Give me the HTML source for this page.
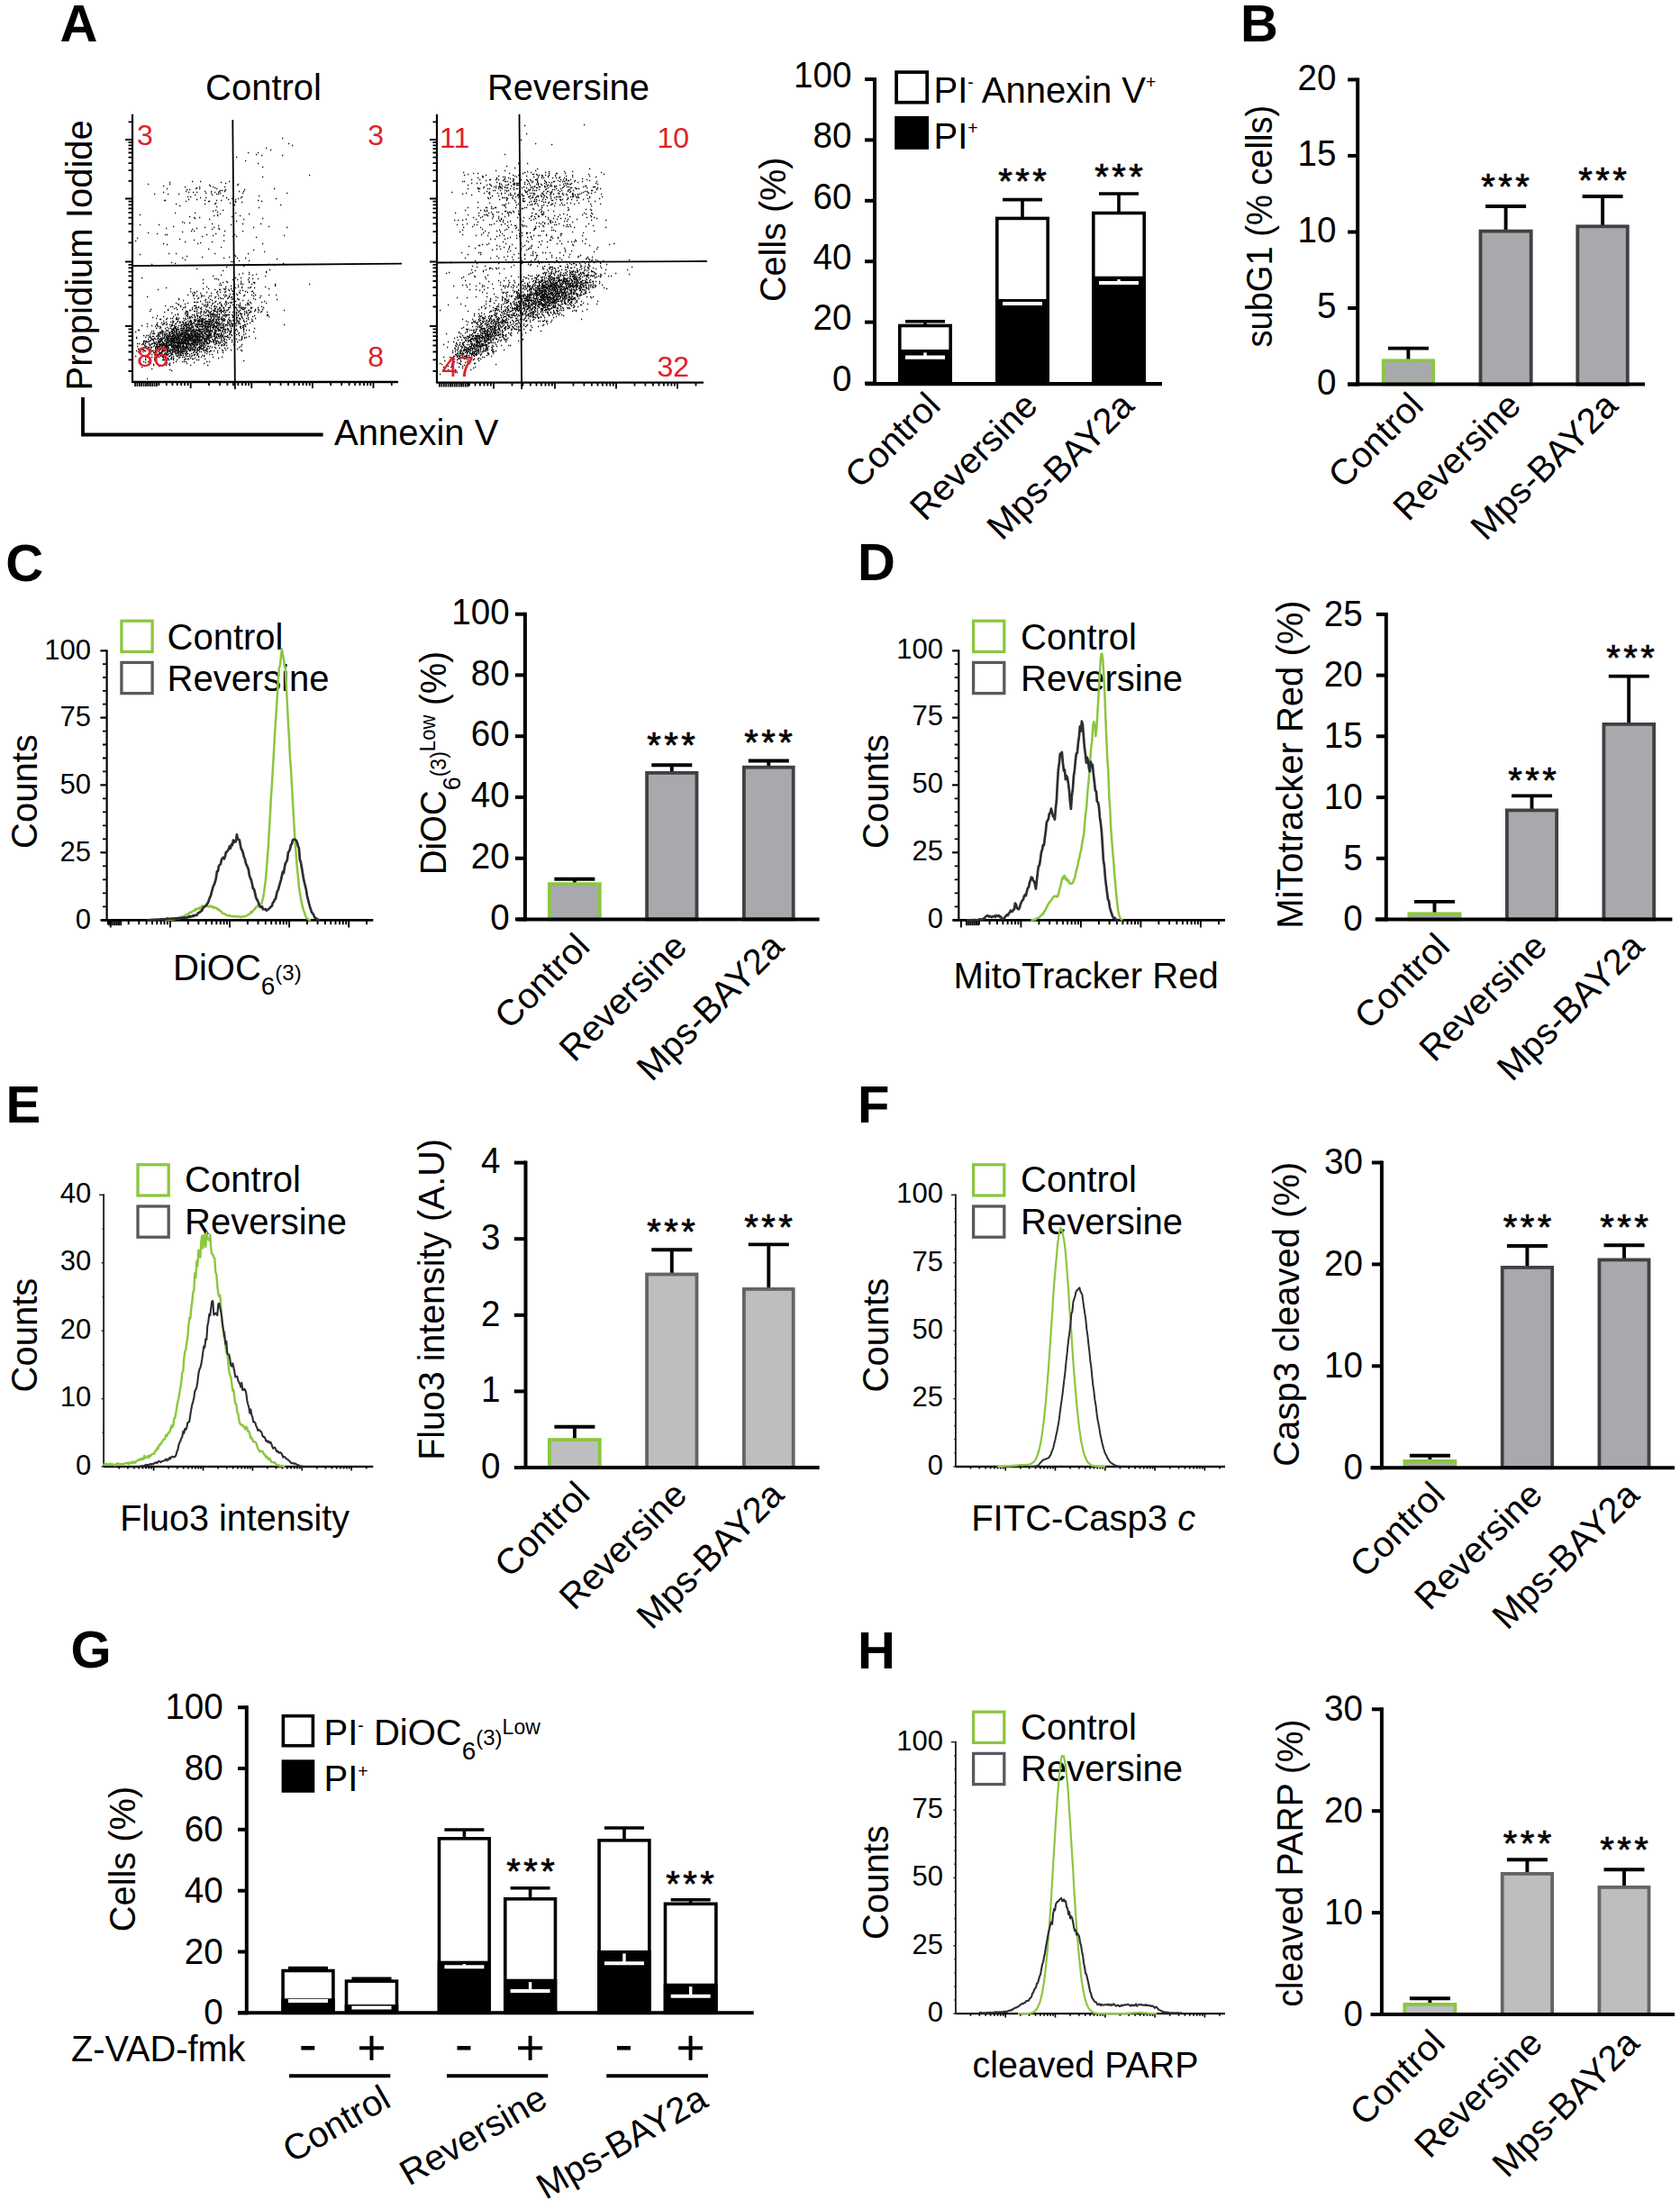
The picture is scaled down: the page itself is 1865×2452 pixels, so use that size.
<!DOCTYPE html>
<html lang="en"><head><meta charset="utf-8"><title>Figure</title>
<style>html,body{margin:0;padding:0;background:#fff}body{width:1865px;height:2452px;overflow:hidden}svg{display:block}text{white-space:pre}</style>
</head><body>
<svg width="1865" height="2452" viewBox="0 0 1865 2452" font-family="'Liberation Sans', Arial, Helvetica, sans-serif" fill="#000">
<rect x="0" y="0" width="1865" height="2452" fill="#fff"/>
<text x="66.5" y="45.6" font-size="58" font-weight="bold">A</text>
<text x="1377" y="45.6" font-size="58" font-weight="bold">B</text>
<text x="6.3" y="644.5" font-size="58" font-weight="bold">C</text>
<text x="952" y="644.2" font-size="58" font-weight="bold">D</text>
<text x="6.6" y="1246.2" font-size="58" font-weight="bold">E</text>
<text x="952" y="1246.2" font-size="58" font-weight="bold">F</text>
<text x="78.6" y="1851.3" font-size="58" font-weight="bold">G</text>
<text x="952" y="1851.5" font-size="58" font-weight="bold">H</text>
<path d="M200,380.5h1.3M210,395.5h1.3M197,389.5h1.3M182,375.5h1.3M190,375.5h1.3M181,381.5h1.3M203,386.5h1.3M223,367.5h1.3M190,376.5h1.3M190,388.5h1.3M211,383.5h1.3M206,375.5h1.3M200,370.5h1.3M180,372.5h1.3M198,374.5h1.3M209,360.5h1.3M177,391.5h1.3M190,377.5h1.3M166,391.5h1.3M180,399.5h1.3M168,396.5h1.3M194,372.5h1.3M178,391.5h1.3M207,386.5h1.3M202,373.5h1.3M195,373.5h1.3M153,390.5h1.3M187,370.5h1.3M202,390.5h1.3M198,361.5h1.3M170,378.5h1.3M191,379.5h1.3M182,382.5h1.3M185,384.5h1.3M220,376.5h1.3M185,381.5h1.3M201,387.5h1.3M212,359.5h1.3M189,382.5h1.3M197,374.5h1.3M202,379.5h1.3M202,380.5h1.3M176,378.5h1.3M200,374.5h1.3M226,379.5h1.3M172,389.5h1.3M215,370.5h1.3M206,393.5h1.3M192,399.5h1.3M234,359.5h1.3M215,378.5h1.3M182,403.5h1.3M203,384.5h1.3M211,378.5h1.3M196,378.5h1.3M212,372.5h1.3M198,378.5h1.3M211,372.5h1.3M228,378.5h1.3M187,379.5h1.3M203,375.5h1.3M189,372.5h1.3M202,378.5h1.3M189,380.5h1.3M198,387.5h1.3M217,378.5h1.3M222,377.5h1.3M176,388.5h1.3M185,383.5h1.3M212,375.5h1.3M163,386.5h1.3M193,387.5h1.3M196,372.5h1.3M226,383.5h1.3M213,376.5h1.3M193,375.5h1.3M192,377.5h1.3M194,375.5h1.3M228,373.5h1.3M191,376.5h1.3M196,389.5h1.3M205,372.5h1.3M194,363.5h1.3M195,375.5h1.3M176,370.5h1.3M200,379.5h1.3M194,389.5h1.3M223,378.5h1.3M210,366.5h1.3M216,389.5h1.3M194,383.5h1.3M219,374.5h1.3M202,387.5h1.3M215,394.5h1.3M179,394.5h1.3M207,378.5h1.3M170,389.5h1.3M164,393.5h1.3M193,376.5h1.3M181,375.5h1.3M203,379.5h1.3M240,362.5h1.3M185,382.5h1.3M189,383.5h1.3M208,395.5h1.3M208,371.5h1.3M197,379.5h1.3M196,379.5h1.3M214,379.5h1.3M211,384.5h1.3M180,380.5h1.3M197,373.5h1.3M198,367.5h1.3M179,377.5h1.3M206,382.5h1.3M184,383.5h1.3M216,367.5h1.3M190,385.5h1.3M197,375.5h1.3M176,371.5h1.3M205,369.5h1.3M164,401.5h1.3M167,385.5h1.3M214,377.5h1.3M184,380.5h1.3M213,370.5h1.3M172,386.5h1.3M223,373.5h1.3M223,359.5h1.3M199,378.5h1.3M193,374.5h1.3M196,376.5h1.3M182,385.5h1.3M221,379.5h1.3M192,388.5h1.3M198,376.5h1.3M187,389.5h1.3M191,390.5h1.3M179,393.5h1.3M217,373.5h1.3M202,385.5h1.3M185,372.5h1.3M194,382.5h1.3M189,378.5h1.3M199,376.5h1.3M190,368.5h1.3M175,385.5h1.3M232,379.5h1.3M187,382.5h1.3M180,382.5h1.3M205,371.5h1.3M227,375.5h1.3M173,384.5h1.3M197,384.5h1.3M192,395.5h1.3M167,387.5h1.3M211,365.5h1.3M198,373.5h1.3M199,368.5h1.3M184,374.5h1.3M211,386.5h1.3M190,383.5h1.3M195,369.5h1.3M181,389.5h1.3M180,394.5h1.3M224,370.5h1.3M189,376.5h1.3M205,375.5h1.3M200,381.5h1.3M193,386.5h1.3M193,390.5h1.3M214,385.5h1.3M200,390.5h1.3M202,384.5h1.3M219,362.5h1.3M208,380.5h1.3M189,379.5h1.3M176,392.5h1.3M217,372.5h1.3M216,368.5h1.3M211,381.5h1.3M215,377.5h1.3M217,382.5h1.3M219,382.5h1.3M192,384.5h1.3M223,354.5h1.3M176,380.5h1.3M215,372.5h1.3M207,370.5h1.3M216,376.5h1.3M237,379.5h1.3M226,369.5h1.3M177,376.5h1.3M173,402.5h1.3M214,372.5h1.3M179,375.5h1.3M216,378.5h1.3M168,381.5h1.3M163,394.5h1.3M204,374.5h1.3M199,372.5h1.3M196,381.5h1.3M183,378.5h1.3M173,388.5h1.3M187,404.5h1.3M212,387.5h1.3M199,379.5h1.3M207,376.5h1.3M183,389.5h1.3M189,389.5h1.3M184,393.5h1.3M184,385.5h1.3M203,374.5h1.3M185,379.5h1.3M207,381.5h1.3M207,382.5h1.3M240,380.5h1.3M175,388.5h1.3M218,383.5h1.3M201,390.5h1.3M171,375.5h1.3M189,373.5h1.3M201,391.5h1.3M200,372.5h1.3M222,378.5h1.3M203,392.5h1.3M161,396.5h1.3M187,381.5h1.3M163,387.5h1.3M191,383.5h1.3M224,369.5h1.3M201,379.5h1.3M181,396.5h1.3M180,371.5h1.3M221,376.5h1.3M201,372.5h1.3M201,380.5h1.3M201,385.5h1.3M201,378.5h1.3M216,381.5h1.3M207,365.5h1.3M206,386.5h1.3M180,379.5h1.3M188,383.5h1.3M215,355.5h1.3M175,379.5h1.3M198,381.5h1.3M203,390.5h1.3M176,387.5h1.3M232,373.5h1.3M224,362.5h1.3M194,392.5h1.3M218,389.5h1.3M207,377.5h1.3M151,389.5h1.3M202,366.5h1.3M200,386.5h1.3M206,398.5h1.3M198,384.5h1.3M220,366.5h1.3M209,387.5h1.3M198,370.5h1.3M228,370.5h1.3M190,384.5h1.3M194,387.5h1.3M167,390.5h1.3M230,375.5h1.3M216,369.5h1.3M215,365.5h1.3M212,376.5h1.3M201,373.5h1.3M202,368.5h1.3M193,371.5h1.3M195,376.5h1.3M198,365.5h1.3M225,362.5h1.3M199,381.5h1.3M192,397.5h1.3M227,361.5h1.3M208,372.5h1.3M203,385.5h1.3M193,379.5h1.3M179,382.5h1.3M202,392.5h1.3M215,373.5h1.3M191,372.5h1.3M193,370.5h1.3M197,382.5h1.3M203,381.5h1.3M168,376.5h1.3M194,373.5h1.3M185,387.5h1.3M217,379.5h1.3M185,378.5h1.3M212,381.5h1.3M229,376.5h1.3M191,367.5h1.3M188,379.5h1.3M204,381.5h1.3M199,375.5h1.3M178,368.5h1.3M208,375.5h1.3M239,375.5h1.3M198,392.5h1.3M192,364.5h1.3M185,403.5h1.3M204,369.5h1.3M179,392.5h1.3M182,393.5h1.3M225,380.5h1.3M184,384.5h1.3M218,366.5h1.3M229,377.5h1.3M203,373.5h1.3M206,358.5h1.3M241,391.5h1.3M198,385.5h1.3M173,379.5h1.3M203,389.5h1.3M230,384.5h1.3M221,386.5h1.3M183,383.5h1.3M182,374.5h1.3M190,380.5h1.3M201,362.5h1.3M193,368.5h1.3M204,379.5h1.3M204,370.5h1.3M194,379.5h1.3M207,392.5h1.3M201,389.5h1.3M209,376.5h1.3M209,371.5h1.3M200,376.5h1.3M171,393.5h1.3M205,368.5h1.3M164,386.5h1.3M172,376.5h1.3M216,388.5h1.3M196,374.5h1.3M169,389.5h1.3M192,374.5h1.3M185,374.5h1.3M209,367.5h1.3M244,379.5h1.3M187,386.5h1.3M177,379.5h1.3M200,384.5h1.3M196,377.5h1.3M180,390.5h1.3M179,386.5h1.3M219,370.5h1.3M219,371.5h1.3M188,369.5h1.3M209,373.5h1.3M193,380.5h1.3M176,386.5h1.3M174,389.5h1.3M212,365.5h1.3M195,374.5h1.3M202,371.5h1.3M220,380.5h1.3M171,399.5h1.3M203,376.5h1.3M210,388.5h1.3M190,370.5h1.3M222,385.5h1.3M173,364.5h1.3M188,403.5h1.3M218,387.5h1.3M207,369.5h1.3M165,389.5h1.3M224,371.5h1.3M211,377.5h1.3M222,362.5h1.3M192,376.5h1.3M195,384.5h1.3M180,386.5h1.3M249,376.5h1.3M197,380.5h1.3M234,389.5h1.3M187,377.5h1.3M203,380.5h1.3M166,373.5h1.3M221,384.5h1.3M175,378.5h1.3M221,378.5h1.3M206,377.5h1.3M179,376.5h1.3M190,379.5h1.3M191,377.5h1.3M191,387.5h1.3M186,388.5h1.3M177,387.5h1.3M218,382.5h1.3M177,405.5h1.3M188,382.5h1.3M214,369.5h1.3M189,375.5h1.3M226,365.5h1.3M185,380.5h1.3M206,374.5h1.3M197,385.5h1.3M210,375.5h1.3M195,371.5h1.3M214,388.5h1.3M200,383.5h1.3M183,397.5h1.3M200,385.5h1.3M204,390.5h1.3M185,388.5h1.3M204,399.5h1.3M166,378.5h1.3M183,396.5h1.3M223,383.5h1.3M171,381.5h1.3M181,387.5h1.3M185,376.5h1.3M178,379.5h1.3M206,373.5h1.3M187,383.5h1.3M212,380.5h1.3M183,372.5h1.3M212,392.5h1.3M184,392.5h1.3M179,390.5h1.3M165,385.5h1.3M234,370.5h1.3M195,385.5h1.3M205,381.5h1.3M196,367.5h1.3M204,384.5h1.3M206,401.5h1.3M232,356.5h1.3M183,391.5h1.3M181,383.5h1.3M178,395.5h1.3M212,367.5h1.3M215,376.5h1.3M185,394.5h1.3M174,384.5h1.3M193,378.5h1.3M226,373.5h1.3M213,388.5h1.3M178,377.5h1.3M221,381.5h1.3M178,375.5h1.3M196,385.5h1.3M172,385.5h1.3M177,364.5h1.3M213,367.5h1.3M192,378.5h1.3M187,395.5h1.3M163,379.5h1.3M191,373.5h1.3M199,380.5h1.3M180,387.5h1.3M226,382.5h1.3M236,377.5h1.3M186,383.5h1.3M188,377.5h1.3M190,397.5h1.3M210,373.5h1.3M199,385.5h1.3M206,383.5h1.3M185,377.5h1.3M183,384.5h1.3M187,372.5h1.3M206,384.5h1.3M204,388.5h1.3M176,390.5h1.3M199,396.5h1.3M201,376.5h1.3M198,383.5h1.3M191,375.5h1.3M193,381.5h1.3M191,366.5h1.3M177,381.5h1.3M201,366.5h1.3M202,376.5h1.3M192,382.5h1.3M208,368.5h1.3M170,391.5h1.3M206,368.5h1.3M204,376.5h1.3M208,387.5h1.3M206,372.5h1.3M187,378.5h1.3M197,388.5h1.3M211,373.5h1.3M207,375.5h1.3M204,380.5h1.3M174,394.5h1.3M206,360.5h1.3M220,367.5h1.3M217,367.5h1.3M202,370.5h1.3M170,380.5h1.3M198,382.5h1.3M152,384.5h1.3M173,389.5h1.3M175,380.5h1.3M227,385.5h1.3M204,373.5h1.3M232,370.5h1.3M228,365.5h1.3M197,387.5h1.3M210,385.5h1.3M184,376.5h1.3M198,375.5h1.3M217,391.5h1.3M208,382.5h1.3M174,402.5h1.3M206,380.5h1.3M191,370.5h1.3M189,381.5h1.3M184,382.5h1.3M158,388.5h1.3M190,365.5h1.3M218,381.5h1.3M199,377.5h1.3M214,374.5h1.3M150,395.5h1.3M195,370.5h1.3M208,370.5h1.3M213,378.5h1.3M232,372.5h1.3M220,371.5h1.3M205,373.5h1.3M204,372.5h1.3M214,375.5h1.3M192,390.5h1.3M197,371.5h1.3M219,386.5h1.3M238,376.5h1.3M201,367.5h1.3M222,360.5h1.3M197,370.5h1.3M182,381.5h1.3M197,381.5h1.3M211,360.5h1.3M220,378.5h1.3M170,376.5h1.3M182,378.5h1.3M205,374.5h1.3M186,374.5h1.3M169,376.5h1.3M209,377.5h1.3M210,381.5h1.3M192,385.5h1.3M194,374.5h1.3M219,367.5h1.3M184,386.5h1.3M181,368.5h1.3M206,387.5h1.3M186,379.5h1.3M211,370.5h1.3M205,380.5h1.3M185,391.5h1.3M202,381.5h1.3M195,388.5h1.3M217,376.5h1.3M191,391.5h1.3M194,390.5h1.3M222,373.5h1.3M237,371.5h1.3M180,374.5h1.3M203,383.5h1.3M209,379.5h1.3M185,385.5h1.3M166,371.5h1.3M173,385.5h1.3M213,381.5h1.3M198,380.5h1.3M200,361.5h1.3M180,370.5h1.3M195,386.5h1.3M181,382.5h1.3M222,380.5h1.3M198,372.5h1.3M198,397.5h1.3M212,371.5h1.3M170,384.5h1.3M195,389.5h1.3M250,380.5h1.3M195,367.5h1.3M215,384.5h1.3M240,378.5h1.3M197,386.5h1.3M221,367.5h1.3M188,371.5h1.3M237,377.5h1.3M230,366.5h1.3M215,393.5h1.3M161,384.5h1.3M213,382.5h1.3M200,393.5h1.3M209,381.5h1.3M210,367.5h1.3M171,397.5h1.3M196,388.5h1.3M192,373.5h1.3M157,387.5h1.3M221,368.5h1.3M221,375.5h1.3M239,378.5h1.3M164,376.5h1.3M179,391.5h1.3M162,384.5h1.3M174,393.5h1.3M194,364.5h1.3M186,372.5h1.3M167,377.5h1.3M233,368.5h1.3M237,373.5h1.3M220,356.5h1.3M214,381.5h1.3M225,365.5h1.3M192,369.5h1.3M205,392.5h1.3M180,385.5h1.3M196,391.5h1.3M241,365.5h1.3M212,385.5h1.3M212,370.5h1.3M179,381.5h1.3M200,394.5h1.3M218,377.5h1.3M205,379.5h1.3M206,395.5h1.3M229,374.5h1.3M186,376.5h1.3M188,373.5h1.3M230,380.5h1.3M166,397.5h1.3M189,377.5h1.3M213,377.5h1.3M211,376.5h1.3M224,365.5h1.3M172,390.5h1.3M210,361.5h1.3M194,377.5h1.3M209,375.5h1.3M159,380.5h1.3M194,385.5h1.3M204,367.5h1.3M230,374.5h1.3M172,387.5h1.3M188,390.5h1.3M180,396.5h1.3M165,396.5h1.3M200,388.5h1.3M204,387.5h1.3M224,377.5h1.3M209,380.5h1.3M208,379.5h1.3M175,393.5h1.3M198,393.5h1.3M204,377.5h1.3M177,392.5h1.3M230,371.5h1.3M201,377.5h1.3M181,399.5h1.3M168,385.5h1.3M192,371.5h1.3M186,380.5h1.3M206,394.5h1.3M212,383.5h1.3M185,375.5h1.3M200,382.5h1.3M219,379.5h1.3M251,380.5h1.3M213,368.5h1.3M179,384.5h1.3M195,362.5h1.3M183,388.5h1.3M183,387.5h1.3M190,378.5h1.3M159,379.5h1.3M176,396.5h1.3M193,383.5h1.3M205,386.5h1.3M199,390.5h1.3M166,383.5h1.3M210,376.5h1.3M198,379.5h1.3M214,384.5h1.3M178,383.5h1.3M220,370.5h1.3M191,381.5h1.3M216,371.5h1.3M196,375.5h1.3M249,382.5h1.3M217,385.5h1.3M210,393.5h1.3M223,376.5h1.3M168,389.5h1.3M195,383.5h1.3M228,388.5h1.3M204,371.5h1.3M216,380.5h1.3M219,388.5h1.3M238,367.5h1.3M206,385.5h1.3M205,387.5h1.3M231,363.5h1.3M209,378.5h1.3M191,378.5h1.3M199,383.5h1.3M182,395.5h1.3M196,365.5h1.3M216,374.5h1.3M181,380.5h1.3M196,384.5h1.3M211,369.5h1.3M180,383.5h1.3M201,371.5h1.3M182,389.5h1.3M242,367.5h1.3M238,372.5h1.3M211,364.5h1.3M228,371.5h1.3M222,383.5h1.3M225,367.5h1.3M206,389.5h1.3M190,392.5h1.3M211,367.5h1.3M208,373.5h1.3M188,370.5h1.3M161,389.5h1.3M214,366.5h1.3M204,385.5h1.3M188,388.5h1.3M222,374.5h1.3M225,386.5h1.3M189,387.5h1.3M178,376.5h1.3M177,388.5h1.3M197,394.5h1.3M220,385.5h1.3M221,370.5h1.3M192,380.5h1.3M214,378.5h1.3M211,397.5h1.3M186,366.5h1.3M188,375.5h1.3M215,368.5h1.3M224,379.5h1.3M210,372.5h1.3M182,373.5h1.3M231,359.5h1.3M231,371.5h1.3M165,393.5h1.3M216,385.5h1.3M209,363.5h1.3M197,372.5h1.3M161,402.5h1.3M212,378.5h1.3M183,393.5h1.3M217,370.5h1.3M195,379.5h1.3M185,390.5h1.3M174,396.5h1.3M207,367.5h1.3M219,377.5h1.3M215,357.5h1.3M223,390.5h1.3M200,371.5h1.3M220,377.5h1.3M208,374.5h1.3M188,395.5h1.3M208,384.5h1.3M209,383.5h1.3M193,385.5h1.3M238,373.5h1.3M209,388.5h1.3M233,371.5h1.3M221,388.5h1.3M186,375.5h1.3M192,379.5h1.3M206,367.5h1.3M202,383.5h1.3M197,391.5h1.3M165,382.5h1.3M196,380.5h1.3M158,387.5h1.3M193,367.5h1.3M174,386.5h1.3M167,382.5h1.3M160,378.5h1.3M186,397.5h1.3M227,362.5h1.3M183,395.5h1.3M213,380.5h1.3M174,383.5h1.3M203,369.5h1.3M209,370.5h1.3M232,369.5h1.3M186,398.5h1.3M213,366.5h1.3M203,394.5h1.3M231,366.5h1.3M159,372.5h1.3M197,395.5h1.3M195,380.5h1.3M255,361.5h1.3M213,375.5h1.3M246,383.5h1.3M235,393.5h1.3M204,365.5h1.3M247,368.5h1.3M178,382.5h1.3M249,379.5h1.3M241,371.5h1.3M198,390.5h1.3M227,388.5h1.3M241,370.5h1.3M218,362.5h1.3M172,380.5h1.3M231,356.5h1.3M218,372.5h1.3M204,378.5h1.3M238,343.5h1.3M232,367.5h1.3M216,373.5h1.3M173,373.5h1.3M245,377.5h1.3M277,346.5h1.3M197,363.5h1.3M213,361.5h1.3M207,374.5h1.3M234,379.5h1.3M248,365.5h1.3M185,367.5h1.3M253,354.5h1.3M239,345.5h1.3M192,386.5h1.3M210,363.5h1.3M240,349.5h1.3M229,380.5h1.3M233,378.5h1.3M227,363.5h1.3M230,381.5h1.3M252,357.5h1.3M231,384.5h1.3M238,371.5h1.3M263,367.5h1.3M162,378.5h1.3M245,353.5h1.3M203,359.5h1.3M203,371.5h1.3M200,392.5h1.3M226,364.5h1.3M174,376.5h1.3M255,374.5h1.3M225,384.5h1.3M191,360.5h1.3M192,372.5h1.3M186,387.5h1.3M205,360.5h1.3M179,389.5h1.3M195,392.5h1.3M218,370.5h1.3M265,369.5h1.3M228,361.5h1.3M202,360.5h1.3M169,373.5h1.3M176,376.5h1.3M167,374.5h1.3M236,379.5h1.3M198,391.5h1.3M195,366.5h1.3M216,370.5h1.3M248,355.5h1.3M206,378.5h1.3M236,361.5h1.3M182,359.5h1.3M175,371.5h1.3M227,369.5h1.3M278,345.5h1.3M187,375.5h1.3M243,381.5h1.3M218,360.5h1.3M183,371.5h1.3M266,363.5h1.3M170,404.5h1.3M219,351.5h1.3M223,369.5h1.3M236,364.5h1.3M228,379.5h1.3M231,362.5h1.3M161,386.5h1.3M252,361.5h1.3M273,356.5h1.3M239,363.5h1.3M243,375.5h1.3M177,382.5h1.3M211,375.5h1.3M196,366.5h1.3M237,356.5h1.3M190,367.5h1.3M162,379.5h1.3M207,362.5h1.3M217,374.5h1.3M197,383.5h1.3M190,360.5h1.3M268,375.5h1.3M183,381.5h1.3M245,364.5h1.3M267,350.5h1.3M229,392.5h1.3M192,366.5h1.3M244,373.5h1.3M187,368.5h1.3M251,360.5h1.3M252,365.5h1.3M223,396.5h1.3M228,358.5h1.3M233,366.5h1.3M256,367.5h1.3M241,351.5h1.3M218,376.5h1.3M174,388.5h1.3M190,382.5h1.3M249,350.5h1.3M265,356.5h1.3M244,359.5h1.3M210,364.5h1.3M226,385.5h1.3M192,402.5h1.3M218,375.5h1.3M190,393.5h1.3M225,374.5h1.3M214,373.5h1.3M203,364.5h1.3M219,378.5h1.3M207,366.5h1.3M231,367.5h1.3M250,373.5h1.3M167,375.5h1.3M206,381.5h1.3M219,373.5h1.3M228,346.5h1.3M220,374.5h1.3M179,366.5h1.3M252,374.5h1.3M234,345.5h1.3M231,349.5h1.3M239,351.5h1.3M199,357.5h1.3M221,377.5h1.3M218,369.5h1.3M215,367.5h1.3M166,390.5h1.3M226,389.5h1.3M244,367.5h1.3M222,372.5h1.3M202,369.5h1.3M215,388.5h1.3M197,365.5h1.3M219,392.5h1.3M232,341.5h1.3M218,379.5h1.3M206,362.5h1.3M237,370.5h1.3M225,387.5h1.3M194,368.5h1.3M189,362.5h1.3M260,369.5h1.3M211,389.5h1.3M246,339.5h1.3M246,379.5h1.3M227,366.5h1.3M275,354.5h1.3M223,365.5h1.3M181,397.5h1.3M173,360.5h1.3M229,387.5h1.3M180,367.5h1.3M177,383.5h1.3M176,382.5h1.3M236,360.5h1.3M243,360.5h1.3M286,346.5h1.3M238,369.5h1.3M196,368.5h1.3M210,377.5h1.3M239,364.5h1.3M231,373.5h1.3M230,372.5h1.3M223,381.5h1.3M233,372.5h1.3M257,379.5h1.3M202,375.5h1.3M177,378.5h1.3M259,369.5h1.3M249,368.5h1.3M233,365.5h1.3M213,352.5h1.3M211,382.5h1.3M224,355.5h1.3M207,385.5h1.3M235,360.5h1.3M221,374.5h1.3M208,378.5h1.3M209,365.5h1.3M201,369.5h1.3M229,345.5h1.3M216,352.5h1.3M176,384.5h1.3M240,374.5h1.3M230,361.5h1.3M226,372.5h1.3M191,385.5h1.3M233,367.5h1.3M207,371.5h1.3M227,378.5h1.3M208,392.5h1.3M221,366.5h1.3M207,350.5h1.3M229,366.5h1.3M214,367.5h1.3M196,354.5h1.3M221,362.5h1.3M206,370.5h1.3M191,368.5h1.3M230,376.5h1.3M274,338.5h1.3M228,389.5h1.3M192,365.5h1.3M250,361.5h1.3M203,387.5h1.3M208,356.5h1.3M176,372.5h1.3M203,357.5h1.3M267,364.5h1.3M234,374.5h1.3M219,361.5h1.3M257,361.5h1.3M240,355.5h1.3M211,374.5h1.3M223,377.5h1.3M219,359.5h1.3M213,349.5h1.3M160,389.5h1.3M160,383.5h1.3M214,365.5h1.3M216,379.5h1.3M232,368.5h1.3M234,356.5h1.3M258,361.5h1.3M260,348.5h1.3M179,368.5h1.3M240,361.5h1.3M229,381.5h1.3M225,371.5h1.3M242,380.5h1.3M189,364.5h1.3M193,372.5h1.3M216,387.5h1.3M177,386.5h1.3M231,375.5h1.3M165,387.5h1.3M201,381.5h1.3M216,377.5h1.3M236,357.5h1.3M212,362.5h1.3M226,346.5h1.3M250,388.5h1.3M215,359.5h1.3M231,381.5h1.3M240,363.5h1.3M240,371.5h1.3M236,362.5h1.3M226,403.5h1.3M247,363.5h1.3M159,382.5h1.3M250,366.5h1.3M186,389.5h1.3M187,364.5h1.3M270,362.5h1.3M172,381.5h1.3M224,353.5h1.3M262,350.5h1.3M151,374.5h1.3M216,372.5h1.3M205,376.5h1.3M200,364.5h1.3M157,382.5h1.3M223,360.5h1.3M157,361.5h1.3M194,359.5h1.3M274,350.5h1.3M228,377.5h1.3M243,365.5h1.3M225,360.5h1.3M204,396.5h1.3M235,376.5h1.3M164,372.5h1.3M264,346.5h1.3M208,385.5h1.3M222,367.5h1.3M174,387.5h1.3M175,369.5h1.3M241,357.5h1.3M225,361.5h1.3M232,377.5h1.3M189,391.5h1.3M223,380.5h1.3M191,384.5h1.3M243,370.5h1.3M218,341.5h1.3M217,380.5h1.3M228,353.5h1.3M242,379.5h1.3M231,360.5h1.3M248,378.5h1.3M212,395.5h1.3M205,385.5h1.3M215,390.5h1.3M250,346.5h1.3M257,377.5h1.3M206,371.5h1.3M260,375.5h1.3M212,368.5h1.3M219,353.5h1.3M238,370.5h1.3M283,375.5h1.3M225,388.5h1.3M247,360.5h1.3M239,362.5h1.3M228,340.5h1.3M235,368.5h1.3M265,385.5h1.3M215,380.5h1.3M237,360.5h1.3M196,383.5h1.3M240,358.5h1.3M219,350.5h1.3M184,396.5h1.3M225,375.5h1.3M206,361.5h1.3M193,377.5h1.3M258,352.5h1.3M175,384.5h1.3M227,359.5h1.3M227,356.5h1.3M186,393.5h1.3M203,365.5h1.3M221,382.5h1.3M189,398.5h1.3M242,371.5h1.3M245,372.5h1.3M221,360.5h1.3M196,370.5h1.3M226,375.5h1.3M221,387.5h1.3M188,405.5h1.3M218,374.5h1.3M215,371.5h1.3M227,379.5h1.3M174,372.5h1.3M221,354.5h1.3M225,381.5h1.3M239,354.5h1.3M185,389.5h1.3M170,367.5h1.3M219,366.5h1.3M267,348.5h1.3M230,368.5h1.3M190,374.5h1.3M228,343.5h1.3M279,341.5h1.3M224,375.5h1.3M230,359.5h1.3M226,358.5h1.3M261,359.5h1.3M219,363.5h1.3M252,386.5h1.3M183,364.5h1.3M254,371.5h1.3M247,341.5h1.3M222,351.5h1.3M217,366.5h1.3M257,372.5h1.3M230,363.5h1.3M224,357.5h1.3M216,342.5h1.3M242,366.5h1.3M224,359.5h1.3M276,373.5h1.3M234,353.5h1.3M238,361.5h1.3M229,362.5h1.3M171,380.5h1.3M229,372.5h1.3M239,379.5h1.3M296,350.5h1.3M226,339.5h1.3M200,387.5h1.3M186,377.5h1.3M199,373.5h1.3M184,373.5h1.3M199,384.5h1.3M186,373.5h1.3M175,375.5h1.3M180,388.5h1.3M224,363.5h1.3M211,355.5h1.3M239,357.5h1.3M232,371.5h1.3M180,395.5h1.3M276,366.5h1.3M243,357.5h1.3M180,368.5h1.3M229,386.5h1.3M233,363.5h1.3M210,351.5h1.3M206,391.5h1.3M239,366.5h1.3M222,370.5h1.3M203,382.5h1.3M194,384.5h1.3M221,352.5h1.3M262,353.5h1.3M271,375.5h1.3M188,389.5h1.3M229,364.5h1.3M177,362.5h1.3M180,384.5h1.3M177,369.5h1.3M242,355.5h1.3M218,373.5h1.3M226,377.5h1.3M232,378.5h1.3M165,378.5h1.3M257,362.5h1.3M230,373.5h1.3M201,370.5h1.3M176,406.5h1.3M231,377.5h1.3M195,359.5h1.3M255,360.5h1.3M209,386.5h1.3M205,398.5h1.3M253,374.5h1.3M228,375.5h1.3M173,382.5h1.3M220,359.5h1.3M223,350.5h1.3M217,360.5h1.3M215,354.5h1.3M184,366.5h1.3M161,399.5h1.3M190,381.5h1.3M200,389.5h1.3M211,387.5h1.3M180,376.5h1.3M189,394.5h1.3M217,371.5h1.3M206,366.5h1.3M262,354.5h1.3M247,373.5h1.3M254,376.5h1.3M255,369.5h1.3M265,353.5h1.3M208,377.5h1.3M228,362.5h1.3M220,388.5h1.3M192,398.5h1.3M235,367.5h1.3M241,359.5h1.3M240,357.5h1.3M226,367.5h1.3M265,377.5h1.3M178,370.5h1.3M224,387.5h1.3M204,364.5h1.3M198,386.5h1.3M245,370.5h1.3M203,378.5h1.3M190,361.5h1.3M237,354.5h1.3M247,391.5h1.3M213,374.5h1.3M237,353.5h1.3M191,365.5h1.3M254,358.5h1.3M186,386.5h1.3M191,393.5h1.3M208,363.5h1.3M225,349.5h1.3M193,366.5h1.3M282,345.5h1.3M240,381.5h1.3M196,392.5h1.3M198,389.5h1.3M233,351.5h1.3M177,373.5h1.3M178,363.5h1.3M218,394.5h1.3M209,374.5h1.3M244,366.5h1.3M245,375.5h1.3M215,349.5h1.3M168,409.5h1.3M179,378.5h1.3M252,368.5h1.3M217,362.5h1.3M234,367.5h1.3M205,377.5h1.3M224,373.5h1.3M210,389.5h1.3M185,353.5h1.3M261,366.5h1.3M212,363.5h1.3M214,382.5h1.3M225,357.5h1.3M159,401.5h1.3M246,363.5h1.3M164,385.5h1.3M209,372.5h1.3M217,356.5h1.3M228,359.5h1.3M262,365.5h1.3M239,374.5h1.3M233,370.5h1.3M209,364.5h1.3M226,394.5h1.3M221,357.5h1.3M199,371.5h1.3M198,388.5h1.3M256,366.5h1.3M200,391.5h1.3M174,395.5h1.3M278,342.5h1.3M249,354.5h1.3M255,362.5h1.3M240,373.5h1.3M194,391.5h1.3M234,361.5h1.3M182,370.5h1.3M236,350.5h1.3M205,378.5h1.3M223,370.5h1.3M170,369.5h1.3M213,373.5h1.3M191,369.5h1.3M234,348.5h1.3M191,361.5h1.3M237,369.5h1.3M205,389.5h1.3M229,367.5h1.3M235,355.5h1.3M266,347.5h1.3M246,358.5h1.3M221,373.5h1.3M213,371.5h1.3M254,367.5h1.3M239,367.5h1.3M248,356.5h1.3M246,367.5h1.3M209,398.5h1.3M161,379.5h1.3M236,363.5h1.3M238,385.5h1.3M215,382.5h1.3M212,374.5h1.3M178,393.5h1.3M222,368.5h1.3M222,365.5h1.3M270,366.5h1.3M229,371.5h1.3M231,374.5h1.3M212,351.5h1.3M246,388.5h1.3M246,377.5h1.3M239,356.5h1.3M236,355.5h1.3M228,376.5h1.3M186,390.5h1.3M265,372.5h1.3M215,350.5h1.3M178,386.5h1.3M201,360.5h1.3M164,379.5h1.3M154,387.5h1.3M175,394.5h1.3M217,355.5h1.3M216,383.5h1.3M213,394.5h1.3M159,388.5h1.3M203,362.5h1.3M183,385.5h1.3M218,399.5h1.3M262,343.5h1.3M183,368.5h1.3M169,381.5h1.3M190,398.5h1.3M244,380.5h1.3M196,386.5h1.3M183,377.5h1.3M229,356.5h1.3M215,379.5h1.3M241,378.5h1.3M175,374.5h1.3M174,385.5h1.3M232,358.5h1.3M250,360.5h1.3M242,383.5h1.3M273,353.5h1.3M235,373.5h1.3M267,377.5h1.3M205,358.5h1.3M217,368.5h1.3M216,375.5h1.3M201,394.5h1.3M191,358.5h1.3M208,366.5h1.3M187,392.5h1.3M254,356.5h1.3M245,371.5h1.3M216,356.5h1.3M270,368.5h1.3M150,368.5h1.3M210,353.5h1.3M221,355.5h1.3M270,355.5h1.3M270,364.5h1.3M223,356.5h1.3M237,389.5h1.3M238,339.5h1.3M222,386.5h1.3M247,354.5h1.3M235,366.5h1.3M220,360.5h1.3M211,388.5h1.3M273,374.5h1.3M298,351.5h1.3M247,389.5h1.3M224,358.5h1.3M210,374.5h1.3M219,372.5h1.3M268,373.5h1.3M175,373.5h1.3M262,352.5h1.3M203,358.5h1.3M234,372.5h1.3M219,375.5h1.3M202,364.5h1.3M184,379.5h1.3M228,364.5h1.3M236,349.5h1.3M245,374.5h1.3M182,392.5h1.3M172,362.5h1.3M244,345.5h1.3M226,345.5h1.3M214,362.5h1.3M206,376.5h1.3M269,353.5h1.3M174,360.5h1.3M237,380.5h1.3M233,362.5h1.3M189,392.5h1.3M221,359.5h1.3M269,322.5h1.3M205,353.5h1.3M232,347.5h1.3M210,382.5h1.3M180,389.5h1.3M184,360.5h1.3M219,380.5h1.3M224,374.5h1.3M242,372.5h1.3M235,348.5h1.3M219,357.5h1.3M211,357.5h1.3M204,363.5h1.3M234,352.5h1.3M212,360.5h1.3M176,379.5h1.3M191,388.5h1.3M232,359.5h1.3M222,356.5h1.3M254,355.5h1.3M249,365.5h1.3M245,383.5h1.3M221,385.5h1.3M187,373.5h1.3M224,360.5h1.3M267,362.5h1.3M257,360.5h1.3M232,375.5h1.3M206,354.5h1.3M237,359.5h1.3M254,349.5h1.3M232,362.5h1.3M233,356.5h1.3M217,359.5h1.3M230,362.5h1.3M239,369.5h1.3M277,335.5h1.3M177,384.5h1.3M244,361.5h1.3M246,354.5h1.3M233,346.5h1.3M249,367.5h1.3M220,399.5h1.3M243,386.5h1.3M252,344.5h1.3M246,351.5h1.3M216,386.5h1.3M217,365.5h1.3M250,339.5h1.3M205,340.5h1.3M240,346.5h1.3M195,336.5h1.3M229,401.5h1.3M281,368.5h1.3M273,366.5h1.3M241,361.5h1.3M199,394.5h1.3M243,373.5h1.3M222,346.5h1.3M217,354.5h1.3M208,346.5h1.3M223,341.5h1.3M266,354.5h1.3M238,375.5h1.3M163,359.5h1.3M202,401.5h1.3M195,365.5h1.3M235,349.5h1.3M232,357.5h1.3M226,354.5h1.3M191,353.5h1.3M166,345.5h1.3M262,361.5h1.3M263,356.5h1.3M219,376.5h1.3M220,365.5h1.3M197,356.5h1.3M218,359.5h1.3M240,354.5h1.3M228,383.5h1.3M260,378.5h1.3M259,356.5h1.3M226,347.5h1.3M239,381.5h1.3M222,348.5h1.3M287,344.5h1.3M239,386.5h1.3M161,381.5h1.3M182,399.5h1.3M229,357.5h1.3M249,337.5h1.3M243,349.5h1.3M251,335.5h1.3M241,364.5h1.3M257,359.5h1.3M184,319.5h1.3M268,351.5h1.3M234,325.5h1.3M228,363.5h1.3M238,340.5h1.3M247,355.5h1.3M187,399.5h1.3M208,336.5h1.3M189,340.5h1.3M265,358.5h1.3M193,363.5h1.3M216,351.5h1.3M219,356.5h1.3M226,328.5h1.3M223,345.5h1.3M208,360.5h1.3M235,356.5h1.3M223,343.5h1.3M258,359.5h1.3M179,369.5h1.3M228,335.5h1.3M196,357.5h1.3M224,354.5h1.3M237,372.5h1.3M244,363.5h1.3M201,364.5h1.3M226,361.5h1.3M190,411.5h1.3M233,347.5h1.3M221,371.5h1.3M189,357.5h1.3M268,348.5h1.3M249,344.5h1.3M248,363.5h1.3M173,399.5h1.3M224,382.5h1.3M233,354.5h1.3M233,361.5h1.3M246,396.5h1.3M207,348.5h1.3M274,347.5h1.3M270,361.5h1.3M283,343.5h1.3M208,381.5h1.3M264,370.5h1.3M276,338.5h1.3M229,359.5h1.3M207,360.5h1.3M283,353.5h1.3M248,383.5h1.3M230,390.5h1.3M262,371.5h1.3M206,350.5h1.3M218,391.5h1.3M283,327.5h1.3M216,397.5h1.3M215,345.5h1.3M193,388.5h1.3M158,390.5h1.3M251,349.5h1.3M192,357.5h1.3M206,359.5h1.3M197,390.5h1.3M195,394.5h1.3M217,339.5h1.3M289,328.5h1.3M241,349.5h1.3M236,336.5h1.3M168,361.5h1.3M220,364.5h1.3M234,328.5h1.3M210,357.5h1.3M211,344.5h1.3M197,354.5h1.3M184,405.5h1.3M169,352.5h1.3M177,354.5h1.3M213,372.5h1.3M192,351.5h1.3M248,344.5h1.3M231,369.5h1.3M211,320.5h1.3M208,327.5h1.3M239,334.5h1.3M230,356.5h1.3M182,346.5h1.3M186,384.5h1.3M207,363.5h1.3M236,351.5h1.3M256,358.5h1.3M157,407.5h1.3M282,350.5h1.3M246,352.5h1.3M262,341.5h1.3M218,347.5h1.3M185,370.5h1.3M240,351.5h1.3M219,335.5h1.3M171,391.5h1.3M206,357.5h1.3M264,332.5h1.3M281,325.5h1.3M224,383.5h1.3M280,356.5h1.3M200,357.5h1.3M189,353.5h1.3M153,387.5h1.3M246,345.5h1.3M219,393.5h1.3M282,314.5h1.3M220,330.5h1.3M224,356.5h1.3M266,348.5h1.3M227,398.5h1.3M152,381.5h1.3M245,344.5h1.3M240,324.5h1.3M231,354.5h1.3M256,371.5h1.3M196,352.5h1.3M186,344.5h1.3M252,356.5h1.3M233,374.5h1.3M207,403.5h1.3M231,358.5h1.3M158,381.5h1.3M205,348.5h1.3M242,373.5h1.3M194,362.5h1.3M252,364.5h1.3M280,351.5h1.3M197,337.5h1.3M247,366.5h1.3M174,382.5h1.3M159,378.5h1.3M232,390.5h1.3M235,385.5h1.3M213,398.5h1.3M205,347.5h1.3M241,343.5h1.3M277,358.5h1.3M207,346.5h1.3M167,369.5h1.3M248,320.5h1.3M249,386.5h1.3M247,372.5h1.3M229,368.5h1.3M292,341.5h1.3M220,355.5h1.3M234,351.5h1.3M168,393.5h1.3M199,358.5h1.3M207,390.5h1.3M272,341.5h1.3M192,383.5h1.3M204,361.5h1.3M215,324.5h1.3M186,385.5h1.3M230,335.5h1.3M246,373.5h1.3M203,341.5h1.3M267,312.5h1.3M192,375.5h1.3M163,362.5h1.3M207,384.5h1.3M202,343.5h1.3M204,360.5h1.3M239,342.5h1.3M191,389.5h1.3M162,372.5h1.3M264,357.5h1.3M207,380.5h1.3M195,341.5h1.3M181,356.5h1.3M245,347.5h1.3M229,365.5h1.3M260,361.5h1.3M236,354.5h1.3M250,327.5h1.3M212,356.5h1.3M233,357.5h1.3M217,377.5h1.3M219,355.5h1.3M214,391.5h1.3M229,318.5h1.3M243,336.5h1.3M268,318.5h1.3M206,346.5h1.3M273,345.5h1.3M203,353.5h1.3M170,373.5h1.3M264,350.5h1.3M256,388.5h1.3M175,362.5h1.3M220,395.5h1.3M185,359.5h1.3M229,379.5h1.3M226,381.5h1.3M243,354.5h1.3M163,329.5h1.3M177,368.5h1.3M224,394.5h1.3M256,317.5h1.3M243,345.5h1.3M195,401.5h1.3M241,323.5h1.3M232,335.5h1.3M241,389.5h1.3M196,395.5h1.3M221,372.5h1.3M238,309.5h1.3M343,315.5h1.3M190,373.5h1.3M270,400.5h1.3M169,377.5h1.3M191,356.5h1.3M182,371.5h1.3M265,341.5h1.3M253,349.5h1.3M174,358.5h1.3M237,365.5h1.3M237,348.5h1.3M238,377.5h1.3M198,353.5h1.3M233,364.5h1.3M188,410.5h1.3M230,387.5h1.3M265,345.5h1.3M266,362.5h1.3M276,347.5h1.3M178,387.5h1.3M208,367.5h1.3M230,365.5h1.3M254,341.5h1.3M245,369.5h1.3M297,349.5h1.3M223,329.5h1.3M219,389.5h1.3M263,379.5h1.3M243,359.5h1.3M220,340.5h1.3M182,383.5h1.3M173,353.5h1.3M194,380.5h1.3M230,339.5h1.3M248,362.5h1.3M205,341.5h1.3M196,399.5h1.3M246,356.5h1.3M153,366.5h1.3M170,405.5h1.3M249,373.5h1.3M237,345.5h1.3M263,387.5h1.3M208,349.5h1.3M184,381.5h1.3M225,320.5h1.3M199,369.5h1.3M178,378.5h1.3M179,358.5h1.3M248,359.5h1.3M180,360.5h1.3M197,349.5h1.3M246,382.5h1.3M178,354.5h1.3M211,352.5h1.3M154,381.5h1.3M183,376.5h1.3M253,366.5h1.3M184,370.5h1.3M245,354.5h1.3M214,380.5h1.3M233,349.5h1.3M215,327.5h1.3M267,384.5h1.3M250,369.5h1.3M219,369.5h1.3M216,355.5h1.3M174,361.5h1.3M189,368.5h1.3M249,348.5h1.3M169,370.5h1.3M242,328.5h1.3M227,354.5h1.3M220,373.5h1.3M234,349.5h1.3M235,358.5h1.3M245,316.5h1.3M207,364.5h1.3M213,363.5h1.3M267,314.5h1.3M252,359.5h1.3M188,360.5h1.3M225,372.5h1.3M225,355.5h1.3M281,313.5h1.3M165,381.5h1.3M238,368.5h1.3M214,358.5h1.3M256,364.5h1.3M263,355.5h1.3M271,360.5h1.3M258,350.5h1.3M239,358.5h1.3M268,389.5h1.3M223,362.5h1.3M239,349.5h1.3M242,354.5h1.3M286,343.5h1.3M154,366.5h1.3M203,333.5h1.3M255,355.5h1.3M174,350.5h1.3M286,341.5h1.3M270,365.5h1.3M266,353.5h1.3M253,341.5h1.3M238,335.5h1.3M228,360.5h1.3M183,339.5h1.3M206,369.5h1.3M275,337.5h1.3M208,359.5h1.3M219,331.5h1.3M233,360.5h1.3M232,386.5h1.3M268,352.5h1.3M195,354.5h1.3M251,377.5h1.3M208,353.5h1.3M264,349.5h1.3M202,388.5h1.3M234,358.5h1.3M212,369.5h1.3M246,361.5h1.3M218,363.5h1.3M205,361.5h1.3M289,346.5h1.3M212,358.5h1.3M185,363.5h1.3M190,347.5h1.3M237,344.5h1.3M207,389.5h1.3M232,328.5h1.3M171,383.5h1.3M198,331.5h1.3M208,348.5h1.3M213,325.5h1.3M191,340.5h1.3M276,344.5h1.3M243,352.5h1.3M253,336.5h1.3M236,396.5h1.3M250,349.5h1.3M240,340.5h1.3M268,376.5h1.3M296,346.5h1.3M213,359.5h1.3M236,378.5h1.3M221,365.5h1.3M216,345.5h1.3M246,371.5h1.3M250,334.5h1.3M256,336.5h1.3M275,344.5h1.3M240,367.5h1.3M257,322.5h1.3M256,356.5h1.3M268,374.5h1.3M238,351.5h1.3M208,398.5h1.3M227,391.5h1.3M253,365.5h1.3M220,396.5h1.3M315,344.5h1.3M258,355.5h1.3M223,386.5h1.3M238,366.5h1.3M243,342.5h1.3M248,361.5h1.3M231,346.5h1.3M245,346.5h1.3M243,348.5h1.3M197,377.5h1.3M226,395.5h1.3M256,368.5h1.3M247,374.5h1.3M221,356.5h1.3M279,354.5h1.3M230,357.5h1.3M266,338.5h1.3M229,350.5h1.3M226,338.5h1.3M254,352.5h1.3M238,362.5h1.3M245,343.5h1.3M216,335.5h1.3M218,323.5h1.3M218,328.5h1.3M221,390.5h1.3M198,338.5h1.3M202,396.5h1.3M271,374.5h1.3M227,377.5h1.3M232,401.5h1.3M218,350.5h1.3M227,370.5h1.3M195,364.5h1.3M242,331.5h1.3M194,349.5h1.3M267,388.5h1.3M161,374.5h1.3M248,341.5h1.3M200,366.5h1.3M231,351.5h1.3M184,354.5h1.3M216,339.5h1.3M151,375.5h1.3M215,402.5h1.3M259,382.5h1.3M270,343.5h1.3M197,348.5h1.3M160,385.5h1.3M267,341.5h1.3M229,389.5h1.3M255,326.5h1.3M274,336.5h1.3M223,384.5h1.3M163,420.5h1.3M243,341.5h1.3M209,361.5h1.3M214,363.5h1.3M267,340.5h1.3M207,345.5h1.3M258,351.5h1.3M224,368.5h1.3M202,377.5h1.3M230,338.5h1.3M203,367.5h1.3M249,321.5h1.3M218,345.5h1.3M237,349.5h1.3M210,356.5h1.3M205,337.5h1.3M251,383.5h1.3M195,377.5h1.3M198,369.5h1.3M251,373.5h1.3M237,363.5h1.3M267,342.5h1.3M235,363.5h1.3M214,328.5h1.3M211,359.5h1.3M254,346.5h1.3M229,324.5h1.3M239,370.5h1.3M210,352.5h1.3M206,364.5h1.3M212,357.5h1.3M215,335.5h1.3M224,328.5h1.3M208,351.5h1.3M223,357.5h1.3M174,381.5h1.3M211,405.5h1.3M193,361.5h1.3M242,352.5h1.3M227,350.5h1.3M168,367.5h1.3M233,389.5h1.3M272,338.5h1.3M233,384.5h1.3M227,381.5h1.3M251,296.5h1.3M231,365.5h1.3M254,370.5h1.3M268,382.5h1.3M264,316.5h1.3M247,364.5h1.3M248,342.5h1.3M186,343.5h1.3M244,344.5h1.3M241,375.5h1.3M214,387.5h1.3M296,349.5h1.3M234,339.5h1.3M230,405.5h1.3M222,342.5h1.3M250,351.5h1.3M248,327.5h1.3M248,377.5h1.3M262,356.5h1.3M272,360.5h1.3M215,331.5h1.3M272,362.5h1.3M248,370.5h1.3M216,393.5h1.3M232,360.5h1.3M165,374.5h1.3M238,330.5h1.3M230,349.5h1.3M231,372.5h1.3M278,346.5h1.3M262,348.5h1.3M193,342.5h1.3M282,364.5h1.3M206,345.5h1.3M269,361.5h1.3M271,345.5h1.3M213,386.5h1.3M215,366.5h1.3M220,347.5h1.3M249,355.5h1.3M215,383.5h1.3M210,371.5h1.3M265,340.5h1.3M214,398.5h1.3M242,363.5h1.3M248,375.5h1.3M260,347.5h1.3M181,351.5h1.3M244,372.5h1.3M228,368.5h1.3M228,356.5h1.3M257,329.5h1.3M272,370.5h1.3M238,345.5h1.3M181,359.5h1.3M228,332.5h1.3M167,343.5h1.3M260,341.5h1.3M221,351.5h1.3M232,354.5h1.3M193,364.5h1.3M227,367.5h1.3M223,355.5h1.3M163,396.5h1.3M269,363.5h1.3M161,398.5h1.3M175,321.5h1.3M192,356.5h1.3M237,352.5h1.3M197,376.5h1.3M222,334.5h1.3M291,343.5h1.3M236,347.5h1.3M283,344.5h1.3M238,349.5h1.3M235,333.5h1.3M171,370.5h1.3M182,358.5h1.3M185,399.5h1.3M195,353.5h1.3M204,401.5h1.3M185,393.5h1.3M240,359.5h1.3M190,396.5h1.3M205,366.5h1.3M253,330.5h1.3M305,315.5h1.3M210,344.5h1.3M269,333.5h1.3M263,352.5h1.3M253,343.5h1.3M225,310.5h1.3M251,350.5h1.3M279,323.5h1.3M260,315.5h1.3M276,289.5h1.3M238,382.5h1.3M264,318.5h1.3M271,357.5h1.3M282,319.5h1.3M251,312.5h1.3M280,323.5h1.3M255,341.5h1.3M281,331.5h1.3M271,347.5h1.3M298,293.5h1.3M241,353.5h1.3M288,330.5h1.3M262,326.5h1.3M250,320.5h1.3M231,330.5h1.3M270,341.5h1.3M213,343.5h1.3M259,307.5h1.3M226,376.5h1.3M275,293.5h1.3M253,321.5h1.3M240,309.5h1.3M265,332.5h1.3M245,337.5h1.3M270,371.5h1.3M277,319.5h1.3M290,335.5h1.3M293,334.5h1.3M258,323.5h1.3M241,326.5h1.3M266,322.5h1.3M274,324.5h1.3M241,337.5h1.3M272,323.5h1.3M280,309.5h1.3M262,346.5h1.3M290,340.5h1.3M258,326.5h1.3M200,340.5h1.3M242,343.5h1.3M231,320.5h1.3M261,319.5h1.3M243,366.5h1.3M262,376.5h1.3M233,355.5h1.3M243,321.5h1.3M262,347.5h1.3M258,290.5h1.3M267,315.5h1.3M270,356.5h1.3M266,344.5h1.3M244,314.5h1.3M242,310.5h1.3M298,327.5h1.3M244,330.5h1.3M264,338.5h1.3M276,312.5h1.3M211,323.5h1.3M269,343.5h1.3M269,315.5h1.3M196,343.5h1.3M247,345.5h1.3M217,341.5h1.3M230,344.5h1.3M306,327.5h1.3M254,328.5h1.3M228,338.5h1.3M225,314.5h1.3M218,335.5h1.3M269,341.5h1.3M315,360.5h1.3M238,321.5h1.3M267,308.5h1.3M265,339.5h1.3M304,294.5h1.3M220,357.5h1.3M270,295.5h1.3M279,315.5h1.3M232,380.5h1.3M228,347.5h1.3M275,319.5h1.3M247,349.5h1.3M259,355.5h1.3M275,333.5h1.3M250,323.5h1.3M262,338.5h1.3M275,310.5h1.3M223,327.5h1.3M298,320.5h1.3M248,346.5h1.3M242,361.5h1.3M270,328.5h1.3M259,320.5h1.3M202,357.5h1.3M250,318.5h1.3M213,341.5h1.3M229,340.5h1.3M242,365.5h1.3M252,313.5h1.3M244,341.5h1.3M295,301.5h1.3M264,359.5h1.3M227,357.5h1.3M223,346.5h1.3M257,335.5h1.3M249,329.5h1.3M290,345.5h1.3M263,344.5h1.3M271,349.5h1.3M257,349.5h1.3M261,334.5h1.3M263,310.5h1.3M278,336.5h1.3M241,345.5h1.3M254,322.5h1.3M184,357.5h1.3M248,353.5h1.3M275,349.5h1.3M237,340.5h1.3M307,332.5h1.3M280,305.5h1.3M244,335.5h1.3M276,302.5h1.3M295,336.5h1.3M314,292.5h1.3M216,325.5h1.3M245,338.5h1.3M252,331.5h1.3M218,349.5h1.3M258,346.5h1.3M269,303.5h1.3M259,334.5h1.3M252,349.5h1.3M284,304.5h1.3M224,337.5h1.3M279,327.5h1.3M245,339.5h1.3M256,330.5h1.3M255,339.5h1.3M258,338.5h1.3M244,324.5h1.3M243,351.5h1.3M273,347.5h1.3M262,358.5h1.3M245,363.5h1.3M242,358.5h1.3M251,337.5h1.3M261,341.5h1.3M252,372.5h1.3M244,321.5h1.3M250,335.5h1.3M237,362.5h1.3M215,339.5h1.3M265,324.5h1.3M247,313.5h1.3M222,353.5h1.3M216,361.5h1.3M266,336.5h1.3M271,327.5h1.3M294,306.5h1.3M274,359.5h1.3M245,331.5h1.3M243,316.5h1.3M253,358.5h1.3M305,316.5h1.3M257,332.5h1.3M256,320.5h1.3M249,324.5h1.3M255,368.5h1.3M220,341.5h1.3M247,331.5h1.3M250,365.5h1.3M258,310.5h1.3M275,352.5h1.3M236,344.5h1.3M268,342.5h1.3M236,306.5h1.3M254,329.5h1.3M214,327.5h1.3M231,350.5h1.3M278,341.5h1.3M281,328.5h1.3M235,337.5h1.3M200,339.5h1.3M248,381.5h1.3M230,337.5h1.3M204,355.5h1.3M271,342.5h1.3M209,358.5h1.3M293,279.5h1.3M251,328.5h1.3M254,360.5h1.3M266,325.5h1.3M238,358.5h1.3M286,309.5h1.3M198,332.5h1.3M251,344.5h1.3M282,313.5h1.3M260,340.5h1.3M263,327.5h1.3M256,290.5h1.3M258,331.5h1.3M299,299.5h1.3M233,332.5h1.3M259,341.5h1.3M268,319.5h1.3M248,350.5h1.3M241,347.5h1.3M222,325.5h1.3M218,343.5h1.3M245,359.5h1.3M211,356.5h1.3M305,317.5h1.3M294,318.5h1.3M283,332.5h1.3M239,329.5h1.3M234,342.5h1.3M278,318.5h1.3M255,335.5h1.3M247,300.5h1.3M231,345.5h1.3M265,304.5h1.3M266,359.5h1.3M223,387.5h1.3M242,359.5h1.3M259,324.5h1.3M238,342.5h1.3M275,336.5h1.3M276,313.5h1.3M279,356.5h1.3M263,331.5h1.3M232,393.5h1.3M242,397.5h1.3M261,308.5h1.3M225,353.5h1.3M227,333.5h1.3M232,243.5h1.3M208,218.5h1.3M237,252.5h1.3M295,302.5h1.3M281,252.5h1.3M240,209.5h1.3M236,234.5h1.3M254,285.5h1.3M233,206.5h1.3M261,236.5h1.3M237,239.5h1.3M276,304.5h1.3M184,253.5h1.3M281,277.5h1.3M304,209.5h1.3M240,222.5h1.3M190,291.5h1.3M298,251.5h1.3M213,201.5h1.3M235,268.5h1.3M259,223.5h1.3M256,249.5h1.3M291,242.5h1.3M260,227.5h1.3M240,229.5h1.3M155,249.5h1.3M192,251.5h1.3M236,207.5h1.3M266,239.5h1.3M186,215.5h1.3M215,256.5h1.3M257,240.5h1.3M155,238.5h1.3M168,293.5h1.3M245,305.5h1.3M260,283.5h1.3M209,213.5h1.3M157,308.5h1.3M242,253.5h1.3M185,260.5h1.3M261,223.5h1.3M235,248.5h1.3M261,284.5h1.3M269,256.5h1.3M215,241.5h1.3M267,219.5h1.3M286,222.5h1.3M260,260.5h1.3M307,287.5h1.3M206,223.5h1.3M276,237.5h1.3M247,233.5h1.3M194,236.5h1.3M239,259.5h1.3M222,269.5h1.3M206,212.5h1.3M235,216.5h1.3M291,270.5h1.3M229,260.5h1.3M248,261.5h1.3M176,249.5h1.3M241,235.5h1.3M289,248.5h1.3M268,224.5h1.3M250,210.5h1.3M218,253.5h1.3M207,284.5h1.3M228,219.5h1.3M194,292.5h1.3M195,281.5h1.3M270,212.5h1.3M202,257.5h1.3M311,227.5h1.3M187,281.5h1.3M262,262.5h1.3M182,222.5h1.3M205,288.5h1.3M242,250.5h1.3M236,261.5h1.3M224,262.5h1.3M272,286.5h1.3M291,196.5h1.3M224,285.5h1.3M269,214.5h1.3M248,267.5h1.3M248,286.5h1.3M155,282.5h1.3M210,247.5h1.3M164,258.5h1.3M227,252.5h1.3M222,219.5h1.3M258,262.5h1.3M318,252.5h1.3M287,217.5h1.3M210,210.5h1.3M276,308.5h1.3M315,261.5h1.3M249,256.5h1.3M240,215.5h1.3M255,225.5h1.3M181,270.5h1.3M199,228.5h1.3M265,289.5h1.3M262,245.5h1.3M205,268.5h1.3M218,221.5h1.3M227,222.5h1.3M227,226.5h1.3M269,248.5h1.3M241,238.5h1.3M244,237.5h1.3M185,271.5h1.3M199,265.5h1.3M263,286.5h1.3M174,259.5h1.3M242,215.5h1.3M213,254.5h1.3M218,298.5h1.3M261,224.5h1.3M212,256.5h1.3M202,246.5h1.3M215,266.5h1.3M243,254.5h1.3M343,194.5h1.3M152,264.5h1.3M245,274.5h1.3M238,281.5h1.3M284,263.5h1.3M231,276.5h1.3M290,223.5h1.3M202,286.5h1.3M228,214.5h1.3M183,260.5h1.3M181,206.5h1.3M216,242.5h1.3M268,218.5h1.3M264,204.5h1.3M219,270.5h1.3M253,221.5h1.3M221,241.5h1.3M241,239.5h1.3M239,225.5h1.3M275,281.5h1.3M210,240.5h1.3M235,254.5h1.3M238,208.5h1.3M239,233.5h1.3M204,247.5h1.3M306,220.5h1.3M216,236.5h1.3M270,243.5h1.3M259,290.5h1.3M287,230.5h1.3M150,267.5h1.3M318,214.5h1.3M207,210.5h1.3M218,213.5h1.3M249,212.5h1.3M211,218.5h1.3M265,212.5h1.3M264,220.5h1.3M254,201.5h1.3M261,221.5h1.3M234,212.5h1.3M209,221.5h1.3M242,213.5h1.3M251,219.5h1.3M231,223.5h1.3M217,209.5h1.3M181,213.5h1.3M243,212.5h1.3M234,214.5h1.3M188,202.5h1.3M227,212.5h1.3M244,211.5h1.3M221,207.5h1.3M246,211.5h1.3M245,202.5h1.3M183,222.5h1.3M216,216.5h1.3M238,226.5h1.3M249,207.5h1.3M263,205.5h1.3M171,215.5h1.3M222,201.5h1.3M244,214.5h1.3M258,208.5h1.3M271,210.5h1.3M198,215.5h1.3M214,213.5h1.3M195,226.5h1.3M247,217.5h1.3M188,204.5h1.3M257,220.5h1.3M250,203.5h1.3M238,213.5h1.3M164,204.5h1.3M205,207.5h1.3M245,222.5h1.3M185,209.5h1.3M218,208.5h1.3M221,209.5h1.3M249,211.5h1.3M232,223.5h1.3M232,205.5h1.3M272,178.5h1.3M313,172.5h1.3M262,174.5h1.3M290,172.5h1.3M320,159.5h1.3M295,164.5h1.3M286,169.5h1.3M286,181.5h1.3M275,169.5h1.3M284,171.5h1.3M300,166.5h1.3M324,161.5h1.3M313,153.5h1.3M291,185.5h1.3" stroke="#111" stroke-width="1.3" fill="none"/>
<line x1="147" y1="126.8" x2="147" y2="425" stroke="#000" stroke-width="2.2"/>
<line x1="147" y1="424" x2="442" y2="424" stroke="#000" stroke-width="2.4"/>
<path d="M142.5,412h4.5M142.5,399.4h4.5M142.5,390.5h4.5M142.5,383.5h4.5M142.5,377.9h4.5M142.5,373.1h4.5M142.5,368.9h4.5M142.5,365.3h4.5M139,362h8M142.5,340.5h4.5M142.5,327.9h4.5M142.5,319h4.5M142.5,312h4.5M142.5,306.4h4.5M142.5,301.6h4.5M142.5,297.4h4.5M142.5,293.8h4.5M139,290.5h8M142.5,269.4h4.5M142.5,257.1h4.5M142.5,248.4h4.5M142.5,241.6h4.5M142.5,236h4.5M142.5,231.3h4.5M142.5,227.3h4.5M142.5,223.7h4.5M139,220.5h8M142.5,200.8h4.5M142.5,189.2h4.5M142.5,181.1h4.5M142.5,174.7h4.5M142.5,169.5h4.5M142.5,165.1h4.5M142.5,161.3h4.5M142.5,158h4.5M139,155h8M142.5,135.3h4.5M164.4,424v4M176.4,424v4M184.8,424v4M191.4,424v4M196.7,424v4M201.2,424v4M205.1,424v4M208.6,424v4M211.7,424v7M232,424v4M244,424v4M252.4,424v4M259,424v4M264.3,424v4M268.8,424v4M272.7,424v4M276.2,424v4M279.3,424v7M299.6,424v4M311.6,424v4M320,424v4M326.6,424v4M331.9,424v4M336.4,424v4M340.3,424v4M343.8,424v4M346.9,424v7M367.2,424v4M379.2,424v4M387.6,424v4M394.2,424v4M399.5,424v4M404,424v4M407.9,424v4M411.4,424v4M414.5,424v7M434.8,424v4" stroke="#000" stroke-width="1.8" fill="none"/>
<path d="M150,424v5M152.4,424v5M154.8,424v5M157.2,424v5M159.6,424v5M162,424v5M164.4,424v5M166.8,424v5M169.2,424v5M171.6,424v5M174,424v5" stroke="#000" stroke-width="1.7" fill="none"/>
<line x1="258.3" y1="133" x2="260.9" y2="432" stroke="#000" stroke-width="1.8"/>
<line x1="147" y1="295.2" x2="446" y2="292.6" stroke="#000" stroke-width="1.8"/>
<path d="M531,387.5h1.3M520,374.5h1.3M531,389.5h1.3M530,398.5h1.3M514,389.5h1.3M553,369.5h1.3M537,379.5h1.3M533,384.5h1.3M539,358.5h1.3M524,392.5h1.3M541,371.5h1.3M535,383.5h1.3M518,391.5h1.3M548,375.5h1.3M511,400.5h1.3M544,374.5h1.3M525,399.5h1.3M538,375.5h1.3M557,367.5h1.3M541,373.5h1.3M525,390.5h1.3M528,376.5h1.3M530,389.5h1.3M520,402.5h1.3M514,393.5h1.3M536,383.5h1.3M541,375.5h1.3M499,396.5h1.3M532,382.5h1.3M545,380.5h1.3M530,375.5h1.3M507,382.5h1.3M547,367.5h1.3M510,392.5h1.3M550,382.5h1.3M554,358.5h1.3M501,406.5h1.3M531,372.5h1.3M537,377.5h1.3M531,373.5h1.3M515,384.5h1.3M526,383.5h1.3M506,393.5h1.3M540,385.5h1.3M533,365.5h1.3M521,388.5h1.3M514,388.5h1.3M517,378.5h1.3M539,389.5h1.3M521,366.5h1.3M537,389.5h1.3M524,370.5h1.3M512,397.5h1.3M529,359.5h1.3M544,353.5h1.3M517,406.5h1.3M522,389.5h1.3M532,372.5h1.3M545,367.5h1.3M535,365.5h1.3M550,363.5h1.3M538,389.5h1.3M535,372.5h1.3M537,375.5h1.3M531,392.5h1.3M559,375.5h1.3M537,368.5h1.3M547,368.5h1.3M522,381.5h1.3M542,362.5h1.3M513,391.5h1.3M533,371.5h1.3M506,381.5h1.3M538,366.5h1.3M525,386.5h1.3M540,384.5h1.3M504,398.5h1.3M552,358.5h1.3M543,376.5h1.3M534,384.5h1.3M536,373.5h1.3M535,375.5h1.3M561,372.5h1.3M532,375.5h1.3M507,396.5h1.3M518,373.5h1.3M552,365.5h1.3M538,371.5h1.3M535,396.5h1.3M538,370.5h1.3M537,383.5h1.3M544,377.5h1.3M516,410.5h1.3M511,384.5h1.3M549,380.5h1.3M528,383.5h1.3M535,374.5h1.3M558,352.5h1.3M524,381.5h1.3M532,374.5h1.3M510,373.5h1.3M524,391.5h1.3M530,381.5h1.3M505,393.5h1.3M500,407.5h1.3M563,375.5h1.3M531,383.5h1.3M545,363.5h1.3M541,388.5h1.3M529,373.5h1.3M540,370.5h1.3M538,367.5h1.3M512,394.5h1.3M552,368.5h1.3M520,396.5h1.3M530,373.5h1.3M567,345.5h1.3M532,379.5h1.3M553,355.5h1.3M525,384.5h1.3M536,367.5h1.3M528,375.5h1.3M537,374.5h1.3M513,385.5h1.3M520,394.5h1.3M503,395.5h1.3M515,387.5h1.3M538,368.5h1.3M521,387.5h1.3M518,392.5h1.3M528,373.5h1.3M533,393.5h1.3M538,383.5h1.3M529,383.5h1.3M563,361.5h1.3M526,387.5h1.3M501,404.5h1.3M533,378.5h1.3M545,395.5h1.3M513,406.5h1.3M545,362.5h1.3M533,383.5h1.3M542,393.5h1.3M510,403.5h1.3M543,380.5h1.3M536,388.5h1.3M554,366.5h1.3M533,394.5h1.3M514,397.5h1.3M535,381.5h1.3M550,389.5h1.3M517,395.5h1.3M529,382.5h1.3M535,390.5h1.3M528,377.5h1.3M523,386.5h1.3M515,386.5h1.3M530,380.5h1.3M520,385.5h1.3M536,381.5h1.3M526,382.5h1.3M495,405.5h1.3M528,379.5h1.3M550,361.5h1.3M532,373.5h1.3M541,377.5h1.3M505,390.5h1.3M545,372.5h1.3M540,373.5h1.3M526,375.5h1.3M541,391.5h1.3M534,374.5h1.3M516,391.5h1.3M527,393.5h1.3M531,390.5h1.3M490,404.5h1.3M527,372.5h1.3M558,355.5h1.3M540,368.5h1.3M541,372.5h1.3M526,394.5h1.3M508,387.5h1.3M529,384.5h1.3M531,379.5h1.3M523,393.5h1.3M534,378.5h1.3M535,367.5h1.3M503,379.5h1.3M505,413.5h1.3M523,371.5h1.3M519,386.5h1.3M546,383.5h1.3M552,356.5h1.3M557,362.5h1.3M550,369.5h1.3M529,376.5h1.3M542,384.5h1.3M542,367.5h1.3M523,372.5h1.3M522,384.5h1.3M523,392.5h1.3M525,373.5h1.3M526,392.5h1.3M546,373.5h1.3M537,396.5h1.3M548,357.5h1.3M505,386.5h1.3M544,363.5h1.3M526,385.5h1.3M553,364.5h1.3M538,372.5h1.3M530,379.5h1.3M537,367.5h1.3M521,384.5h1.3M539,377.5h1.3M532,385.5h1.3M542,380.5h1.3M523,399.5h1.3M530,362.5h1.3M511,392.5h1.3M539,370.5h1.3M534,369.5h1.3M546,376.5h1.3M527,390.5h1.3M574,340.5h1.3M519,387.5h1.3M550,359.5h1.3M529,390.5h1.3M548,369.5h1.3M530,388.5h1.3M542,364.5h1.3M522,377.5h1.3M519,390.5h1.3M524,358.5h1.3M517,396.5h1.3M523,397.5h1.3M543,370.5h1.3M504,401.5h1.3M523,396.5h1.3M546,388.5h1.3M544,375.5h1.3M528,392.5h1.3M531,384.5h1.3M544,370.5h1.3M543,371.5h1.3M531,380.5h1.3M526,395.5h1.3M510,382.5h1.3M522,385.5h1.3M530,385.5h1.3M531,388.5h1.3M534,392.5h1.3M561,357.5h1.3M499,401.5h1.3M537,376.5h1.3M541,376.5h1.3M540,386.5h1.3M553,337.5h1.3M550,366.5h1.3M533,358.5h1.3M523,394.5h1.3M529,386.5h1.3M537,378.5h1.3M542,373.5h1.3M561,365.5h1.3M546,365.5h1.3M535,376.5h1.3M553,371.5h1.3M544,362.5h1.3M525,377.5h1.3M523,382.5h1.3M537,365.5h1.3M550,376.5h1.3M521,396.5h1.3M526,398.5h1.3M540,387.5h1.3M507,392.5h1.3M534,381.5h1.3M547,380.5h1.3M525,408.5h1.3M538,359.5h1.3M517,377.5h1.3M542,374.5h1.3M533,374.5h1.3M521,378.5h1.3M527,387.5h1.3M504,395.5h1.3M511,374.5h1.3M556,358.5h1.3M549,369.5h1.3M518,401.5h1.3M544,369.5h1.3M523,379.5h1.3M530,363.5h1.3M541,366.5h1.3M529,391.5h1.3M545,388.5h1.3M518,390.5h1.3M525,366.5h1.3M535,384.5h1.3M528,393.5h1.3M514,382.5h1.3M528,365.5h1.3M545,368.5h1.3M540,378.5h1.3M514,383.5h1.3M541,367.5h1.3M530,372.5h1.3M534,364.5h1.3M542,356.5h1.3M520,390.5h1.3M528,378.5h1.3M520,382.5h1.3M507,374.5h1.3M569,363.5h1.3M540,361.5h1.3M507,399.5h1.3M532,366.5h1.3M540,355.5h1.3M529,379.5h1.3M539,382.5h1.3M532,367.5h1.3M529,374.5h1.3M528,380.5h1.3M541,392.5h1.3M532,363.5h1.3M518,394.5h1.3M532,381.5h1.3M529,388.5h1.3M515,396.5h1.3M528,384.5h1.3M517,385.5h1.3M517,375.5h1.3M531,375.5h1.3M533,369.5h1.3M509,397.5h1.3M542,377.5h1.3M524,390.5h1.3M536,386.5h1.3M531,354.5h1.3M544,371.5h1.3M556,356.5h1.3M534,375.5h1.3M519,377.5h1.3M528,387.5h1.3M547,376.5h1.3M560,364.5h1.3M527,389.5h1.3M541,380.5h1.3M545,385.5h1.3M539,385.5h1.3M522,388.5h1.3M497,410.5h1.3M548,366.5h1.3M505,410.5h1.3M502,397.5h1.3M561,355.5h1.3M514,392.5h1.3M532,356.5h1.3M525,392.5h1.3M540,371.5h1.3M532,377.5h1.3M518,395.5h1.3M542,371.5h1.3M510,391.5h1.3M561,373.5h1.3M516,411.5h1.3M551,354.5h1.3M553,360.5h1.3M510,389.5h1.3M560,363.5h1.3M523,375.5h1.3M538,387.5h1.3M533,387.5h1.3M547,355.5h1.3M540,383.5h1.3M507,402.5h1.3M575,367.5h1.3M553,377.5h1.3M526,381.5h1.3M538,373.5h1.3M539,379.5h1.3M524,386.5h1.3M513,380.5h1.3M540,363.5h1.3M569,356.5h1.3M520,387.5h1.3M532,376.5h1.3M542,351.5h1.3M538,382.5h1.3M516,385.5h1.3M533,351.5h1.3M516,395.5h1.3M558,368.5h1.3M530,357.5h1.3M536,390.5h1.3M553,352.5h1.3M532,362.5h1.3M540,382.5h1.3M559,356.5h1.3M556,363.5h1.3M518,388.5h1.3M525,376.5h1.3M533,386.5h1.3M516,402.5h1.3M536,357.5h1.3M528,372.5h1.3M526,369.5h1.3M515,375.5h1.3M525,372.5h1.3M539,378.5h1.3M527,385.5h1.3M542,392.5h1.3M552,379.5h1.3M535,382.5h1.3M554,365.5h1.3M512,377.5h1.3M530,370.5h1.3M510,394.5h1.3M529,378.5h1.3M515,379.5h1.3M546,356.5h1.3M538,364.5h1.3M545,378.5h1.3M560,357.5h1.3M550,358.5h1.3M524,388.5h1.3M508,392.5h1.3M530,377.5h1.3M526,390.5h1.3M511,401.5h1.3M555,362.5h1.3M533,398.5h1.3M502,391.5h1.3M540,360.5h1.3M549,370.5h1.3M533,388.5h1.3M544,352.5h1.3M517,387.5h1.3M533,363.5h1.3M554,360.5h1.3M513,393.5h1.3M514,374.5h1.3M511,404.5h1.3M545,374.5h1.3M527,368.5h1.3M564,350.5h1.3M524,382.5h1.3M515,405.5h1.3M556,352.5h1.3M522,379.5h1.3M537,369.5h1.3M554,353.5h1.3M524,387.5h1.3M532,380.5h1.3M528,394.5h1.3M507,395.5h1.3M515,397.5h1.3M516,388.5h1.3M540,369.5h1.3M523,383.5h1.3M534,362.5h1.3M527,357.5h1.3M529,393.5h1.3M537,364.5h1.3M540,376.5h1.3M518,386.5h1.3M527,374.5h1.3M546,362.5h1.3M519,388.5h1.3M532,353.5h1.3M539,374.5h1.3M517,390.5h1.3M534,350.5h1.3M548,370.5h1.3M513,395.5h1.3M561,354.5h1.3M522,376.5h1.3M541,365.5h1.3M561,371.5h1.3M535,370.5h1.3M574,344.5h1.3M538,379.5h1.3M492,407.5h1.3M520,378.5h1.3M527,403.5h1.3M539,383.5h1.3M525,368.5h1.3M505,383.5h1.3M511,388.5h1.3M532,384.5h1.3M493,409.5h1.3M537,356.5h1.3M533,379.5h1.3M536,374.5h1.3M515,388.5h1.3M534,382.5h1.3M546,364.5h1.3M541,357.5h1.3M539,372.5h1.3M521,374.5h1.3M525,394.5h1.3M553,363.5h1.3M534,365.5h1.3M507,413.5h1.3M508,377.5h1.3M503,402.5h1.3M558,371.5h1.3M526,366.5h1.3M520,373.5h1.3M569,344.5h1.3M537,348.5h1.3M504,386.5h1.3M527,376.5h1.3M515,395.5h1.3M509,403.5h1.3M573,353.5h1.3M558,361.5h1.3M536,382.5h1.3M521,377.5h1.3M564,383.5h1.3M522,410.5h1.3M509,407.5h1.3M563,357.5h1.3M553,354.5h1.3M546,386.5h1.3M551,356.5h1.3M551,384.5h1.3M544,345.5h1.3M549,366.5h1.3M516,374.5h1.3M522,386.5h1.3M509,395.5h1.3M540,372.5h1.3M548,355.5h1.3M544,366.5h1.3M507,388.5h1.3M543,364.5h1.3M535,361.5h1.3M488,403.5h1.3M550,368.5h1.3M538,369.5h1.3M513,408.5h1.3M510,398.5h1.3M537,353.5h1.3M546,370.5h1.3M524,354.5h1.3M530,383.5h1.3M536,370.5h1.3M516,377.5h1.3M528,382.5h1.3M517,388.5h1.3M523,381.5h1.3M556,377.5h1.3M555,349.5h1.3M522,401.5h1.3M549,364.5h1.3M549,359.5h1.3M493,400.5h1.3M545,356.5h1.3M545,350.5h1.3M497,406.5h1.3M531,397.5h1.3M525,383.5h1.3M552,361.5h1.3M557,369.5h1.3M542,372.5h1.3M508,394.5h1.3M515,389.5h1.3M531,391.5h1.3M547,392.5h1.3M543,361.5h1.3M518,368.5h1.3M550,370.5h1.3M508,398.5h1.3M533,390.5h1.3M519,375.5h1.3M506,380.5h1.3M554,345.5h1.3M514,380.5h1.3M553,343.5h1.3M539,367.5h1.3M553,365.5h1.3M555,371.5h1.3M517,389.5h1.3M541,360.5h1.3M555,378.5h1.3M539,387.5h1.3M547,372.5h1.3M526,391.5h1.3M533,367.5h1.3M512,389.5h1.3M527,383.5h1.3M535,378.5h1.3M529,380.5h1.3M526,378.5h1.3M492,396.5h1.3M553,368.5h1.3M524,376.5h1.3M522,392.5h1.3M549,367.5h1.3M530,360.5h1.3M543,355.5h1.3M558,372.5h1.3M536,364.5h1.3M512,392.5h1.3M545,354.5h1.3M547,359.5h1.3M546,369.5h1.3M533,355.5h1.3M518,360.5h1.3M528,389.5h1.3M548,364.5h1.3M522,397.5h1.3M551,371.5h1.3M524,362.5h1.3M544,365.5h1.3M542,381.5h1.3M545,359.5h1.3M550,372.5h1.3M510,395.5h1.3M538,360.5h1.3M508,385.5h1.3M562,347.5h1.3M508,390.5h1.3M569,335.5h1.3M495,370.5h1.3M549,356.5h1.3M535,356.5h1.3M572,338.5h1.3M583,346.5h1.3M574,327.5h1.3M549,362.5h1.3M543,346.5h1.3M557,357.5h1.3M568,352.5h1.3M559,388.5h1.3M581,345.5h1.3M560,356.5h1.3M586,349.5h1.3M553,340.5h1.3M573,355.5h1.3M528,367.5h1.3M555,374.5h1.3M557,329.5h1.3M620,291.5h1.3M544,358.5h1.3M564,317.5h1.3M580,347.5h1.3M536,354.5h1.3M573,318.5h1.3M578,356.5h1.3M527,375.5h1.3M558,358.5h1.3M506,394.5h1.3M555,357.5h1.3M572,353.5h1.3M621,280.5h1.3M559,345.5h1.3M549,360.5h1.3M550,348.5h1.3M582,326.5h1.3M561,363.5h1.3M566,336.5h1.3M535,352.5h1.3M612,315.5h1.3M519,399.5h1.3M561,345.5h1.3M563,349.5h1.3M549,346.5h1.3M522,378.5h1.3M553,358.5h1.3M519,379.5h1.3M512,364.5h1.3M564,351.5h1.3M576,343.5h1.3M544,379.5h1.3M548,390.5h1.3M613,319.5h1.3M552,339.5h1.3M557,371.5h1.3M579,347.5h1.3M612,327.5h1.3M581,342.5h1.3M558,374.5h1.3M546,371.5h1.3M529,392.5h1.3M534,359.5h1.3M516,369.5h1.3M551,359.5h1.3M521,392.5h1.3M515,398.5h1.3M532,361.5h1.3M567,349.5h1.3M569,359.5h1.3M545,357.5h1.3M529,358.5h1.3M538,380.5h1.3M556,383.5h1.3M511,370.5h1.3M608,301.5h1.3M563,342.5h1.3M542,353.5h1.3M548,363.5h1.3M541,368.5h1.3M555,367.5h1.3M574,341.5h1.3M560,332.5h1.3M567,366.5h1.3M589,344.5h1.3M549,348.5h1.3M540,394.5h1.3M562,377.5h1.3M540,329.5h1.3M562,324.5h1.3M529,372.5h1.3M560,336.5h1.3M588,350.5h1.3M547,341.5h1.3M576,326.5h1.3M563,360.5h1.3M561,376.5h1.3M582,336.5h1.3M561,343.5h1.3M539,341.5h1.3M509,369.5h1.3M543,356.5h1.3M559,376.5h1.3M578,342.5h1.3M587,337.5h1.3M553,362.5h1.3M584,345.5h1.3M518,367.5h1.3M584,343.5h1.3M546,350.5h1.3M512,384.5h1.3M551,376.5h1.3M573,362.5h1.3M513,381.5h1.3M510,380.5h1.3M559,360.5h1.3M560,340.5h1.3M606,357.5h1.3M540,388.5h1.3M563,364.5h1.3M550,404.5h1.3M583,348.5h1.3M548,349.5h1.3M562,353.5h1.3M505,388.5h1.3M488,415.5h1.3M547,365.5h1.3M562,341.5h1.3M590,338.5h1.3M532,350.5h1.3M549,372.5h1.3M560,351.5h1.3M587,332.5h1.3M513,354.5h1.3M577,362.5h1.3M531,348.5h1.3M535,358.5h1.3M573,349.5h1.3M527,369.5h1.3M548,326.5h1.3M545,366.5h1.3M559,347.5h1.3M543,368.5h1.3M570,348.5h1.3M578,324.5h1.3M593,352.5h1.3M563,335.5h1.3M554,374.5h1.3M553,357.5h1.3M547,384.5h1.3M610,298.5h1.3M548,368.5h1.3M565,351.5h1.3M579,331.5h1.3M540,366.5h1.3M524,375.5h1.3M569,322.5h1.3M550,357.5h1.3M543,350.5h1.3M521,403.5h1.3M569,349.5h1.3M566,358.5h1.3M519,373.5h1.3M551,351.5h1.3M553,372.5h1.3M527,356.5h1.3M535,373.5h1.3M524,373.5h1.3M561,351.5h1.3M550,342.5h1.3M559,355.5h1.3M536,352.5h1.3M531,355.5h1.3M607,332.5h1.3M502,389.5h1.3M561,317.5h1.3M565,361.5h1.3M545,351.5h1.3M511,337.5h1.3M520,389.5h1.3M560,377.5h1.3M511,390.5h1.3M573,348.5h1.3M568,328.5h1.3M526,403.5h1.3M560,358.5h1.3M537,339.5h1.3M557,347.5h1.3M557,333.5h1.3M575,349.5h1.3M585,318.5h1.3M562,333.5h1.3M527,407.5h1.3M538,351.5h1.3M523,384.5h1.3M602,356.5h1.3M605,316.5h1.3M556,341.5h1.3M555,370.5h1.3M557,366.5h1.3M539,337.5h1.3M576,340.5h1.3M556,321.5h1.3M582,333.5h1.3M535,364.5h1.3M542,376.5h1.3M586,336.5h1.3M535,353.5h1.3M531,400.5h1.3M518,382.5h1.3M538,342.5h1.3M581,354.5h1.3M596,344.5h1.3M543,373.5h1.3M580,320.5h1.3M598,348.5h1.3M561,362.5h1.3M567,369.5h1.3M539,356.5h1.3M564,362.5h1.3M523,358.5h1.3M534,347.5h1.3M529,365.5h1.3M557,354.5h1.3M555,361.5h1.3M591,326.5h1.3M554,364.5h1.3M540,375.5h1.3M542,359.5h1.3M552,369.5h1.3M540,359.5h1.3M566,371.5h1.3M559,351.5h1.3M506,384.5h1.3M523,376.5h1.3M491,411.5h1.3M568,344.5h1.3M571,332.5h1.3M571,323.5h1.3M577,338.5h1.3M557,373.5h1.3M512,386.5h1.3M517,356.5h1.3M535,369.5h1.3M557,324.5h1.3M578,315.5h1.3M547,377.5h1.3M551,348.5h1.3M519,357.5h1.3M521,391.5h1.3M540,362.5h1.3M561,379.5h1.3M538,353.5h1.3M554,371.5h1.3M556,343.5h1.3M563,333.5h1.3M517,398.5h1.3M548,354.5h1.3M552,344.5h1.3M517,394.5h1.3M568,350.5h1.3M574,351.5h1.3M547,320.5h1.3M534,341.5h1.3M570,337.5h1.3M563,358.5h1.3M518,365.5h1.3M545,345.5h1.3M552,353.5h1.3M566,370.5h1.3M549,365.5h1.3M551,366.5h1.3M513,382.5h1.3M576,337.5h1.3M528,362.5h1.3M564,369.5h1.3M612,296.5h1.3M521,372.5h1.3M517,365.5h1.3M572,342.5h1.3M586,350.5h1.3M539,334.5h1.3M581,355.5h1.3M509,368.5h1.3M568,349.5h1.3M528,358.5h1.3M533,385.5h1.3M548,373.5h1.3M541,370.5h1.3M524,393.5h1.3M601,317.5h1.3M544,373.5h1.3M547,390.5h1.3M578,353.5h1.3M543,354.5h1.3M574,326.5h1.3M556,350.5h1.3M549,350.5h1.3M548,362.5h1.3M591,330.5h1.3M534,372.5h1.3M542,375.5h1.3M575,363.5h1.3M562,355.5h1.3M575,345.5h1.3M564,364.5h1.3M552,354.5h1.3M492,382.5h1.3M558,356.5h1.3M566,383.5h1.3M571,313.5h1.3M573,359.5h1.3M552,372.5h1.3M541,386.5h1.3M519,365.5h1.3M584,340.5h1.3M566,341.5h1.3M547,388.5h1.3M574,342.5h1.3M538,377.5h1.3M558,349.5h1.3M530,378.5h1.3M509,383.5h1.3M579,334.5h1.3M504,375.5h1.3M581,339.5h1.3M623,318.5h1.3M616,316.5h1.3M587,321.5h1.3M602,311.5h1.3M594,341.5h1.3M651,286.5h1.3M586,353.5h1.3M655,316.5h1.3M595,329.5h1.3M618,309.5h1.3M608,327.5h1.3M606,328.5h1.3M639,326.5h1.3M629,309.5h1.3M606,323.5h1.3M594,333.5h1.3M658,301.5h1.3M642,304.5h1.3M610,306.5h1.3M600,311.5h1.3M617,315.5h1.3M615,321.5h1.3M644,322.5h1.3M603,356.5h1.3M622,340.5h1.3M598,336.5h1.3M651,329.5h1.3M653,305.5h1.3M610,320.5h1.3M636,341.5h1.3M640,300.5h1.3M592,331.5h1.3M643,328.5h1.3M623,314.5h1.3M613,334.5h1.3M644,306.5h1.3M614,310.5h1.3M576,344.5h1.3M622,322.5h1.3M608,314.5h1.3M652,297.5h1.3M610,317.5h1.3M614,335.5h1.3M626,324.5h1.3M620,324.5h1.3M585,343.5h1.3M615,318.5h1.3M609,332.5h1.3M642,305.5h1.3M661,288.5h1.3M587,328.5h1.3M594,336.5h1.3M596,333.5h1.3M604,341.5h1.3M592,315.5h1.3M614,322.5h1.3M640,317.5h1.3M581,328.5h1.3M633,303.5h1.3M648,322.5h1.3M583,350.5h1.3M615,319.5h1.3M634,304.5h1.3M633,306.5h1.3M615,315.5h1.3M625,309.5h1.3M622,324.5h1.3M594,312.5h1.3M661,317.5h1.3M618,332.5h1.3M596,348.5h1.3M600,319.5h1.3M570,317.5h1.3M612,318.5h1.3M637,312.5h1.3M588,339.5h1.3M637,308.5h1.3M660,303.5h1.3M623,322.5h1.3M582,321.5h1.3M603,350.5h1.3M602,317.5h1.3M587,339.5h1.3M591,347.5h1.3M605,319.5h1.3M610,326.5h1.3M634,334.5h1.3M587,333.5h1.3M660,316.5h1.3M639,317.5h1.3M635,318.5h1.3M603,337.5h1.3M651,305.5h1.3M606,326.5h1.3M658,316.5h1.3M639,316.5h1.3M597,338.5h1.3M599,317.5h1.3M655,306.5h1.3M641,326.5h1.3M615,334.5h1.3M620,326.5h1.3M616,317.5h1.3M595,326.5h1.3M612,330.5h1.3M606,344.5h1.3M605,329.5h1.3M630,332.5h1.3M635,329.5h1.3M612,314.5h1.3M632,319.5h1.3M629,305.5h1.3M644,318.5h1.3M630,324.5h1.3M626,308.5h1.3M607,319.5h1.3M625,314.5h1.3M588,319.5h1.3M605,318.5h1.3M627,309.5h1.3M616,332.5h1.3M630,333.5h1.3M589,330.5h1.3M643,308.5h1.3M602,332.5h1.3M621,315.5h1.3M612,322.5h1.3M638,323.5h1.3M607,330.5h1.3M592,333.5h1.3M614,341.5h1.3M585,330.5h1.3M626,320.5h1.3M641,300.5h1.3M563,340.5h1.3M586,338.5h1.3M619,317.5h1.3M644,317.5h1.3M621,322.5h1.3M615,308.5h1.3M615,297.5h1.3M631,328.5h1.3M648,303.5h1.3M634,332.5h1.3M600,322.5h1.3M621,328.5h1.3M595,330.5h1.3M599,320.5h1.3M601,337.5h1.3M634,328.5h1.3M603,323.5h1.3M598,352.5h1.3M596,326.5h1.3M616,326.5h1.3M654,288.5h1.3M612,303.5h1.3M656,330.5h1.3M631,333.5h1.3M572,356.5h1.3M615,304.5h1.3M596,335.5h1.3M586,342.5h1.3M591,336.5h1.3M655,310.5h1.3M575,331.5h1.3M600,329.5h1.3M635,302.5h1.3M627,314.5h1.3M578,345.5h1.3M608,318.5h1.3M602,327.5h1.3M608,322.5h1.3M631,317.5h1.3M605,339.5h1.3M608,330.5h1.3M648,314.5h1.3M567,329.5h1.3M604,324.5h1.3M628,327.5h1.3M583,328.5h1.3M598,326.5h1.3M623,335.5h1.3M628,309.5h1.3M639,320.5h1.3M620,334.5h1.3M608,333.5h1.3M624,331.5h1.3M587,335.5h1.3M636,309.5h1.3M617,317.5h1.3M629,311.5h1.3M586,341.5h1.3M633,314.5h1.3M661,304.5h1.3M582,338.5h1.3M609,311.5h1.3M609,317.5h1.3M614,311.5h1.3M601,308.5h1.3M625,320.5h1.3M594,321.5h1.3M620,332.5h1.3M635,311.5h1.3M607,339.5h1.3M628,317.5h1.3M592,329.5h1.3M611,332.5h1.3M642,313.5h1.3M593,322.5h1.3M639,308.5h1.3M576,327.5h1.3M609,323.5h1.3M635,316.5h1.3M636,332.5h1.3M590,343.5h1.3M637,325.5h1.3M639,345.5h1.3M609,344.5h1.3M625,350.5h1.3M667,305.5h1.3M650,313.5h1.3M637,326.5h1.3M611,314.5h1.3M616,334.5h1.3M644,312.5h1.3M579,349.5h1.3M620,319.5h1.3M609,306.5h1.3M599,336.5h1.3M657,318.5h1.3M580,324.5h1.3M610,315.5h1.3M614,321.5h1.3M564,343.5h1.3M575,322.5h1.3M600,351.5h1.3M636,326.5h1.3M632,309.5h1.3M619,301.5h1.3M621,325.5h1.3M573,365.5h1.3M622,330.5h1.3M607,340.5h1.3M636,304.5h1.3M645,313.5h1.3M657,288.5h1.3M638,336.5h1.3M634,322.5h1.3M582,314.5h1.3M608,306.5h1.3M588,341.5h1.3M634,317.5h1.3M586,333.5h1.3M612,332.5h1.3M604,352.5h1.3M605,332.5h1.3M616,302.5h1.3M601,328.5h1.3M613,309.5h1.3M588,326.5h1.3M646,314.5h1.3M599,329.5h1.3M632,304.5h1.3M661,303.5h1.3M556,340.5h1.3M594,339.5h1.3M608,324.5h1.3M641,316.5h1.3M602,326.5h1.3M625,328.5h1.3M597,330.5h1.3M626,319.5h1.3M584,331.5h1.3M633,317.5h1.3M583,369.5h1.3M651,300.5h1.3M618,323.5h1.3M661,298.5h1.3M639,318.5h1.3M602,324.5h1.3M622,305.5h1.3M621,310.5h1.3M572,329.5h1.3M634,336.5h1.3M604,313.5h1.3M638,301.5h1.3M644,313.5h1.3M605,344.5h1.3M593,314.5h1.3M611,307.5h1.3M629,319.5h1.3M606,331.5h1.3M605,312.5h1.3M619,311.5h1.3M643,320.5h1.3M619,321.5h1.3M597,340.5h1.3M631,316.5h1.3M609,333.5h1.3M605,326.5h1.3M608,329.5h1.3M574,331.5h1.3M602,322.5h1.3M557,355.5h1.3M603,326.5h1.3M590,326.5h1.3M657,312.5h1.3M626,325.5h1.3M609,326.5h1.3M614,315.5h1.3M634,325.5h1.3M607,356.5h1.3M599,313.5h1.3M666,292.5h1.3M564,332.5h1.3M626,305.5h1.3M675,306.5h1.3M596,342.5h1.3M698,304.5h1.3M615,332.5h1.3M634,310.5h1.3M605,340.5h1.3M605,321.5h1.3M584,333.5h1.3M585,323.5h1.3M570,357.5h1.3M643,322.5h1.3M585,331.5h1.3M620,317.5h1.3M621,321.5h1.3M600,333.5h1.3M611,326.5h1.3M604,333.5h1.3M608,309.5h1.3M613,321.5h1.3M583,317.5h1.3M592,354.5h1.3M600,346.5h1.3M619,330.5h1.3M649,321.5h1.3M655,329.5h1.3M624,330.5h1.3M628,299.5h1.3M628,290.5h1.3M613,315.5h1.3M617,308.5h1.3M607,327.5h1.3M615,328.5h1.3M652,296.5h1.3M585,333.5h1.3M614,327.5h1.3M634,313.5h1.3M644,283.5h1.3M604,323.5h1.3M628,320.5h1.3M621,304.5h1.3M574,338.5h1.3M609,329.5h1.3M607,315.5h1.3M564,354.5h1.3M625,310.5h1.3M622,316.5h1.3M618,321.5h1.3M599,356.5h1.3M596,328.5h1.3M596,325.5h1.3M627,326.5h1.3M647,311.5h1.3M612,299.5h1.3M565,349.5h1.3M651,307.5h1.3M611,310.5h1.3M606,343.5h1.3M571,341.5h1.3M612,310.5h1.3M550,333.5h1.3M587,329.5h1.3M637,296.5h1.3M644,316.5h1.3M609,336.5h1.3M588,328.5h1.3M627,299.5h1.3M610,321.5h1.3M613,312.5h1.3M628,319.5h1.3M589,337.5h1.3M629,312.5h1.3M565,346.5h1.3M651,319.5h1.3M584,356.5h1.3M601,338.5h1.3M628,314.5h1.3M625,306.5h1.3M626,333.5h1.3M627,322.5h1.3M624,321.5h1.3M613,328.5h1.3M568,342.5h1.3M556,338.5h1.3M568,365.5h1.3M615,333.5h1.3M623,334.5h1.3M606,325.5h1.3M592,340.5h1.3M577,336.5h1.3M572,350.5h1.3M639,309.5h1.3M644,338.5h1.3M580,335.5h1.3M625,324.5h1.3M648,305.5h1.3M603,339.5h1.3M616,322.5h1.3M637,309.5h1.3M573,342.5h1.3M593,325.5h1.3M617,336.5h1.3M599,338.5h1.3M665,312.5h1.3M627,302.5h1.3M618,325.5h1.3M587,327.5h1.3M633,316.5h1.3M632,330.5h1.3M584,350.5h1.3M615,335.5h1.3M640,333.5h1.3M627,296.5h1.3M630,312.5h1.3M595,322.5h1.3M602,330.5h1.3M635,301.5h1.3M613,298.5h1.3M590,324.5h1.3M623,317.5h1.3M639,334.5h1.3M626,310.5h1.3M610,312.5h1.3M592,311.5h1.3M650,305.5h1.3M616,324.5h1.3M591,317.5h1.3M617,314.5h1.3M575,315.5h1.3M618,324.5h1.3M599,312.5h1.3M623,288.5h1.3M639,319.5h1.3M666,304.5h1.3M609,330.5h1.3M589,323.5h1.3M627,330.5h1.3M606,315.5h1.3M624,341.5h1.3M617,301.5h1.3M571,365.5h1.3M606,324.5h1.3M625,331.5h1.3M638,310.5h1.3M596,324.5h1.3M583,308.5h1.3M644,325.5h1.3M597,326.5h1.3M616,327.5h1.3M625,308.5h1.3M617,335.5h1.3M585,332.5h1.3M597,317.5h1.3M601,332.5h1.3M661,312.5h1.3M630,311.5h1.3M596,318.5h1.3M613,340.5h1.3M593,326.5h1.3M638,332.5h1.3M629,314.5h1.3M616,319.5h1.3M634,335.5h1.3M590,337.5h1.3M604,326.5h1.3M603,338.5h1.3M634,330.5h1.3M589,351.5h1.3M602,339.5h1.3M654,311.5h1.3M580,312.5h1.3M617,325.5h1.3M604,344.5h1.3M621,347.5h1.3M603,330.5h1.3M581,327.5h1.3M631,326.5h1.3M581,336.5h1.3M653,321.5h1.3M604,322.5h1.3M610,311.5h1.3M595,323.5h1.3M600,332.5h1.3M595,325.5h1.3M608,321.5h1.3M600,328.5h1.3M627,327.5h1.3M604,337.5h1.3M625,321.5h1.3M624,313.5h1.3M609,307.5h1.3M640,308.5h1.3M601,320.5h1.3M582,317.5h1.3M627,337.5h1.3M543,334.5h1.3M619,328.5h1.3M652,337.5h1.3M628,318.5h1.3M611,316.5h1.3M611,346.5h1.3M591,318.5h1.3M598,319.5h1.3M626,311.5h1.3M660,307.5h1.3M601,312.5h1.3M571,347.5h1.3M637,340.5h1.3M637,305.5h1.3M608,325.5h1.3M650,316.5h1.3M658,318.5h1.3M594,325.5h1.3M597,320.5h1.3M579,328.5h1.3M629,330.5h1.3M632,326.5h1.3M616,298.5h1.3M575,316.5h1.3M589,320.5h1.3M573,325.5h1.3M577,345.5h1.3M583,340.5h1.3M585,360.5h1.3M611,334.5h1.3M631,330.5h1.3M608,316.5h1.3M612,325.5h1.3M629,328.5h1.3M598,312.5h1.3M617,333.5h1.3M598,325.5h1.3M613,326.5h1.3M636,315.5h1.3M580,348.5h1.3M619,312.5h1.3M650,318.5h1.3M636,325.5h1.3M585,314.5h1.3M594,311.5h1.3M589,343.5h1.3M608,320.5h1.3M618,314.5h1.3M575,325.5h1.3M639,310.5h1.3M615,316.5h1.3M634,321.5h1.3M619,308.5h1.3M626,331.5h1.3M598,305.5h1.3M623,349.5h1.3M609,310.5h1.3M641,318.5h1.3M601,330.5h1.3M587,345.5h1.3M590,333.5h1.3M586,316.5h1.3M638,317.5h1.3M665,314.5h1.3M640,306.5h1.3M578,320.5h1.3M611,318.5h1.3M623,323.5h1.3M645,323.5h1.3M628,324.5h1.3M600,307.5h1.3M577,366.5h1.3M623,316.5h1.3M640,311.5h1.3M604,329.5h1.3M620,339.5h1.3M624,337.5h1.3M619,345.5h1.3M586,332.5h1.3M619,316.5h1.3M626,334.5h1.3M583,338.5h1.3M581,359.5h1.3M558,325.5h1.3M616,348.5h1.3M604,332.5h1.3M636,292.5h1.3M610,322.5h1.3M642,284.5h1.3M599,332.5h1.3M628,316.5h1.3M591,355.5h1.3M613,320.5h1.3M609,339.5h1.3M612,338.5h1.3M634,339.5h1.3M568,341.5h1.3M618,331.5h1.3M587,318.5h1.3M610,313.5h1.3M620,318.5h1.3M603,328.5h1.3M598,317.5h1.3M584,332.5h1.3M595,327.5h1.3M621,319.5h1.3M576,330.5h1.3M649,325.5h1.3M597,353.5h1.3M639,315.5h1.3M632,336.5h1.3M611,331.5h1.3M624,312.5h1.3M606,312.5h1.3M638,306.5h1.3M625,312.5h1.3M662,337.5h1.3M596,332.5h1.3M640,310.5h1.3M619,337.5h1.3M578,337.5h1.3M624,324.5h1.3M603,317.5h1.3M644,296.5h1.3M598,323.5h1.3M614,316.5h1.3M561,325.5h1.3M625,325.5h1.3M589,333.5h1.3M642,308.5h1.3M647,302.5h1.3M602,303.5h1.3M583,356.5h1.3M614,318.5h1.3M618,328.5h1.3M634,331.5h1.3M610,339.5h1.3M586,339.5h1.3M593,337.5h1.3M656,316.5h1.3M613,330.5h1.3M605,336.5h1.3M610,328.5h1.3M607,343.5h1.3M607,329.5h1.3M644,321.5h1.3M622,321.5h1.3M579,333.5h1.3M598,320.5h1.3M600,337.5h1.3M611,324.5h1.3M622,315.5h1.3M606,322.5h1.3M614,339.5h1.3M593,335.5h1.3M618,316.5h1.3M594,342.5h1.3M645,295.5h1.3M612,326.5h1.3M629,316.5h1.3M605,314.5h1.3M618,334.5h1.3M618,342.5h1.3M590,319.5h1.3M592,335.5h1.3M647,336.5h1.3M596,327.5h1.3M602,329.5h1.3M636,338.5h1.3M657,306.5h1.3M592,337.5h1.3M632,337.5h1.3M605,303.5h1.3M596,307.5h1.3M627,329.5h1.3M625,303.5h1.3M590,335.5h1.3M649,311.5h1.3M599,328.5h1.3M633,335.5h1.3M645,318.5h1.3M562,329.5h1.3M614,329.5h1.3M615,340.5h1.3M636,318.5h1.3M616,336.5h1.3M583,337.5h1.3M585,326.5h1.3M598,341.5h1.3M607,311.5h1.3M612,307.5h1.3M569,319.5h1.3M666,307.5h1.3M585,342.5h1.3M563,346.5h1.3M589,325.5h1.3M664,306.5h1.3M643,317.5h1.3M609,350.5h1.3M636,306.5h1.3M640,313.5h1.3M615,330.5h1.3M590,347.5h1.3M637,321.5h1.3M578,331.5h1.3M621,313.5h1.3M547,344.5h1.3M653,308.5h1.3M635,332.5h1.3M647,290.5h1.3M582,344.5h1.3M596,351.5h1.3M668,316.5h1.3M606,320.5h1.3M637,317.5h1.3M643,314.5h1.3M607,334.5h1.3M636,300.5h1.3M652,306.5h1.3M594,337.5h1.3M635,345.5h1.3M654,313.5h1.3M641,312.5h1.3M626,336.5h1.3M589,327.5h1.3M598,335.5h1.3M613,336.5h1.3M608,331.5h1.3M578,336.5h1.3M590,320.5h1.3M628,311.5h1.3M584,346.5h1.3M603,327.5h1.3M577,347.5h1.3M696,299.5h1.3M610,316.5h1.3M597,313.5h1.3M593,317.5h1.3M582,331.5h1.3M575,355.5h1.3M614,332.5h1.3M601,316.5h1.3M646,311.5h1.3M575,340.5h1.3M615,305.5h1.3M638,302.5h1.3M559,324.5h1.3M623,310.5h1.3M564,315.5h1.3M620,312.5h1.3M641,301.5h1.3M608,317.5h1.3M615,314.5h1.3M602,343.5h1.3M617,319.5h1.3M638,316.5h1.3M613,335.5h1.3M624,328.5h1.3M571,331.5h1.3M623,320.5h1.3M635,314.5h1.3M624,333.5h1.3M641,311.5h1.3M588,330.5h1.3M602,296.5h1.3M614,340.5h1.3M587,341.5h1.3M595,313.5h1.3M637,344.5h1.3M605,325.5h1.3M622,334.5h1.3M570,342.5h1.3M604,318.5h1.3M647,318.5h1.3M627,332.5h1.3M574,328.5h1.3M567,360.5h1.3M601,333.5h1.3M615,347.5h1.3M575,334.5h1.3M622,342.5h1.3M622,329.5h1.3M630,326.5h1.3M644,302.5h1.3M633,322.5h1.3M607,335.5h1.3M620,308.5h1.3M585,328.5h1.3M648,326.5h1.3M633,318.5h1.3M611,336.5h1.3M599,334.5h1.3M698,288.5h1.3M631,312.5h1.3M658,319.5h1.3M635,317.5h1.3M622,304.5h1.3M625,311.5h1.3M575,335.5h1.3M620,309.5h1.3M576,339.5h1.3M658,312.5h1.3M591,348.5h1.3M633,309.5h1.3M602,333.5h1.3M620,325.5h1.3M592,320.5h1.3M659,279.5h1.3M655,313.5h1.3M630,318.5h1.3M613,317.5h1.3M605,323.5h1.3M624,315.5h1.3M616,323.5h1.3M619,348.5h1.3M606,329.5h1.3M623,311.5h1.3M599,323.5h1.3M616,313.5h1.3M587,330.5h1.3M597,334.5h1.3M602,319.5h1.3M615,346.5h1.3M633,302.5h1.3M590,339.5h1.3M576,366.5h1.3M608,342.5h1.3M616,340.5h1.3M671,303.5h1.3M637,292.5h1.3M632,333.5h1.3M634,316.5h1.3M613,318.5h1.3M640,328.5h1.3M601,342.5h1.3M600,324.5h1.3M650,314.5h1.3M643,299.5h1.3M597,327.5h1.3M635,304.5h1.3M606,319.5h1.3M616,338.5h1.3M604,307.5h1.3M615,320.5h1.3M600,331.5h1.3M586,348.5h1.3M655,318.5h1.3M608,338.5h1.3M543,339.5h1.3M605,343.5h1.3M645,315.5h1.3M578,346.5h1.3M572,344.5h1.3M635,307.5h1.3M623,327.5h1.3M614,308.5h1.3M647,321.5h1.3M652,313.5h1.3M645,334.5h1.3M600,330.5h1.3M574,343.5h1.3M604,316.5h1.3M611,312.5h1.3M615,317.5h1.3M657,301.5h1.3M595,319.5h1.3M634,301.5h1.3M618,319.5h1.3M613,333.5h1.3M569,342.5h1.3M637,322.5h1.3M600,342.5h1.3M606,337.5h1.3M616,318.5h1.3M630,295.5h1.3M619,338.5h1.3M576,329.5h1.3M614,347.5h1.3M618,326.5h1.3M610,329.5h1.3M623,328.5h1.3M575,344.5h1.3M646,307.5h1.3M586,317.5h1.3M650,325.5h1.3M639,294.5h1.3M643,292.5h1.3M623,344.5h1.3M636,331.5h1.3M612,342.5h1.3M593,340.5h1.3M566,337.5h1.3M626,318.5h1.3M607,328.5h1.3M601,339.5h1.3M591,333.5h1.3M604,309.5h1.3M640,321.5h1.3M604,339.5h1.3M589,334.5h1.3M628,303.5h1.3M616,328.5h1.3M652,285.5h1.3M588,342.5h1.3M610,305.5h1.3M573,343.5h1.3M614,345.5h1.3M627,320.5h1.3M640,318.5h1.3M583,334.5h1.3M632,316.5h1.3M641,340.5h1.3M616,339.5h1.3M667,297.5h1.3M611,321.5h1.3M593,334.5h1.3M632,342.5h1.3M572,345.5h1.3M653,320.5h1.3M634,311.5h1.3M598,316.5h1.3M633,331.5h1.3M625,318.5h1.3M653,297.5h1.3M581,331.5h1.3M564,339.5h1.3M600,313.5h1.3M583,352.5h1.3M611,330.5h1.3M626,330.5h1.3M601,326.5h1.3M641,314.5h1.3M614,338.5h1.3M636,319.5h1.3M587,322.5h1.3M607,320.5h1.3M602,315.5h1.3M607,347.5h1.3M586,340.5h1.3M595,309.5h1.3M607,312.5h1.3M626,322.5h1.3M578,352.5h1.3M575,330.5h1.3M633,323.5h1.3M645,324.5h1.3M626,335.5h1.3M582,342.5h1.3M628,326.5h1.3M617,318.5h1.3M636,301.5h1.3M662,307.5h1.3M611,325.5h1.3M630,315.5h1.3M551,340.5h1.3M602,323.5h1.3M622,318.5h1.3M602,346.5h1.3M627,305.5h1.3M632,300.5h1.3M615,325.5h1.3M619,329.5h1.3M651,320.5h1.3M602,328.5h1.3M588,317.5h1.3M635,315.5h1.3M619,325.5h1.3M618,307.5h1.3M618,313.5h1.3M606,316.5h1.3M593,344.5h1.3M588,306.5h1.3M611,313.5h1.3M631,341.5h1.3M643,310.5h1.3M620,328.5h1.3M582,348.5h1.3M634,320.5h1.3M610,343.5h1.3M625,313.5h1.3M621,314.5h1.3M631,314.5h1.3M575,339.5h1.3M601,322.5h1.3M592,336.5h1.3M649,324.5h1.3M618,344.5h1.3M630,334.5h1.3M650,306.5h1.3M611,342.5h1.3M630,338.5h1.3M601,315.5h1.3M647,326.5h1.3M640,326.5h1.3M612,320.5h1.3M609,337.5h1.3M604,325.5h1.3M597,310.5h1.3M572,332.5h1.3M603,303.5h1.3M597,318.5h1.3M611,317.5h1.3M617,320.5h1.3M621,323.5h1.3M649,299.5h1.3M627,315.5h1.3M605,322.5h1.3M593,341.5h1.3M596,322.5h1.3M630,320.5h1.3M600,335.5h1.3M624,318.5h1.3M632,306.5h1.3M625,326.5h1.3M646,345.5h1.3M587,336.5h1.3M617,331.5h1.3M574,355.5h1.3M597,337.5h1.3M626,323.5h1.3M645,338.5h1.3M612,341.5h1.3M602,310.5h1.3M606,302.5h1.3M617,313.5h1.3M601,325.5h1.3M592,325.5h1.3M602,331.5h1.3M623,299.5h1.3M607,336.5h1.3M648,318.5h1.3M628,331.5h1.3M618,345.5h1.3M656,301.5h1.3M621,338.5h1.3M617,316.5h1.3M645,298.5h1.3M622,320.5h1.3M627,336.5h1.3M623,325.5h1.3M637,324.5h1.3M609,335.5h1.3M593,343.5h1.3M640,327.5h1.3M588,340.5h1.3M610,319.5h1.3M585,339.5h1.3M548,374.5h1.3M640,315.5h1.3M582,343.5h1.3M598,334.5h1.3M622,333.5h1.3M598,315.5h1.3M601,329.5h1.3M605,341.5h1.3M609,303.5h1.3M604,319.5h1.3M590,318.5h1.3M610,318.5h1.3M580,349.5h1.3M647,316.5h1.3M578,351.5h1.3M613,331.5h1.3M611,302.5h1.3M623,324.5h1.3M611,304.5h1.3M638,308.5h1.3M609,320.5h1.3M598,322.5h1.3M643,318.5h1.3M605,337.5h1.3M610,336.5h1.3M608,326.5h1.3M625,342.5h1.3M604,317.5h1.3M623,326.5h1.3M644,315.5h1.3M653,317.5h1.3M602,318.5h1.3M562,327.5h1.3M645,304.5h1.3M606,356.5h1.3M635,312.5h1.3M619,334.5h1.3M658,314.5h1.3M658,329.5h1.3M621,329.5h1.3M580,329.5h1.3M612,316.5h1.3M608,343.5h1.3M580,338.5h1.3M638,307.5h1.3M584,337.5h1.3M649,316.5h1.3M583,319.5h1.3M637,330.5h1.3M648,297.5h1.3M588,333.5h1.3M614,326.5h1.3M600,343.5h1.3M618,320.5h1.3M614,330.5h1.3M602,342.5h1.3M660,308.5h1.3M617,344.5h1.3M610,331.5h1.3M632,314.5h1.3M630,321.5h1.3M642,331.5h1.3M615,341.5h1.3M609,318.5h1.3M573,337.5h1.3M619,323.5h1.3M634,323.5h1.3M617,326.5h1.3M601,323.5h1.3M602,349.5h1.3M609,309.5h1.3M636,307.5h1.3M613,325.5h1.3M610,325.5h1.3M596,317.5h1.3M611,335.5h1.3M564,344.5h1.3M614,334.5h1.3M619,332.5h1.3M594,345.5h1.3M615,309.5h1.3M595,328.5h1.3M643,307.5h1.3M591,342.5h1.3M603,316.5h1.3M562,336.5h1.3M663,289.5h1.3M645,319.5h1.3M586,329.5h1.3M624,332.5h1.3M591,346.5h1.3M629,341.5h1.3M604,328.5h1.3M595,305.5h1.3M643,304.5h1.3M627,324.5h1.3M601,344.5h1.3M623,337.5h1.3M633,338.5h1.3M618,289.5h1.3M647,317.5h1.3M575,307.5h1.3M653,299.5h1.3M637,313.5h1.3M637,331.5h1.3M638,304.5h1.3M581,341.5h1.3M603,334.5h1.3M637,310.5h1.3M591,345.5h1.3M610,338.5h1.3M640,298.5h1.3M652,304.5h1.3M589,349.5h1.3M610,333.5h1.3M627,328.5h1.3M609,334.5h1.3M592,328.5h1.3M613,314.5h1.3M587,344.5h1.3M632,315.5h1.3M606,338.5h1.3M598,332.5h1.3M640,316.5h1.3M570,350.5h1.3M622,311.5h1.3M579,332.5h1.3M595,337.5h1.3M603,341.5h1.3M651,313.5h1.3M600,352.5h1.3M570,364.5h1.3M593,346.5h1.3M597,362.5h1.3M650,309.5h1.3M638,313.5h1.3M591,350.5h1.3M653,302.5h1.3M610,330.5h1.3M632,321.5h1.3M597,335.5h1.3M573,340.5h1.3M613,327.5h1.3M604,327.5h1.3M601,343.5h1.3M636,321.5h1.3M632,318.5h1.3M594,349.5h1.3M583,362.5h1.3M619,342.5h1.3M634,326.5h1.3M585,322.5h1.3M602,338.5h1.3M633,297.5h1.3M650,323.5h1.3M596,339.5h1.3M627,290.5h1.3M621,331.5h1.3M604,330.5h1.3M608,346.5h1.3M559,317.5h1.3M622,339.5h1.3M605,334.5h1.3M648,306.5h1.3M592,321.5h1.3M589,361.5h1.3M641,329.5h1.3M621,311.5h1.3M601,327.5h1.3M587,326.5h1.3M653,293.5h1.3M621,344.5h1.3M645,312.5h1.3M594,323.5h1.3M619,318.5h1.3M605,346.5h1.3M650,319.5h1.3M564,334.5h1.3M603,319.5h1.3M583,330.5h1.3M594,319.5h1.3M598,340.5h1.3M571,342.5h1.3M609,349.5h1.3M628,310.5h1.3M620,307.5h1.3M626,329.5h1.3M611,347.5h1.3M646,321.5h1.3M635,306.5h1.3M560,334.5h1.3M590,327.5h1.3M589,332.5h1.3M652,314.5h1.3M579,371.5h1.3M614,331.5h1.3M550,344.5h1.3M632,322.5h1.3M622,295.5h1.3M595,335.5h1.3M620,310.5h1.3M603,332.5h1.3M602,344.5h1.3M678,306.5h1.3M615,311.5h1.3M586,309.5h1.3M605,305.5h1.3M603,321.5h1.3M576,334.5h1.3M604,311.5h1.3M548,336.5h1.3M558,330.5h1.3M608,335.5h1.3M602,307.5h1.3M581,329.5h1.3M627,325.5h1.3M607,331.5h1.3M604,338.5h1.3M630,308.5h1.3M620,311.5h1.3M605,333.5h1.3M600,325.5h1.3M632,329.5h1.3M614,303.5h1.3M617,329.5h1.3M632,307.5h1.3M612,317.5h1.3M622,317.5h1.3M620,300.5h1.3M605,313.5h1.3M589,347.5h1.3M577,331.5h1.3M660,318.5h1.3M673,293.5h1.3M584,329.5h1.3M584,338.5h1.3M599,337.5h1.3M595,308.5h1.3M594,313.5h1.3M626,309.5h1.3M585,334.5h1.3M640,335.5h1.3M590,342.5h1.3M628,312.5h1.3M626,328.5h1.3M602,337.5h1.3M643,319.5h1.3M617,330.5h1.3M596,350.5h1.3M616,314.5h1.3M593,308.5h1.3M639,321.5h1.3M616,321.5h1.3M577,335.5h1.3M639,344.5h1.3M589,321.5h1.3M601,324.5h1.3M615,329.5h1.3M604,321.5h1.3M627,321.5h1.3M599,326.5h1.3M658,306.5h1.3M596,331.5h1.3M596,320.5h1.3M659,291.5h1.3M629,296.5h1.3M614,319.5h1.3M588,321.5h1.3M627,335.5h1.3M641,310.5h1.3M629,323.5h1.3M653,287.5h1.3M632,302.5h1.3M631,318.5h1.3M636,317.5h1.3M632,325.5h1.3M651,310.5h1.3M617,323.5h1.3M573,339.5h1.3M601,311.5h1.3M581,340.5h1.3M637,314.5h1.3M616,341.5h1.3M615,310.5h1.3M601,318.5h1.3M606,335.5h1.3M577,329.5h1.3M591,312.5h1.3M609,342.5h1.3M611,309.5h1.3M642,320.5h1.3M648,300.5h1.3M587,317.5h1.3M606,327.5h1.3M606,318.5h1.3M656,300.5h1.3M613,308.5h1.3M621,317.5h1.3M658,297.5h1.3M643,327.5h1.3M619,297.5h1.3M628,337.5h1.3M602,361.5h1.3M597,352.5h1.3M581,361.5h1.3M653,294.5h1.3M578,319.5h1.3M570,311.5h1.3M608,290.5h1.3M681,270.5h1.3M567,352.5h1.3M594,327.5h1.3M592,327.5h1.3M602,314.5h1.3M614,336.5h1.3M634,324.5h1.3M564,349.5h1.3M559,372.5h1.3M637,318.5h1.3M631,329.5h1.3M569,347.5h1.3M588,324.5h1.3M588,294.5h1.3M617,332.5h1.3M594,331.5h1.3M611,357.5h1.3M617,289.5h1.3M576,328.5h1.3M577,328.5h1.3M592,334.5h1.3M591,349.5h1.3M644,309.5h1.3M641,317.5h1.3M581,338.5h1.3M607,346.5h1.3M595,331.5h1.3M597,321.5h1.3M535,316.5h1.3M592,346.5h1.3M612,335.5h1.3M620,349.5h1.3M662,276.5h1.3M594,332.5h1.3M598,338.5h1.3M591,316.5h1.3M612,324.5h1.3M591,337.5h1.3M654,324.5h1.3M580,376.5h1.3M579,377.5h1.3M580,342.5h1.3M672,299.5h1.3M585,329.5h1.3M589,366.5h1.3M618,347.5h1.3M604,335.5h1.3M558,357.5h1.3M566,345.5h1.3M584,355.5h1.3M583,331.5h1.3M589,338.5h1.3M576,336.5h1.3M614,313.5h1.3M603,318.5h1.3M559,364.5h1.3M603,360.5h1.3M600,345.5h1.3M634,297.5h1.3M562,349.5h1.3M595,324.5h1.3M563,344.5h1.3M590,309.5h1.3M613,324.5h1.3M599,321.5h1.3M567,372.5h1.3M620,306.5h1.3M622,302.5h1.3M657,285.5h1.3M603,298.5h1.3M562,335.5h1.3M594,316.5h1.3M636,324.5h1.3M630,342.5h1.3M577,354.5h1.3M618,322.5h1.3M588,366.5h1.3M608,348.5h1.3M585,327.5h1.3M560,344.5h1.3M605,304.5h1.3M546,390.5h1.3M597,356.5h1.3M573,324.5h1.3M650,312.5h1.3M604,302.5h1.3M591,352.5h1.3M598,327.5h1.3M588,357.5h1.3M666,295.5h1.3M513,372.5h1.3M607,341.5h1.3M523,366.5h1.3M653,316.5h1.3M587,348.5h1.3M521,401.5h1.3M573,335.5h1.3M550,352.5h1.3M626,312.5h1.3M594,308.5h1.3M578,334.5h1.3M659,302.5h1.3M580,310.5h1.3M574,329.5h1.3M612,355.5h1.3M600,367.5h1.3M602,340.5h1.3M568,355.5h1.3M576,350.5h1.3M563,318.5h1.3M606,308.5h1.3M546,315.5h1.3M628,328.5h1.3M639,314.5h1.3M557,359.5h1.3M583,333.5h1.3M603,331.5h1.3M618,341.5h1.3M644,303.5h1.3M566,352.5h1.3M651,343.5h1.3M637,339.5h1.3M581,307.5h1.3M653,319.5h1.3M582,353.5h1.3M551,342.5h1.3M571,350.5h1.3M634,293.5h1.3M630,297.5h1.3M625,344.5h1.3M550,375.5h1.3M574,324.5h1.3M584,320.5h1.3M614,352.5h1.3M581,319.5h1.3M597,306.5h1.3M521,371.5h1.3M701,296.5h1.3M613,296.5h1.3M570,324.5h1.3M666,306.5h1.3M656,305.5h1.3M560,348.5h1.3M605,330.5h1.3M586,327.5h1.3M619,305.5h1.3M594,334.5h1.3M602,316.5h1.3M617,286.5h1.3M566,357.5h1.3M580,316.5h1.3M575,328.5h1.3M632,332.5h1.3M581,334.5h1.3M571,336.5h1.3M592,351.5h1.3M610,323.5h1.3M607,318.5h1.3M584,361.5h1.3M593,331.5h1.3M601,310.5h1.3M632,311.5h1.3M670,319.5h1.3M597,324.5h1.3M587,331.5h1.3M577,361.5h1.3M603,313.5h1.3M550,297.5h1.3M596,346.5h1.3M614,323.5h1.3M627,312.5h1.3M497,379.5h1.3M629,293.5h1.3M587,313.5h1.3M557,332.5h1.3M578,348.5h1.3M614,344.5h1.3M565,363.5h1.3M599,325.5h1.3M551,347.5h1.3M602,320.5h1.3M567,339.5h1.3M567,306.5h1.3M525,356.5h1.3M582,327.5h1.3M599,322.5h1.3M644,327.5h1.3M575,321.5h1.3M585,316.5h1.3M646,316.5h1.3M646,290.5h1.3M583,336.5h1.3M576,358.5h1.3M581,365.5h1.3M610,308.5h1.3M669,289.5h1.3M646,302.5h1.3M650,287.5h1.3M558,345.5h1.3M587,351.5h1.3M639,293.5h1.3M619,326.5h1.3M585,349.5h1.3M683,303.5h1.3M571,361.5h1.3M534,340.5h1.3M647,314.5h1.3M591,351.5h1.3M574,359.5h1.3M600,336.5h1.3M561,332.5h1.3M578,363.5h1.3M549,344.5h1.3M659,305.5h1.3M594,324.5h1.3M608,332.5h1.3M666,291.5h1.3M575,357.5h1.3M615,322.5h1.3M568,362.5h1.3M615,336.5h1.3M629,301.5h1.3M572,359.5h1.3M588,347.5h1.3M652,305.5h1.3M575,362.5h1.3M590,363.5h1.3M612,336.5h1.3M580,317.5h1.3M647,303.5h1.3M580,336.5h1.3M604,355.5h1.3M592,348.5h1.3M644,320.5h1.3M572,365.5h1.3M565,313.5h1.3M567,365.5h1.3M617,351.5h1.3M632,292.5h1.3M629,320.5h1.3M645,354.5h1.3M617,328.5h1.3M586,334.5h1.3M496,385.5h1.3M633,325.5h1.3M608,313.5h1.3M624,326.5h1.3M526,357.5h1.3M547,361.5h1.3M573,330.5h1.3M567,318.5h1.3M649,313.5h1.3M577,360.5h1.3M573,323.5h1.3M562,358.5h1.3M638,322.5h1.3M656,289.5h1.3M621,286.5h1.3M601,336.5h1.3M649,292.5h1.3M609,297.5h1.3M654,295.5h1.3M577,303.5h1.3M533,360.5h1.3M574,369.5h1.3M586,291.5h1.3M620,327.5h1.3M558,337.5h1.3M630,314.5h1.3M640,302.5h1.3M641,327.5h1.3M567,328.5h1.3M550,362.5h1.3M586,305.5h1.3M547,358.5h1.3M663,334.5h1.3M673,320.5h1.3M627,313.5h1.3M585,315.5h1.3M550,350.5h1.3M571,343.5h1.3M639,325.5h1.3M603,329.5h1.3M575,378.5h1.3M649,270.5h1.3M676,271.5h1.3M645,327.5h1.3M575,365.5h1.3M607,359.5h1.3M551,343.5h1.3M595,349.5h1.3M560,366.5h1.3M570,334.5h1.3M639,312.5h1.3M637,306.5h1.3M571,338.5h1.3M594,352.5h1.3M594,338.5h1.3M631,332.5h1.3M531,351.5h1.3M609,293.5h1.3M617,311.5h1.3M608,339.5h1.3M601,348.5h1.3M630,335.5h1.3M613,349.5h1.3M579,354.5h1.3M624,305.5h1.3M616,333.5h1.3M589,346.5h1.3M638,330.5h1.3M591,341.5h1.3M622,306.5h1.3M598,314.5h1.3M595,310.5h1.3M612,301.5h1.3M573,341.5h1.3M649,295.5h1.3M576,342.5h1.3M629,245.5h1.3M615,249.5h1.3M595,283.5h1.3M535,240.5h1.3M520,273.5h1.3M551,262.5h1.3M528,261.5h1.3M636,215.5h1.3M525,192.5h1.3M618,192.5h1.3M627,203.5h1.3M603,256.5h1.3M630,230.5h1.3M533,233.5h1.3M542,258.5h1.3M585,263.5h1.3M595,285.5h1.3M586,218.5h1.3M612,255.5h1.3M563,264.5h1.3M501,213.5h1.3M608,241.5h1.3M579,208.5h1.3M624,227.5h1.3M612,206.5h1.3M552,214.5h1.3M629,238.5h1.3M603,212.5h1.3M602,250.5h1.3M626,206.5h1.3M543,225.5h1.3M616,256.5h1.3M611,247.5h1.3M657,237.5h1.3M517,243.5h1.3M590,272.5h1.3M573,227.5h1.3M571,215.5h1.3M661,196.5h1.3M593,207.5h1.3M558,196.5h1.3M567,249.5h1.3M578,275.5h1.3M553,199.5h1.3M557,237.5h1.3M594,189.5h1.3M590,214.5h1.3M615,291.5h1.3M592,243.5h1.3M540,233.5h1.3M621,238.5h1.3M602,246.5h1.3M567,236.5h1.3M576,199.5h1.3M601,197.5h1.3M583,213.5h1.3M626,275.5h1.3M632,210.5h1.3M582,283.5h1.3M592,261.5h1.3M545,235.5h1.3M590,306.5h1.3M608,205.5h1.3M626,227.5h1.3M595,208.5h1.3M585,212.5h1.3M560,228.5h1.3M597,205.5h1.3M545,231.5h1.3M601,291.5h1.3M550,199.5h1.3M601,205.5h1.3M581,223.5h1.3M618,270.5h1.3M573,264.5h1.3M612,252.5h1.3M655,239.5h1.3M620,197.5h1.3M561,201.5h1.3M576,238.5h1.3M514,252.5h1.3M584,230.5h1.3M542,214.5h1.3M592,193.5h1.3M505,236.5h1.3M553,217.5h1.3M593,221.5h1.3M604,200.5h1.3M527,289.5h1.3M575,255.5h1.3M622,218.5h1.3M597,239.5h1.3M553,242.5h1.3M611,227.5h1.3M600,232.5h1.3M629,225.5h1.3M597,261.5h1.3M516,233.5h1.3M582,282.5h1.3M564,237.5h1.3M653,248.5h1.3M621,295.5h1.3M634,278.5h1.3M564,225.5h1.3M600,217.5h1.3M623,270.5h1.3M545,249.5h1.3M580,220.5h1.3M580,231.5h1.3M580,250.5h1.3M561,234.5h1.3M538,234.5h1.3M607,228.5h1.3M596,187.5h1.3M591,279.5h1.3M567,291.5h1.3M531,239.5h1.3M594,242.5h1.3M579,258.5h1.3M656,244.5h1.3M550,208.5h1.3M533,241.5h1.3M579,216.5h1.3M559,298.5h1.3M650,251.5h1.3M595,237.5h1.3M578,286.5h1.3M590,236.5h1.3M640,209.5h1.3M551,235.5h1.3M609,224.5h1.3M536,244.5h1.3M584,267.5h1.3M563,236.5h1.3M603,235.5h1.3M600,271.5h1.3M640,243.5h1.3M621,267.5h1.3M566,245.5h1.3M532,199.5h1.3M554,203.5h1.3M584,277.5h1.3M560,255.5h1.3M633,218.5h1.3M626,201.5h1.3M580,251.5h1.3M570,235.5h1.3M582,250.5h1.3M586,210.5h1.3M586,201.5h1.3M529,296.5h1.3M570,208.5h1.3M513,244.5h1.3M596,283.5h1.3M549,265.5h1.3M597,240.5h1.3M565,235.5h1.3M563,250.5h1.3M667,191.5h1.3M616,300.5h1.3M572,230.5h1.3M610,266.5h1.3M586,276.5h1.3M610,246.5h1.3M555,257.5h1.3M589,262.5h1.3M579,292.5h1.3M534,260.5h1.3M663,274.5h1.3M623,225.5h1.3M557,227.5h1.3M530,246.5h1.3M562,254.5h1.3M557,259.5h1.3M531,272.5h1.3M556,243.5h1.3M608,248.5h1.3M510,257.5h1.3M592,255.5h1.3M549,230.5h1.3M544,205.5h1.3M577,244.5h1.3M561,230.5h1.3M616,207.5h1.3M619,240.5h1.3M577,232.5h1.3M562,221.5h1.3M666,226.5h1.3M611,296.5h1.3M586,268.5h1.3M635,271.5h1.3M650,232.5h1.3M572,275.5h1.3M662,209.5h1.3M582,223.5h1.3M637,252.5h1.3M565,192.5h1.3M593,240.5h1.3M572,250.5h1.3M596,295.5h1.3M630,211.5h1.3M554,255.5h1.3M576,217.5h1.3M611,218.5h1.3M533,282.5h1.3M563,246.5h1.3M658,250.5h1.3M608,195.5h1.3M531,236.5h1.3M576,237.5h1.3M598,292.5h1.3M611,206.5h1.3M632,249.5h1.3M639,267.5h1.3M649,206.5h1.3M551,245.5h1.3M518,248.5h1.3M545,229.5h1.3M629,249.5h1.3M589,240.5h1.3M632,240.5h1.3M541,261.5h1.3M589,273.5h1.3M561,226.5h1.3M592,223.5h1.3M561,205.5h1.3M575,234.5h1.3M541,219.5h1.3M646,267.5h1.3M579,261.5h1.3M541,239.5h1.3M617,218.5h1.3M597,218.5h1.3M600,248.5h1.3M576,262.5h1.3M526,249.5h1.3M536,208.5h1.3M601,230.5h1.3M639,218.5h1.3M585,258.5h1.3M635,215.5h1.3M578,271.5h1.3M618,243.5h1.3M606,209.5h1.3M536,258.5h1.3M604,247.5h1.3M596,208.5h1.3M544,265.5h1.3M537,238.5h1.3M650,265.5h1.3M622,261.5h1.3M655,226.5h1.3M531,212.5h1.3M647,213.5h1.3M656,214.5h1.3M550,230.5h1.3M633,212.5h1.3M583,212.5h1.3M638,266.5h1.3M568,257.5h1.3M612,262.5h1.3M585,227.5h1.3M635,218.5h1.3M621,196.5h1.3M612,285.5h1.3M588,227.5h1.3M575,215.5h1.3M588,217.5h1.3M622,242.5h1.3M594,219.5h1.3M602,238.5h1.3M589,244.5h1.3M591,283.5h1.3M559,199.5h1.3M513,255.5h1.3M612,213.5h1.3M612,222.5h1.3M672,252.5h1.3M540,230.5h1.3M633,251.5h1.3M601,237.5h1.3M607,274.5h1.3M636,218.5h1.3M630,251.5h1.3M591,231.5h1.3M546,242.5h1.3M539,238.5h1.3M596,217.5h1.3M656,236.5h1.3M630,268.5h1.3M587,218.5h1.3M603,224.5h1.3M620,248.5h1.3M660,207.5h1.3M561,270.5h1.3M622,259.5h1.3M557,219.5h1.3M545,206.5h1.3M646,261.5h1.3M607,268.5h1.3M578,199.5h1.3M592,215.5h1.3M631,232.5h1.3M593,226.5h1.3M659,256.5h1.3M582,272.5h1.3M559,261.5h1.3M589,275.5h1.3M554,273.5h1.3M575,237.5h1.3M640,219.5h1.3M659,207.5h1.3M619,263.5h1.3M601,267.5h1.3M555,276.5h1.3M547,231.5h1.3M605,224.5h1.3M598,247.5h1.3M570,282.5h1.3M573,252.5h1.3M656,240.5h1.3M629,207.5h1.3M594,253.5h1.3M601,256.5h1.3M641,202.5h1.3M610,296.5h1.3M598,207.5h1.3M527,275.5h1.3M519,238.5h1.3M588,220.5h1.3M606,261.5h1.3M553,235.5h1.3M608,225.5h1.3M611,266.5h1.3M589,263.5h1.3M529,249.5h1.3M651,241.5h1.3M653,291.5h1.3M566,235.5h1.3M672,244.5h1.3M593,253.5h1.3M553,195.5h1.3M513,249.5h1.3M578,269.5h1.3M524,251.5h1.3M636,217.5h1.3M602,215.5h1.3M535,271.5h1.3M613,226.5h1.3M514,191.5h1.3M599,261.5h1.3M611,245.5h1.3M594,251.5h1.3M546,277.5h1.3M589,283.5h1.3M584,258.5h1.3M592,232.5h1.3M662,242.5h1.3M656,228.5h1.3M568,285.5h1.3M563,284.5h1.3M593,254.5h1.3M612,283.5h1.3M504,244.5h1.3M564,239.5h1.3M663,204.5h1.3M537,233.5h1.3M560,248.5h1.3M564,276.5h1.3M608,212.5h1.3M590,265.5h1.3M523,199.5h1.3M615,228.5h1.3M590,239.5h1.3M565,274.5h1.3M597,305.5h1.3M627,277.5h1.3M528,243.5h1.3M523,216.5h1.3M547,240.5h1.3M553,240.5h1.3M562,211.5h1.3M641,285.5h1.3M574,216.5h1.3M635,257.5h1.3M582,202.5h1.3M648,236.5h1.3M656,233.5h1.3M569,234.5h1.3M558,268.5h1.3M605,221.5h1.3M578,277.5h1.3M517,214.5h1.3M594,280.5h1.3M659,241.5h1.3M605,240.5h1.3M560,208.5h1.3M582,191.5h1.3M586,293.5h1.3M606,218.5h1.3M606,260.5h1.3M623,259.5h1.3M537,214.5h1.3M557,206.5h1.3M627,279.5h1.3M634,268.5h1.3M603,251.5h1.3M636,272.5h1.3M508,244.5h1.3M609,192.5h1.3M559,228.5h1.3M620,214.5h1.3M615,239.5h1.3M535,254.5h1.3M605,280.5h1.3M604,295.5h1.3M606,202.5h1.3M593,288.5h1.3M637,268.5h1.3M553,297.5h1.3M536,196.5h1.3M560,265.5h1.3M630,200.5h1.3M563,279.5h1.3M573,261.5h1.3M601,238.5h1.3M646,238.5h1.3M584,259.5h1.3M623,211.5h1.3M653,214.5h1.3M614,234.5h1.3M602,237.5h1.3M551,198.5h1.3M571,250.5h1.3M598,194.5h1.3M590,227.5h1.3M579,231.5h1.3M540,234.5h1.3M606,287.5h1.3M567,296.5h1.3M597,274.5h1.3M570,294.5h1.3M597,228.5h1.3M625,283.5h1.3M600,235.5h1.3M533,252.5h1.3M605,191.5h1.3M600,216.5h1.3M563,235.5h1.3M584,251.5h1.3M591,209.5h1.3M569,200.5h1.3M608,196.5h1.3M560,201.5h1.3M601,234.5h1.3M580,245.5h1.3M608,208.5h1.3M579,249.5h1.3M613,264.5h1.3M624,221.5h1.3M568,271.5h1.3M540,205.5h1.3M647,258.5h1.3M628,215.5h1.3M546,237.5h1.3M542,236.5h1.3M571,186.5h1.3M507,249.5h1.3M582,211.5h1.3M637,226.5h1.3M575,286.5h1.3M628,251.5h1.3M650,237.5h1.3M617,249.5h1.3M638,208.5h1.3M551,197.5h1.3M519,230.5h1.3M598,240.5h1.3M589,293.5h1.3M558,244.5h1.3M548,248.5h1.3M588,258.5h1.3M589,200.5h1.3M530,230.5h1.3M602,195.5h1.3M587,242.5h1.3M616,246.5h1.3M555,245.5h1.3M603,237.5h1.3M625,216.5h1.3M582,204.5h1.3M553,292.5h1.3M614,255.5h1.3M571,214.5h1.3M547,211.5h1.3M621,227.5h1.3M619,200.5h1.3M630,243.5h1.3M572,218.5h1.3M597,289.5h1.3M613,246.5h1.3M591,281.5h1.3M558,246.5h1.3M598,251.5h1.3M595,247.5h1.3M633,199.5h1.3M601,223.5h1.3M572,253.5h1.3M595,221.5h1.3M560,240.5h1.3M576,213.5h1.3M559,274.5h1.3M603,219.5h1.3M538,256.5h1.3M608,233.5h1.3M619,211.5h1.3M561,288.5h1.3M554,244.5h1.3M531,280.5h1.3M590,226.5h1.3M539,194.5h1.3M560,198.5h1.3M571,222.5h1.3M560,234.5h1.3M625,237.5h1.3M556,249.5h1.3M597,196.5h1.3M544,219.5h1.3M602,280.5h1.3M647,221.5h1.3M644,294.5h1.3M582,287.5h1.3M598,268.5h1.3M579,289.5h1.3M582,230.5h1.3M540,238.5h1.3M513,215.5h1.3M576,259.5h1.3M627,192.5h1.3M620,218.5h1.3M513,260.5h1.3M580,222.5h1.3M564,252.5h1.3M607,299.5h1.3M541,209.5h1.3M632,282.5h1.3M611,204.5h1.3M627,242.5h1.3M512,280.5h1.3M579,215.5h1.3M651,208.5h1.3M589,223.5h1.3M631,210.5h1.3M608,243.5h1.3M567,216.5h1.3M601,228.5h1.3M635,246.5h1.3M642,219.5h1.3M654,272.5h1.3M622,209.5h1.3M589,289.5h1.3M581,241.5h1.3M619,264.5h1.3M604,248.5h1.3M641,216.5h1.3M566,263.5h1.3M626,245.5h1.3M610,280.5h1.3M542,270.5h1.3M614,242.5h1.3M601,214.5h1.3M622,221.5h1.3M587,224.5h1.3M575,194.5h1.3M604,217.5h1.3M611,263.5h1.3M668,218.5h1.3M630,233.5h1.3M556,242.5h1.3M670,193.5h1.3M554,261.5h1.3M632,204.5h1.3M551,272.5h1.3M543,249.5h1.3M622,222.5h1.3M631,285.5h1.3M559,227.5h1.3M577,243.5h1.3M655,232.5h1.3M551,276.5h1.3M551,256.5h1.3M594,237.5h1.3M547,238.5h1.3M610,244.5h1.3M596,226.5h1.3M563,205.5h1.3M598,233.5h1.3M575,281.5h1.3M625,250.5h1.3M560,207.5h1.3M634,203.5h1.3M621,221.5h1.3M553,209.5h1.3M560,189.5h1.3M584,199.5h1.3M610,213.5h1.3M652,213.5h1.3M595,211.5h1.3M631,200.5h1.3M563,208.5h1.3M564,197.5h1.3M596,200.5h1.3M628,205.5h1.3M604,206.5h1.3M637,201.5h1.3M562,219.5h1.3M554,204.5h1.3M530,224.5h1.3M573,196.5h1.3M584,195.5h1.3M593,223.5h1.3M544,199.5h1.3M571,204.5h1.3M654,219.5h1.3M592,196.5h1.3M650,206.5h1.3M543,213.5h1.3M554,206.5h1.3M593,215.5h1.3M588,199.5h1.3M619,214.5h1.3M535,196.5h1.3M615,210.5h1.3M626,197.5h1.3M567,206.5h1.3M563,220.5h1.3M576,190.5h1.3M628,200.5h1.3M566,198.5h1.3M542,220.5h1.3M622,199.5h1.3M611,215.5h1.3M596,194.5h1.3M642,209.5h1.3M617,197.5h1.3M603,216.5h1.3M629,221.5h1.3M596,198.5h1.3M660,223.5h1.3M574,217.5h1.3M626,190.5h1.3M539,230.5h1.3M594,225.5h1.3M569,198.5h1.3M549,211.5h1.3M535,195.5h1.3M604,207.5h1.3M613,210.5h1.3M566,214.5h1.3M539,200.5h1.3M555,208.5h1.3M628,199.5h1.3M540,212.5h1.3M645,214.5h1.3M519,209.5h1.3M607,219.5h1.3M624,215.5h1.3M649,212.5h1.3M575,219.5h1.3M560,196.5h1.3M530,208.5h1.3M635,190.5h1.3M589,208.5h1.3M574,203.5h1.3M575,216.5h1.3M606,204.5h1.3M596,202.5h1.3M647,207.5h1.3M632,213.5h1.3M570,199.5h1.3M591,193.5h1.3M580,192.5h1.3M591,219.5h1.3M628,195.5h1.3M604,203.5h1.3M530,197.5h1.3M591,217.5h1.3M590,202.5h1.3M611,220.5h1.3M596,201.5h1.3M591,211.5h1.3M641,215.5h1.3M546,217.5h1.3M569,204.5h1.3M548,207.5h1.3M643,215.5h1.3M651,212.5h1.3M660,213.5h1.3M616,194.5h1.3M598,210.5h1.3M612,212.5h1.3M595,218.5h1.3M570,203.5h1.3M667,215.5h1.3M595,204.5h1.3M585,204.5h1.3M573,205.5h1.3M519,193.5h1.3M564,204.5h1.3M572,224.5h1.3M594,199.5h1.3M550,206.5h1.3M624,214.5h1.3M589,207.5h1.3M634,208.5h1.3M543,215.5h1.3M530,209.5h1.3M597,217.5h1.3M585,190.5h1.3M566,216.5h1.3M663,208.5h1.3M625,204.5h1.3M592,214.5h1.3M581,207.5h1.3M635,214.5h1.3M585,200.5h1.3M662,210.5h1.3M652,220.5h1.3M568,219.5h1.3M630,204.5h1.3M666,209.5h1.3M553,207.5h1.3M584,208.5h1.3M581,220.5h1.3M602,214.5h1.3M598,222.5h1.3M580,223.5h1.3M635,196.5h1.3M657,211.5h1.3M530,192.5h1.3M613,197.5h1.3M597,203.5h1.3M616,225.5h1.3M566,209.5h1.3M610,206.5h1.3M556,208.5h1.3M646,201.5h1.3M555,207.5h1.3M575,203.5h1.3M574,241.5h1.3M606,214.5h1.3M599,207.5h1.3M620,215.5h1.3M573,209.5h1.3M581,217.5h1.3M617,192.5h1.3M515,201.5h1.3M633,204.5h1.3M570,205.5h1.3M533,203.5h1.3M560,211.5h1.3M621,218.5h1.3M636,211.5h1.3M654,218.5h1.3M618,218.5h1.3M566,202.5h1.3M633,225.5h1.3M617,206.5h1.3M595,193.5h1.3M574,209.5h1.3M555,211.5h1.3M529,203.5h1.3M641,218.5h1.3M629,203.5h1.3M615,206.5h1.3M513,201.5h1.3M587,211.5h1.3M605,207.5h1.3M651,199.5h1.3M554,207.5h1.3M612,226.5h1.3M589,191.5h1.3M601,195.5h1.3M564,211.5h1.3M616,195.5h1.3M603,227.5h1.3M515,194.5h1.3M654,195.5h1.3M560,219.5h1.3M651,216.5h1.3M556,214.5h1.3M576,211.5h1.3M609,190.5h1.3M613,222.5h1.3M646,198.5h1.3M593,211.5h1.3M665,220.5h1.3M631,207.5h1.3M575,226.5h1.3M584,213.5h1.3M558,219.5h1.3M628,198.5h1.3M624,201.5h1.3M569,201.5h1.3M642,225.5h1.3M638,216.5h1.3M556,204.5h1.3M519,205.5h1.3M630,220.5h1.3M550,189.5h1.3M661,203.5h1.3M635,216.5h1.3M543,199.5h1.3M574,205.5h1.3M609,194.5h1.3M634,221.5h1.3M543,204.5h1.3M617,221.5h1.3M564,216.5h1.3M638,200.5h1.3M591,207.5h1.3M588,214.5h1.3M621,212.5h1.3M653,223.5h1.3M590,219.5h1.3M656,211.5h1.3M556,215.5h1.3M614,201.5h1.3M551,202.5h1.3M611,214.5h1.3M603,197.5h1.3M558,200.5h1.3M523,203.5h1.3M625,199.5h1.3M612,202.5h1.3M560,214.5h1.3M639,209.5h1.3M588,210.5h1.3M635,194.5h1.3M562,208.5h1.3M621,205.5h1.3M654,200.5h1.3M571,203.5h1.3M588,205.5h1.3M629,216.5h1.3M617,209.5h1.3M595,223.5h1.3M531,209.5h1.3M601,194.5h1.3M543,209.5h1.3M621,201.5h1.3M563,201.5h1.3M587,203.5h1.3M640,222.5h1.3M630,212.5h1.3M569,217.5h1.3M654,187.5h1.3M633,208.5h1.3M625,207.5h1.3M585,215.5h1.3M600,204.5h1.3M569,220.5h1.3M609,202.5h1.3M571,195.5h1.3M653,193.5h1.3M602,221.5h1.3M610,216.5h1.3M615,201.5h1.3M615,219.5h1.3M537,207.5h1.3M658,207.5h1.3M605,194.5h1.3M576,203.5h1.3M557,209.5h1.3M570,210.5h1.3M573,203.5h1.3M601,218.5h1.3M562,222.5h1.3M605,201.5h1.3M607,212.5h1.3M569,194.5h1.3M595,199.5h1.3M615,207.5h1.3M605,210.5h1.3M593,206.5h1.3M630,219.5h1.3M662,201.5h1.3M597,204.5h1.3M562,212.5h1.3M624,208.5h1.3M607,206.5h1.3M591,201.5h1.3M614,215.5h1.3M532,209.5h1.3M580,217.5h1.3M554,221.5h1.3M575,205.5h1.3M532,272.5h1.3M560,319.5h1.3M551,298.5h1.3M564,311.5h1.3M521,315.5h1.3M516,311.5h1.3M579,312.5h1.3M526,306.5h1.3M541,319.5h1.3M550,329.5h1.3M495,303.5h1.3M539,299.5h1.3M527,300.5h1.3M558,317.5h1.3M536,301.5h1.3M565,273.5h1.3M533,280.5h1.3M526,350.5h1.3M528,329.5h1.3M544,334.5h1.3M569,316.5h1.3M521,321.5h1.3M528,317.5h1.3M563,324.5h1.3M557,330.5h1.3M553,286.5h1.3M537,321.5h1.3M531,343.5h1.3M517,316.5h1.3M544,331.5h1.3M540,271.5h1.3M514,363.5h1.3M584,308.5h1.3M540,325.5h1.3M532,314.5h1.3M544,297.5h1.3M512,308.5h1.3M535,318.5h1.3M564,291.5h1.3M588,327.5h1.3M567,337.5h1.3M516,339.5h1.3M580,327.5h1.3M549,342.5h1.3M542,312.5h1.3M588,320.5h1.3M519,345.5h1.3M524,302.5h1.3M587,275.5h1.3M569,362.5h1.3M497,338.5h1.3M588,355.5h1.3M544,332.5h1.3M555,316.5h1.3M524,295.5h1.3M594,287.5h1.3M556,346.5h1.3M518,318.5h1.3M546,298.5h1.3M538,295.5h1.3M522,303.5h1.3M525,241.5h1.3M513,316.5h1.3M526,348.5h1.3M543,297.5h1.3M559,311.5h1.3M503,317.5h1.3M516,286.5h1.3M528,321.5h1.3M500,291.5h1.3M536,300.5h1.3M537,317.5h1.3M539,309.5h1.3M555,313.5h1.3M569,288.5h1.3M565,328.5h1.3M551,284.5h1.3M560,331.5h1.3M523,299.5h1.3M519,282.5h1.3M561,308.5h1.3M559,285.5h1.3M602,298.5h1.3M538,307.5h1.3M518,330.5h1.3M552,330.5h1.3M532,322.5h1.3M520,304.5h1.3M580,273.5h1.3M554,303.5h1.3M527,307.5h1.3M543,298.5h1.3M507,330.5h1.3M566,278.5h1.3M553,311.5h1.3M577,341.5h1.3M529,292.5h1.3M544,286.5h1.3M541,305.5h1.3M498,302.5h1.3M488,344.5h1.3M514,307.5h1.3M535,324.5h1.3M578,155.5h1.3M582,139.5h1.3M612,160.5h1.3M575,181.5h1.3M648,138.5h1.3M585,181.5h1.3M594,159.5h1.3M560,171.5h1.3M584,148.5h1.3M562,184.5h1.3" stroke="#111" stroke-width="1.3" fill="none"/>
<line x1="485" y1="126.8" x2="485" y2="425.6" stroke="#000" stroke-width="2.2"/>
<line x1="485" y1="424.6" x2="781" y2="424.6" stroke="#000" stroke-width="2.4"/>
<path d="M480.5,412h4.5M480.5,399.4h4.5M480.5,390.5h4.5M480.5,383.5h4.5M480.5,377.9h4.5M480.5,373.1h4.5M480.5,368.9h4.5M480.5,365.3h4.5M477,362h8M480.5,340.5h4.5M480.5,327.9h4.5M480.5,319h4.5M480.5,312h4.5M480.5,306.4h4.5M480.5,301.6h4.5M480.5,297.4h4.5M480.5,293.8h4.5M477,290.5h8M480.5,269.4h4.5M480.5,257.1h4.5M480.5,248.4h4.5M480.5,241.6h4.5M480.5,236h4.5M480.5,231.3h4.5M480.5,227.3h4.5M480.5,223.7h4.5M477,220.5h8M480.5,200.8h4.5M480.5,189.2h4.5M480.5,181.1h4.5M480.5,174.7h4.5M480.5,169.5h4.5M480.5,165.1h4.5M480.5,161.3h4.5M480.5,158h4.5M477,155h8M480.5,135.3h4.5M500.5,424.6v4M512.4,424.6v4M520.9,424.6v4M527.5,424.6v4M532.9,424.6v4M537.5,424.6v4M541.4,424.6v4M544.9,424.6v4M548,424.6v7M568.5,424.6v4M580.4,424.6v4M588.9,424.6v4M595.5,424.6v4M600.9,424.6v4M605.5,424.6v4M609.4,424.6v4M612.9,424.6v4M616,424.6v7M636.5,424.6v4M648.4,424.6v4M656.9,424.6v4M663.5,424.6v4M668.9,424.6v4M673.5,424.6v4M677.4,424.6v4M680.9,424.6v4M684,424.6v7M704.5,424.6v4M716.4,424.6v4M724.9,424.6v4M731.5,424.6v4M736.9,424.6v4M741.5,424.6v4M745.4,424.6v4M748.9,424.6v4M752,424.6v7M772.5,424.6v4" stroke="#000" stroke-width="1.8" fill="none"/>
<path d="M488,424.6v5M490.4,424.6v5M492.8,424.6v5M495.2,424.6v5M497.6,424.6v5M500,424.6v5M502.4,424.6v5M504.8,424.6v5M507.2,424.6v5M509.6,424.6v5M512,424.6v5M514.4,424.6v5M516.8,424.6v5M519.2,424.6v5" stroke="#000" stroke-width="1.7" fill="none"/>
<line x1="576.5" y1="126.8" x2="579.2" y2="432" stroke="#000" stroke-width="1.8"/>
<line x1="485" y1="291.5" x2="784.8" y2="290" stroke="#000" stroke-width="1.8"/>
<text x="292.5" y="111" font-size="40" text-anchor="middle">Control</text>
<text x="631" y="111" font-size="40" text-anchor="middle">Reversine</text>
<text x="152" y="161" font-size="32" fill="#e0202a">3</text>
<text x="426" y="161" font-size="32" text-anchor="end" fill="#e0202a">3</text>
<text x="152" y="406.7" font-size="32" fill="#e0202a">86</text>
<text x="426" y="406.7" font-size="32" text-anchor="end" fill="#e0202a">8</text>
<text x="488" y="163.5" font-size="32" fill="#e0202a">11</text>
<text x="765" y="163.5" font-size="32" text-anchor="end" fill="#e0202a">10</text>
<text x="490.5" y="417.5" font-size="32" fill="#e0202a">47</text>
<text x="765" y="417.5" font-size="32" text-anchor="end" fill="#e0202a">32</text>
<text transform="translate(101.9 283.3) rotate(-90)" font-size="40" text-anchor="middle">Propidium Iodide</text>
<path d="M92,441V482.5H358.6" fill="none" stroke="#000" stroke-width="3.8"/>
<text x="371" y="493.6" font-size="40">Annexin V</text>
<text transform="translate(872 254.8) rotate(-90) scale(0.99 1)" font-size="40" text-anchor="middle">Cells (%)</text>
<line x1="971" y1="86" x2="971" y2="427.5" stroke="#000" stroke-width="4"/>
<line x1="961" y1="426.1" x2="1290" y2="426.1" stroke="#000" stroke-width="4.4"/>
<line x1="960" y1="88" x2="971" y2="88" stroke="#000" stroke-width="4"/>
<text transform="translate(945.5 96.8) scale(0.965 1)" font-size="40" text-anchor="end">100</text>
<line x1="960" y1="155.4" x2="971" y2="155.4" stroke="#000" stroke-width="4"/>
<text transform="translate(945.5 164.2) scale(0.965 1)" font-size="40" text-anchor="end">80</text>
<line x1="960" y1="222.8" x2="971" y2="222.8" stroke="#000" stroke-width="4"/>
<text transform="translate(945.5 231.6) scale(0.965 1)" font-size="40" text-anchor="end">60</text>
<line x1="960" y1="290.2" x2="971" y2="290.2" stroke="#000" stroke-width="4"/>
<text transform="translate(945.5 299) scale(0.965 1)" font-size="40" text-anchor="end">40</text>
<line x1="960" y1="357.6" x2="971" y2="357.6" stroke="#000" stroke-width="4"/>
<text transform="translate(945.5 366.4) scale(0.965 1)" font-size="40" text-anchor="end">20</text>
<line x1="960" y1="425.5" x2="971" y2="425.5" stroke="#000" stroke-width="4"/>
<text transform="translate(945.5 434.3) scale(0.965 1)" font-size="40" text-anchor="end">0</text>
<line x1="1027" y1="356.7" x2="1027" y2="360.7" stroke="#000" stroke-width="3.6"/>
<line x1="1005" y1="356.7" x2="1049" y2="356.7" stroke="#000" stroke-width="3.6"/>
<rect x="998.8" y="361.5" width="56.4" height="64" fill="#fff" stroke="#000" stroke-width="3.6"/>
<rect x="997" y="388" width="60" height="37.5" fill="#000"/>
<line x1="1027" y1="391.4" x2="1027" y2="396.6" stroke="#fff" stroke-width="3.4"/>
<line x1="1005" y1="396.6" x2="1049" y2="396.6" stroke="#fff" stroke-width="4.1"/>
<line x1="1135" y1="221.6" x2="1135" y2="241.6" stroke="#000" stroke-width="3.6"/>
<line x1="1113" y1="221.6" x2="1157" y2="221.6" stroke="#000" stroke-width="3.6"/>
<rect x="1106.8" y="242.4" width="56.4" height="183.1" fill="#fff" stroke="#000" stroke-width="3.6"/>
<rect x="1105" y="332" width="60" height="93.5" fill="#000"/>
<line x1="1113" y1="337" x2="1157" y2="337" stroke="#fff" stroke-width="4.1"/>
<line x1="1242" y1="215" x2="1242" y2="235.7" stroke="#000" stroke-width="3.6"/>
<line x1="1220" y1="215" x2="1264" y2="215" stroke="#000" stroke-width="3.6"/>
<rect x="1213.8" y="236.5" width="56.4" height="189" fill="#fff" stroke="#000" stroke-width="3.6"/>
<rect x="1212" y="306.7" width="60" height="118.8" fill="#000"/>
<line x1="1242" y1="310.1" x2="1242" y2="314" stroke="#fff" stroke-width="3.4"/>
<line x1="1220" y1="314" x2="1264" y2="314" stroke="#fff" stroke-width="4.1"/>
<text x="1136.7" y="215" font-size="40" text-anchor="middle" letter-spacing="3.4" stroke="#000" stroke-width="0.7">***</text>
<text x="1243.7" y="209.5" font-size="40" text-anchor="middle" letter-spacing="3.4" stroke="#000" stroke-width="0.7">***</text>
<text transform="translate(1046 452.5) rotate(-45)" font-size="40" text-anchor="end">Control</text>
<text transform="translate(1154 452.5) rotate(-45)" font-size="40" text-anchor="end">Reversine</text>
<text transform="translate(1261 452.5) rotate(-45)" font-size="40" text-anchor="end">Mps-BAY2a</text>
<rect x="995.1" y="80.1" width="34.1" height="33.6" fill="#fff" stroke="#000" stroke-width="3.7"/>
<rect x="993.2" y="128.9" width="37.8" height="37" fill="#000"/>
<text x="1036.5" y="113.6" font-size="40">PI<tspan dy="-15.2" font-size="19.5">-</tspan><tspan dy="15.2" font-size="1">&#8203;</tspan> Annexin V<tspan dy="-15.2" font-size="19.5">+</tspan><tspan dy="15.2" font-size="1">&#8203;</tspan></text>
<text x="1036.5" y="164.5" font-size="40">PI<tspan dy="-15.2" font-size="19.5">+</tspan><tspan dy="15.2" font-size="1">&#8203;</tspan></text>
<line x1="1563.4" y1="386.6" x2="1563.4" y2="399.4" stroke="#000" stroke-width="3.9"/>
<line x1="1540.9" y1="386.6" x2="1585.9" y2="386.6" stroke="#000" stroke-width="3.9"/>
<rect x="1535.7" y="400.3" width="55.5" height="26.3" fill="#a7a9ac" stroke="#8cc63f" stroke-width="3.8"/>
<line x1="1671.6" y1="229" x2="1671.6" y2="255.7" stroke="#000" stroke-width="3.9"/>
<line x1="1649.1" y1="229" x2="1694.1" y2="229" stroke="#000" stroke-width="3.9"/>
<rect x="1643.5" y="256.6" width="56.2" height="170" fill="#a7a9ac" stroke="#414042" stroke-width="3.8"/>
<line x1="1779.1" y1="218" x2="1779.1" y2="250.4" stroke="#000" stroke-width="3.9"/>
<line x1="1756.6" y1="218" x2="1801.6" y2="218" stroke="#000" stroke-width="3.9"/>
<rect x="1751.3" y="251.3" width="55.5" height="175.3" fill="#a7a9ac" stroke="#414042" stroke-width="3.8"/>
<line x1="1507.2" y1="86.4" x2="1507.2" y2="428.6" stroke="#000" stroke-width="4"/>
<line x1="1496" y1="426.6" x2="1826" y2="426.6" stroke="#000" stroke-width="4"/>
<line x1="1496.2" y1="88.4" x2="1507.2" y2="88.4" stroke="#000" stroke-width="4"/>
<text transform="translate(1483.5 99.7) scale(0.965 1)" font-size="40" text-anchor="end">20</text>
<line x1="1496.2" y1="172.9" x2="1507.2" y2="172.9" stroke="#000" stroke-width="4"/>
<text transform="translate(1483.5 184.2) scale(0.965 1)" font-size="40" text-anchor="end">15</text>
<line x1="1496.2" y1="257.5" x2="1507.2" y2="257.5" stroke="#000" stroke-width="4"/>
<text transform="translate(1483.5 268.8) scale(0.965 1)" font-size="40" text-anchor="end">10</text>
<line x1="1496.2" y1="342" x2="1507.2" y2="342" stroke="#000" stroke-width="4"/>
<text transform="translate(1483.5 353.3) scale(0.965 1)" font-size="40" text-anchor="end">5</text>
<line x1="1496.2" y1="426.6" x2="1507.2" y2="426.6" stroke="#000" stroke-width="4"/>
<text transform="translate(1483.5 437.9) scale(0.965 1)" font-size="40" text-anchor="end">0</text>
<text x="1672.7" y="220.5" font-size="40" text-anchor="middle" letter-spacing="3.4" stroke="#000" stroke-width="0.7">***</text>
<text x="1780.7" y="214" font-size="40" text-anchor="middle" letter-spacing="3.4" stroke="#000" stroke-width="0.7">***</text>
<text transform="translate(1411.5 251.2) rotate(-90) scale(0.952 1)" font-size="40" text-anchor="middle">subG1 (% cells)</text>
<text transform="translate(1582.4 452.6) rotate(-45)" font-size="40" text-anchor="end">Control</text>
<text transform="translate(1690.6 452.6) rotate(-45)" font-size="40" text-anchor="end">Reversine</text>
<text transform="translate(1798.1 452.6) rotate(-45)" font-size="40" text-anchor="end">Mps-BAY2a</text>
<line x1="118.6" y1="721.2" x2="118.6" y2="1021.4" stroke="#000" stroke-width="2.2"/>
<line x1="112.6" y1="1021.4" x2="414.3" y2="1021.4" stroke="#000" stroke-width="2.6"/>
<line x1="111.4" y1="722.3" x2="118.6" y2="722.3" stroke="#000" stroke-width="2.2"/>
<text x="101" y="732.1" font-size="31" text-anchor="end">100</text>
<line x1="111.4" y1="796.6" x2="118.6" y2="796.6" stroke="#000" stroke-width="2.2"/>
<text x="101" y="806.4" font-size="31" text-anchor="end">75</text>
<line x1="111.4" y1="871.4" x2="118.6" y2="871.4" stroke="#000" stroke-width="2.2"/>
<text x="101" y="881.2" font-size="31" text-anchor="end">50</text>
<line x1="111.4" y1="946.3" x2="118.6" y2="946.3" stroke="#000" stroke-width="2.2"/>
<text x="101" y="956.1" font-size="31" text-anchor="end">25</text>
<line x1="111.4" y1="1021.4" x2="118.6" y2="1021.4" stroke="#000" stroke-width="2.2"/>
<text x="101" y="1031.2" font-size="31" text-anchor="end">0</text>
<path d="M114,737.2h4.6M114,752h4.6M114,766.9h4.6M114,781.7h4.6M114,811.6h4.6M114,826.5h4.6M114,841.5h4.6M114,856.4h4.6M114,886.4h4.6M114,901.4h4.6M114,916.3h4.6M114,931.3h4.6M114,961.3h4.6M114,976.3h4.6M114,991.4h4.6M114,1006.4h4.6" stroke="#000" stroke-width="1.8" fill="none"/>
<path d="M119.8,1021.4v4.8M122.8,1021.4v8M142.7,1021.4v4.8M154.3,1021.4v4.8M162.6,1021.4v4.8M169,1021.4v4.8M174.2,1021.4v4.8M178.7,1021.4v4.8M182.5,1021.4v4.8M185.9,1021.4v4.8M188.9,1021.4v8M208.8,1021.4v4.8M220.4,1021.4v4.8M228.7,1021.4v4.8M235.1,1021.4v4.8M240.3,1021.4v4.8M244.8,1021.4v4.8M248.6,1021.4v4.8M252,1021.4v4.8M255,1021.4v8M274.9,1021.4v4.8M286.5,1021.4v4.8M294.8,1021.4v4.8M301.2,1021.4v4.8M306.4,1021.4v4.8M310.9,1021.4v4.8M314.7,1021.4v4.8M318.1,1021.4v4.8M321.1,1021.4v8M341,1021.4v4.8M352.6,1021.4v4.8M360.9,1021.4v4.8M367.3,1021.4v4.8M372.5,1021.4v4.8M377,1021.4v4.8M380.8,1021.4v4.8M384.2,1021.4v4.8M387.2,1021.4v8M407.1,1021.4v4.8" stroke="#000" stroke-width="1.9" fill="none"/>
<path d="M121,1021.4v5.8M123.2,1021.4v5.8M125.4,1021.4v5.8M127.6,1021.4v5.8M129.8,1021.4v5.8M132,1021.4v5.8M134.2,1021.4v5.8" stroke="#000" stroke-width="1.9" fill="none"/>
<rect x="134.9" y="689.2" width="34.2" height="34.2" fill="none" stroke="#8cc63f" stroke-width="3.3"/>
<rect x="134.9" y="735.4" width="34.2" height="34.2" fill="none" stroke="#58595b" stroke-width="3.3"/>
<text x="185.5" y="720.6" font-size="40">Control</text>
<text x="185.5" y="766.6" font-size="40">Reversine</text>
<text transform="translate(40.9 878.5) rotate(-90)" font-size="40" text-anchor="middle">Counts</text>
<text x="192" y="1088.3" font-size="40">DiOC<tspan dy="16" font-size="28">6</tspan><tspan dy="-16" font-size="24">(3)</tspan></text>
<path d="M182.9,1021.3 183.9,1021.4 184.9,1021.4 185.9,1021.2 186.9,1021 187.9,1021.1 188.9,1020.9 189.9,1020.7 190.9,1020.5 191.9,1020.3 192.9,1020.5 193.9,1020.3 194.9,1019.6 195.9,1019.6 196.9,1019.3 197.9,1019.3 198.9,1018.7 199.9,1019 200.9,1018.3 201.9,1017.8 202.9,1017.5 203.9,1016.9 204.9,1017.2 205.9,1016 206.9,1015.3 207.9,1014.9 208.9,1014.7 209.9,1013.4 210.9,1012.6 211.9,1013.1 212.9,1012.3 213.9,1011.4 214.9,1011 215.9,1010.9 216.9,1008.7 217.9,1009.8 218.9,1008.7 219.9,1008.6 220.9,1007.8 221.9,1008.9 222.9,1006.9 223.9,1007.4 224.9,1005.4 225.9,1006.3 226.9,1006.5 227.9,1005.2 228.9,1004.8 229.9,1005.8 230.9,1006.2 231.9,1006.4 232.9,1005.6 233.9,1006.3 234.9,1005.7 235.9,1007.5 236.9,1006.7 237.9,1007.8 238.9,1007.5 239.9,1007.8 240.9,1009.1 241.9,1008.6 242.9,1010.3 243.9,1010.5 244.9,1011.2 245.9,1012.1 246.9,1013.6 247.9,1013.9 248.9,1014.3 249.9,1014.4 250.9,1015.7 251.9,1016 252.9,1016.2 253.9,1016.7 254.9,1015.9 255.9,1016.8 256.9,1017.2 257.9,1017.2 258.9,1017.1 259.9,1017.4 260.9,1017.3 261.9,1017.3 262.9,1017.2 263.9,1017.6 264.9,1017.5 265.9,1017.6 266.9,1018 267.9,1017.7 268.9,1017.7 269.9,1017.2 270.9,1017.2 271.9,1017.3 272.9,1016.8 273.9,1016.2 274.9,1015.6 275.9,1015.1 276.9,1014.6 277.9,1013.7 278.9,1012 279.9,1012.6 280.9,1011.2 281.9,1009.6 282.9,1009.2 283.9,1006.9 284.9,1007 285.9,1005.4 286.9,1004.9 287.9,1003.7 288.9,1003.6 289.9,1003.3 290.9,1001.6 291.9,997.1 292.9,991.7 293.9,984.1 294.9,976.6 295.9,964.4 296.9,951.9 297.9,938.4 298.9,921.1 299.9,903.9 300.9,884.8 301.9,870.3 302.9,852.9 303.9,836.4 304.9,817.3 305.9,802.7 306.9,785.8 307.9,772.2 308.9,752.5 309.9,741 310.9,738.4 311.9,729.1 312.9,720.4 313.9,726.2 314.9,731.2 315.9,738.5 316.9,741.9 317.9,762.4 318.9,781.3 319.9,802.7 320.9,817.8 321.9,840 322.9,852.5 323.9,870.4 324.9,888.1 325.9,905.7 326.9,923.1 327.9,938.3 328.9,952.3 329.9,963.8 330.9,972.9 331.9,984.8 332.9,991 333.9,997.1 334.9,1002.4 335.9,1006.4 336.9,1010.1 337.9,1012.8 338.9,1016.1 339.9,1018.3 340.9,1019.5 341.9,1020.1 342.9,1020.9 343.9,1021.1 344.9,1021.2" fill="none" stroke="#8cc63f" stroke-width="2.5" stroke-linejoin="round"/>
<path d="M162.9,1021.2 163.9,1021.4 164.9,1021.4 165.9,1021.2 166.9,1021.1 167.9,1021.1 168.9,1020.9 169.9,1020.9 170.9,1021 171.9,1020.8 172.9,1021 173.9,1020.6 174.9,1020.8 175.9,1020.7 176.9,1020.5 177.9,1020.4 178.9,1020.4 179.9,1020.8 180.9,1020.1 181.9,1020.5 182.9,1020.4 183.9,1020 184.9,1020.5 185.9,1019.4 186.9,1020 187.9,1019.9 188.9,1019.8 189.9,1020 190.9,1019.6 191.9,1019.6 192.9,1019.9 193.9,1019.5 194.9,1019.2 195.9,1019.6 196.9,1019.3 197.9,1019.1 198.9,1019.4 199.9,1018.9 200.9,1018.7 201.9,1018.9 202.9,1018.8 203.9,1018.8 204.9,1018.3 205.9,1019.1 206.9,1018.6 207.9,1018.3 208.9,1018.2 209.9,1017 210.9,1018 211.9,1017 212.9,1017.4 213.9,1016.4 214.9,1017 215.9,1016 216.9,1015.7 217.9,1016.1 218.9,1015.3 219.9,1013.5 220.9,1013 221.9,1012.6 222.9,1011.4 223.9,1011 224.9,1009.1 225.9,1007.2 226.9,1006.6 227.9,1005.8 228.9,1004.9 229.9,1003.5 230.9,1002.1 231.9,999.3 232.9,996.4 233.9,994.3 234.9,990.3 235.9,986.6 236.9,983.3 237.9,981.5 238.9,978.5 239.9,974.6 240.9,967.1 241.9,967.2 242.9,961.3 243.9,960 244.9,959.2 245.9,954.4 246.9,952.7 247.9,951.6 248.9,953.4 249.9,950.7 250.9,945.8 251.9,945.6 252.9,943.9 253.9,942.6 254.9,939.4 255.9,941.6 256.9,937.3 257.9,938.1 258.9,932.7 259.9,935.1 260.9,933.5 261.9,934.2 262.9,926.3 263.9,931 264.9,931.9 265.9,932.5 266.9,938.5 267.9,942.7 268.9,943.9 269.9,947.2 270.9,951.5 271.9,953.5 272.9,958.1 273.9,960.7 274.9,962.4 275.9,965.5 276.9,971.9 277.9,974.7 278.9,976.8 279.9,981.3 280.9,986.5 281.9,986.5 282.9,990.5 283.9,995.1 284.9,998.2 285.9,999.4 286.9,1002.1 287.9,1004.9 288.9,1007 289.9,1006.9 290.9,1006.2 291.9,1009.2 292.9,1009.2 293.9,1009.3 294.9,1009.2 295.9,1010.7 296.9,1009.9 297.9,1009.4 298.9,1008.4 299.9,1007.3 300.9,1006.3 301.9,1005.6 302.9,1002 303.9,1001.1 304.9,998.5 305.9,997.9 306.9,993.3 307.9,989 308.9,987.7 309.9,983.7 310.9,980.2 311.9,976.9 312.9,972.1 313.9,967.6 314.9,969.2 315.9,962.8 316.9,958.1 317.9,956.7 318.9,954.4 319.9,946.3 320.9,945 321.9,942.7 322.9,937.7 323.9,937.3 324.9,932.6 325.9,931.9 326.9,931.6 327.9,932.2 328.9,933.1 329.9,935.1 330.9,939.4 331.9,941.5 332.9,954.3 333.9,956.9 334.9,962.8 335.9,969 336.9,974.7 337.9,979.6 338.9,983.5 339.9,987.7 340.9,994.2 341.9,998.3 342.9,1002.4 343.9,1006.1 344.9,1009.2 345.9,1012.4 346.9,1013.7 347.9,1014.7 348.9,1017.4 349.9,1018.9 350.9,1019.2 351.9,1020.4 352.9,1020.7 353.9,1021 354.9,1021.4" fill="none" stroke="#2d2d33" stroke-width="2.7" stroke-linejoin="round"/>
<line x1="637.9" y1="975.7" x2="637.9" y2="980.3" stroke="#000" stroke-width="3.9"/>
<line x1="615.4" y1="975.7" x2="660.4" y2="975.7" stroke="#000" stroke-width="3.9"/>
<rect x="609.9" y="981.2" width="55.9" height="39.2" fill="#a7a9ac" stroke="#8cc63f" stroke-width="3.8"/>
<line x1="745.8" y1="849.2" x2="745.8" y2="857" stroke="#000" stroke-width="3.9"/>
<line x1="723.3" y1="849.2" x2="768.3" y2="849.2" stroke="#000" stroke-width="3.9"/>
<rect x="718.1" y="857.9" width="55.4" height="162.5" fill="#a7a9ac" stroke="#414042" stroke-width="3.8"/>
<line x1="853.3" y1="844.5" x2="853.3" y2="850.8" stroke="#000" stroke-width="3.9"/>
<line x1="830.8" y1="844.5" x2="875.8" y2="844.5" stroke="#000" stroke-width="3.9"/>
<rect x="825.9" y="851.7" width="54.8" height="168.7" fill="#a7a9ac" stroke="#414042" stroke-width="3.8"/>
<line x1="582.9" y1="679.7" x2="582.9" y2="1022.4" stroke="#000" stroke-width="4"/>
<line x1="574" y1="1020.4" x2="909.6" y2="1020.4" stroke="#000" stroke-width="4"/>
<line x1="571.9" y1="681.7" x2="582.9" y2="681.7" stroke="#000" stroke-width="4"/>
<text transform="translate(565.7 692.8) scale(0.965 1)" font-size="40" text-anchor="end">100</text>
<line x1="571.9" y1="749.4" x2="582.9" y2="749.4" stroke="#000" stroke-width="4"/>
<text transform="translate(565.7 760.5) scale(0.965 1)" font-size="40" text-anchor="end">80</text>
<line x1="571.9" y1="817.2" x2="582.9" y2="817.2" stroke="#000" stroke-width="4"/>
<text transform="translate(565.7 828.3) scale(0.965 1)" font-size="40" text-anchor="end">60</text>
<line x1="571.9" y1="884.9" x2="582.9" y2="884.9" stroke="#000" stroke-width="4"/>
<text transform="translate(565.7 896) scale(0.965 1)" font-size="40" text-anchor="end">40</text>
<line x1="571.9" y1="952.7" x2="582.9" y2="952.7" stroke="#000" stroke-width="4"/>
<text transform="translate(565.7 963.8) scale(0.965 1)" font-size="40" text-anchor="end">20</text>
<line x1="571.9" y1="1020.4" x2="582.9" y2="1020.4" stroke="#000" stroke-width="4"/>
<text transform="translate(565.7 1031.5) scale(0.965 1)" font-size="40" text-anchor="end">0</text>
<text x="746.7" y="841" font-size="40" text-anchor="middle" letter-spacing="3.4" stroke="#000" stroke-width="0.7">***</text>
<text x="854.7" y="837.6" font-size="40" text-anchor="middle" letter-spacing="3.4" stroke="#000" stroke-width="0.7">***</text>
<text transform="translate(495 847.2) rotate(-90) scale(0.962 1)" font-size="40" text-anchor="middle">DiOC<tspan dy="16" font-size="28">6</tspan><tspan dy="-16" font-size="24">(3)</tspan><tspan dy="-12.3" font-size="23">Low</tspan><tspan dy="12.3" font-size="40"> (%)</tspan></text>
<text transform="translate(656.9 1052.9) rotate(-45)" font-size="40" text-anchor="end">Control</text>
<text transform="translate(764.8 1052.9) rotate(-45)" font-size="40" text-anchor="end">Reversine</text>
<text transform="translate(872.3 1052.9) rotate(-45)" font-size="40" text-anchor="end">Mps-BAY2a</text>
<line x1="1064.3" y1="721.2" x2="1064.3" y2="1021.4" stroke="#000" stroke-width="2.2"/>
<line x1="1058.3" y1="1021.4" x2="1360" y2="1021.4" stroke="#000" stroke-width="2.6"/>
<line x1="1057.1" y1="722.3" x2="1064.3" y2="722.3" stroke="#000" stroke-width="2.2"/>
<text x="1047" y="730.8" font-size="31" text-anchor="end">100</text>
<line x1="1057.1" y1="796.6" x2="1064.3" y2="796.6" stroke="#000" stroke-width="2.2"/>
<text x="1047" y="805.1" font-size="31" text-anchor="end">75</text>
<line x1="1057.1" y1="871.4" x2="1064.3" y2="871.4" stroke="#000" stroke-width="2.2"/>
<text x="1047" y="879.9" font-size="31" text-anchor="end">50</text>
<line x1="1057.1" y1="946.3" x2="1064.3" y2="946.3" stroke="#000" stroke-width="2.2"/>
<text x="1047" y="954.8" font-size="31" text-anchor="end">25</text>
<line x1="1057.1" y1="1021.4" x2="1064.3" y2="1021.4" stroke="#000" stroke-width="2.2"/>
<text x="1047" y="1029.9" font-size="31" text-anchor="end">0</text>
<path d="M1059.7,737.2h4.6M1059.7,752h4.6M1059.7,766.9h4.6M1059.7,781.7h4.6M1059.7,811.6h4.6M1059.7,826.5h4.6M1059.7,841.5h4.6M1059.7,856.4h4.6M1059.7,886.4h4.6M1059.7,901.4h4.6M1059.7,916.3h4.6M1059.7,931.3h4.6M1059.7,961.3h4.6M1059.7,976.3h4.6M1059.7,991.4h4.6M1059.7,1006.4h4.6" stroke="#000" stroke-width="1.8" fill="none"/>
<path d="M1066.9,1021.4v8M1086.9,1021.4v4.8M1098.6,1021.4v4.8M1106.9,1021.4v4.8M1113.4,1021.4v4.8M1118.6,1021.4v4.8M1123.1,1021.4v4.8M1127,1021.4v4.8M1130.4,1021.4v4.8M1133.4,1021.4v8M1153.4,1021.4v4.8M1165.1,1021.4v4.8M1173.4,1021.4v4.8M1179.9,1021.4v4.8M1185.1,1021.4v4.8M1189.6,1021.4v4.8M1193.5,1021.4v4.8M1196.9,1021.4v4.8M1199.9,1021.4v8M1219.9,1021.4v4.8M1231.6,1021.4v4.8M1239.9,1021.4v4.8M1246.4,1021.4v4.8M1251.6,1021.4v4.8M1256.1,1021.4v4.8M1260,1021.4v4.8M1263.4,1021.4v4.8M1266.4,1021.4v8M1286.4,1021.4v4.8M1298.1,1021.4v4.8M1306.4,1021.4v4.8M1312.9,1021.4v4.8M1318.1,1021.4v4.8M1322.6,1021.4v4.8M1326.5,1021.4v4.8M1329.9,1021.4v4.8M1332.9,1021.4v8M1352.9,1021.4v4.8" stroke="#000" stroke-width="1.9" fill="none"/>
<path d="M1073,1021.4v5.8M1075.2,1021.4v5.8M1077.4,1021.4v5.8M1079.6,1021.4v5.8M1081.8,1021.4v5.8M1084,1021.4v5.8M1086.2,1021.4v5.8" stroke="#000" stroke-width="1.9" fill="none"/>
<rect x="1080.6" y="689.2" width="34.2" height="34.2" fill="none" stroke="#8cc63f" stroke-width="3.3"/>
<rect x="1080.6" y="735.4" width="34.2" height="34.2" fill="none" stroke="#58595b" stroke-width="3.3"/>
<text x="1133" y="720.6" font-size="40">Control</text>
<text x="1133" y="766.6" font-size="40">Reversine</text>
<text transform="translate(986.3 878.5) rotate(-90)" font-size="40" text-anchor="middle">Counts</text>
<text x="1058.5" y="1096.6" font-size="40">MitoTracker Red</text>
<path d="M1144.3,1021.4 1145.3,1021.4 1146.3,1021.4 1147.3,1021 1148.3,1020.7 1149.3,1020.7 1150.3,1019.6 1151.3,1019.3 1152.3,1018.8 1153.3,1018.5 1154.3,1017.9 1155.3,1016.2 1156.3,1016.1 1157.3,1014 1158.3,1014.4 1159.3,1011.5 1160.3,1010.7 1161.3,1008.1 1162.3,1006.7 1163.3,1004 1164.3,1002.9 1165.3,1001.4 1166.3,999.9 1167.3,999 1168.3,996.8 1169.3,995.9 1170.3,994.6 1171.3,995.1 1172.3,994.7 1173.3,995.5 1174.3,994.8 1175.3,990.9 1176.3,987 1177.3,983.6 1178.3,978.6 1179.3,974.2 1180.3,975.3 1181.3,972 1182.3,972.8 1183.3,976.5 1184.3,975.3 1185.3,978.3 1186.3,977.3 1187.3,980.5 1188.3,981.2 1189.3,980.6 1190.3,980.5 1191.3,979.4 1192.3,976.1 1193.3,974 1194.3,968.3 1195.3,964.8 1196.3,961 1197.3,955.1 1198.3,952.1 1199.3,946.4 1200.3,943.6 1201.3,935.3 1202.3,930.8 1203.3,925.6 1204.3,912.5 1205.3,902.1 1206.3,894.5 1207.3,878.8 1208.3,869.4 1209.3,857.8 1210.3,842.8 1211.3,829.6 1212.3,823.1 1213.3,805 1214.3,801.1 1215.3,805.3 1216.3,817.2 1217.3,809.5 1218.3,792.5 1219.3,775.2 1220.3,757.8 1221.3,740.4 1222.3,726.5 1223.3,725.6 1224.3,731.8 1225.3,749 1226.3,768.5 1227.3,796.1 1228.3,819.8 1229.3,842.5 1230.3,856.5 1231.3,884.6 1232.3,898.5 1233.3,920.4 1234.3,932.9 1235.3,946.7 1236.3,957.4 1237.3,971.2 1238.3,982.8 1239.3,993.3 1240.3,1003.3 1241.3,1011.2 1242.3,1015.4 1243.3,1018.5 1244.3,1019.9 1245.3,1020.8 1246.3,1021.4" fill="none" stroke="#8cc63f" stroke-width="2.5" stroke-linejoin="round"/>
<path d="M1072.9,1021.4 1073.9,1021.4 1074.9,1021.4 1075.9,1021.3 1076.9,1021.4 1077.9,1021.4 1078.9,1021.2 1079.9,1021.4 1080.9,1021.1 1081.9,1021.3 1082.9,1021 1083.9,1021.4 1084.9,1021.4 1085.9,1021 1086.9,1020.5 1087.9,1020.4 1088.9,1020.9 1089.9,1020.4 1090.9,1020.5 1091.9,1019.6 1092.9,1019.4 1093.9,1017.8 1094.9,1017 1095.9,1016.3 1096.9,1016.6 1097.9,1017.7 1098.9,1016.9 1099.9,1017.5 1100.9,1018.2 1101.9,1017.4 1102.9,1017.2 1103.9,1016.7 1104.9,1017.9 1105.9,1016.2 1106.9,1016.4 1107.9,1017.1 1108.9,1016.2 1109.9,1017.8 1110.9,1017.4 1111.9,1019.5 1112.9,1019.9 1113.9,1019.6 1114.9,1019.2 1115.9,1017.4 1116.9,1016.6 1117.9,1015.5 1118.9,1016.1 1119.9,1013.7 1120.9,1012.9 1121.9,1010.7 1122.9,1012 1123.9,1011.7 1124.9,1009.8 1125.9,1009.5 1126.9,1002.7 1127.9,1003.8 1128.9,1007.7 1129.9,1008.9 1130.9,1009.3 1131.9,1007.5 1132.9,1003.8 1133.9,1001.1 1134.9,999.5 1135.9,998.5 1136.9,994.8 1137.9,993.1 1138.9,994.2 1139.9,989.3 1140.9,985.8 1141.9,984.9 1142.9,980 1143.9,977 1144.9,973.7 1145.9,974.2 1146.9,977.3 1147.9,978.2 1148.9,981.3 1149.9,986.7 1150.9,977.7 1151.9,968.8 1152.9,961.4 1153.9,960.5 1154.9,954.1 1155.9,946.3 1156.9,943.5 1157.9,938.1 1158.9,938.3 1159.9,929.9 1160.9,922.6 1161.9,912.6 1162.9,910.8 1163.9,909 1164.9,903 1165.9,902.5 1166.9,897.5 1167.9,901.2 1168.9,906 1169.9,906.6 1170.9,909.7 1171.9,897.5 1172.9,888.5 1173.9,868.9 1174.9,853.8 1175.9,846.7 1176.9,836.5 1177.9,836.8 1178.9,835 1179.9,846.7 1180.9,855.3 1181.9,854.4 1182.9,865.1 1183.9,861 1184.9,863 1185.9,869.4 1186.9,877.2 1187.9,889.6 1188.9,897.9 1189.9,882.8 1190.9,876.3 1191.9,861.4 1192.9,855.4 1193.9,843.8 1194.9,836.2 1195.9,835.9 1196.9,824.6 1197.9,817.6 1198.9,806.3 1199.9,811.7 1200.9,800.6 1201.9,803.8 1202.9,817.4 1203.9,829.5 1204.9,837.1 1205.9,846.7 1206.9,840.9 1207.9,844.6 1208.9,853.1 1209.9,856.3 1210.9,845.5 1211.9,849.1 1212.9,849 1213.9,859.8 1214.9,868 1215.9,877.5 1216.9,878.3 1217.9,889.8 1218.9,890.6 1219.9,895.3 1220.9,906.9 1221.9,913.6 1222.9,922.6 1223.9,938.2 1224.9,954.7 1225.9,961.1 1226.9,973.6 1227.9,982.3 1228.9,990.2 1229.9,998 1230.9,999.8 1231.9,1006.7 1232.9,1010.8 1233.9,1013.5 1234.9,1016.7 1235.9,1018.7 1236.9,1018.6 1237.9,1019.4 1238.9,1020.4 1239.9,1021.3 1240.9,1021" fill="none" stroke="#2d2d33" stroke-width="2.7" stroke-linejoin="round"/>
<line x1="1592.5" y1="1000.9" x2="1592.5" y2="1013.4" stroke="#000" stroke-width="3.9"/>
<line x1="1570" y1="1000.9" x2="1615" y2="1000.9" stroke="#000" stroke-width="3.9"/>
<rect x="1564.4" y="1014.3" width="56.2" height="6.2" fill="#a7a9ac" stroke="#8cc63f" stroke-width="3.8"/>
<line x1="1700.5" y1="883.4" x2="1700.5" y2="898.5" stroke="#000" stroke-width="3.9"/>
<line x1="1678" y1="883.4" x2="1723" y2="883.4" stroke="#000" stroke-width="3.9"/>
<rect x="1672.9" y="899.4" width="55.2" height="121.1" fill="#a7a9ac" stroke="#414042" stroke-width="3.8"/>
<line x1="1808.2" y1="750.6" x2="1808.2" y2="803" stroke="#000" stroke-width="3.9"/>
<line x1="1785.8" y1="750.6" x2="1830.8" y2="750.6" stroke="#000" stroke-width="3.9"/>
<rect x="1780.4" y="803.9" width="55.7" height="216.6" fill="#a7a9ac" stroke="#414042" stroke-width="3.8"/>
<line x1="1538.8" y1="679.9" x2="1538.8" y2="1022.5" stroke="#000" stroke-width="4"/>
<line x1="1526.7" y1="1020.5" x2="1856.4" y2="1020.5" stroke="#000" stroke-width="4"/>
<line x1="1527.8" y1="681.9" x2="1538.8" y2="681.9" stroke="#000" stroke-width="4"/>
<text transform="translate(1512.8 694.7) scale(0.965 1)" font-size="40" text-anchor="end">25</text>
<line x1="1527.8" y1="749.6" x2="1538.8" y2="749.6" stroke="#000" stroke-width="4"/>
<text transform="translate(1512.8 762.4) scale(0.965 1)" font-size="40" text-anchor="end">20</text>
<line x1="1527.8" y1="817.3" x2="1538.8" y2="817.3" stroke="#000" stroke-width="4"/>
<text transform="translate(1512.8 830.1) scale(0.965 1)" font-size="40" text-anchor="end">15</text>
<line x1="1527.8" y1="885.1" x2="1538.8" y2="885.1" stroke="#000" stroke-width="4"/>
<text transform="translate(1512.8 897.9) scale(0.965 1)" font-size="40" text-anchor="end">10</text>
<line x1="1527.8" y1="952.8" x2="1538.8" y2="952.8" stroke="#000" stroke-width="4"/>
<text transform="translate(1512.8 965.6) scale(0.965 1)" font-size="40" text-anchor="end">5</text>
<line x1="1527.8" y1="1020.5" x2="1538.8" y2="1020.5" stroke="#000" stroke-width="4"/>
<text transform="translate(1512.8 1033.3) scale(0.965 1)" font-size="40" text-anchor="end">0</text>
<text x="1702.7" y="880" font-size="40" text-anchor="middle" letter-spacing="3.4" stroke="#000" stroke-width="0.7">***</text>
<text x="1811.7" y="744.2" font-size="40" text-anchor="middle" letter-spacing="3.4" stroke="#000" stroke-width="0.7">***</text>
<text transform="translate(1446.4 848.6) rotate(-90) scale(1.0 1)" font-size="40" text-anchor="middle">MiTotracker Red (%)</text>
<text transform="translate(1611.5 1053) rotate(-45)" font-size="40" text-anchor="end">Control</text>
<text transform="translate(1719.5 1053) rotate(-45)" font-size="40" text-anchor="end">Reversine</text>
<text transform="translate(1827.2 1053) rotate(-45)" font-size="40" text-anchor="end">Mps-BAY2a</text>
<line x1="115.1" y1="1325.4" x2="115.1" y2="1628" stroke="#1a1a1a" stroke-width="1.8"/>
<line x1="115.1" y1="1628" x2="414.3" y2="1628" stroke="#1a1a1a" stroke-width="2.4"/>
<line x1="110.1" y1="1326.3" x2="115.1" y2="1326.3" stroke="#1a1a1a" stroke-width="1.4"/>
<text x="101.3" y="1334.8" font-size="31" text-anchor="end">40</text>
<line x1="112.6" y1="1401.7" x2="115.1" y2="1401.7" stroke="#1a1a1a" stroke-width="1.4"/>
<text x="101.3" y="1410.2" font-size="31" text-anchor="end">30</text>
<line x1="112.6" y1="1477.2" x2="115.1" y2="1477.2" stroke="#1a1a1a" stroke-width="1.4"/>
<text x="101.3" y="1485.7" font-size="31" text-anchor="end">20</text>
<line x1="112.6" y1="1552.6" x2="115.1" y2="1552.6" stroke="#1a1a1a" stroke-width="1.4"/>
<text x="101.3" y="1561.1" font-size="31" text-anchor="end">10</text>
<line x1="112.6" y1="1628" x2="115.1" y2="1628" stroke="#1a1a1a" stroke-width="1.4"/>
<text x="101.3" y="1636.5" font-size="31" text-anchor="end">0</text>
<path d="M113.5,1364h1.6M113.5,1439.5h1.6M113.5,1514.9h1.6M113.5,1590.3h1.6" stroke="#1a1a1a" stroke-width="1.4" fill="none"/>
<path d="M132.2,1628v2.6M141.9,1628v2.6M148.8,1628v2.6M154.1,1628v2.6M158.4,1628v2.6M162.1,1628v2.6M165.3,1628v2.6M168.1,1628v2.6M170.6,1628v4.5M187.1,1628v2.6M196.8,1628v2.6M203.7,1628v2.6M209,1628v2.6M213.3,1628v2.6M217,1628v2.6M220.2,1628v2.6M223,1628v2.6M225.5,1628v4.5M242,1628v2.6M251.7,1628v2.6M258.6,1628v2.6M263.9,1628v2.6M268.2,1628v2.6M271.9,1628v2.6M275.1,1628v2.6M277.9,1628v2.6M280.4,1628v4.5M296.9,1628v2.6M306.6,1628v2.6M313.5,1628v2.6M318.8,1628v2.6M323.1,1628v2.6M326.8,1628v2.6M330,1628v2.6M332.8,1628v2.6M335.3,1628v4.5M351.8,1628v2.6M361.5,1628v2.6M368.4,1628v2.6M373.7,1628v2.6M378,1628v2.6M381.7,1628v2.6M384.9,1628v2.6M387.7,1628v2.6M390.2,1628v4.5M406.7,1628v2.6" stroke="#000" stroke-width="1.6" fill="none"/>
<rect x="153" y="1292.8" width="34.2" height="34.2" fill="none" stroke="#8cc63f" stroke-width="3.3"/>
<rect x="153" y="1339" width="34.2" height="34.2" fill="none" stroke="#58595b" stroke-width="3.3"/>
<text x="205" y="1323.4" font-size="40">Control</text>
<text x="205" y="1369.7" font-size="40">Reversine</text>
<text transform="translate(40.9 1482) rotate(-90)" font-size="40" text-anchor="middle">Counts</text>
<text transform="translate(133.2 1698.6) scale(0.988 1)" font-size="40">Fluo3 intensity</text>
<path d="M114.3,1625.5 115.3,1625.8 116.3,1625.8 117.3,1624.7 118.3,1625.9 119.3,1624.9 120.3,1626 121.3,1626.1 122.3,1624.5 123.3,1625.8 124.3,1625.6 125.3,1625.2 126.3,1626 127.3,1626.5 128.3,1625.7 129.3,1624.8 130.3,1624.6 131.3,1624.7 132.3,1624.7 133.3,1625.8 134.3,1625.3 135.3,1625.1 136.3,1625.5 137.3,1624.9 138.3,1624.8 139.3,1624.1 140.3,1624.1 141.3,1624.3 142.3,1623.4 143.3,1625 144.3,1623.9 145.3,1623.2 146.3,1624 147.3,1622.4 148.3,1623.7 149.3,1622.7 150.3,1623.8 151.3,1621.7 152.3,1621.4 153.3,1620.7 154.3,1620 155.3,1620.8 156.3,1619.2 157.3,1620 158.3,1618.7 159.3,1619.8 160.3,1616 161.3,1618.4 162.3,1617.7 163.3,1617.2 164.3,1616.2 165.3,1618.2 166.3,1615.5 167.3,1615.9 168.3,1614.6 169.3,1613.9 170.3,1613.8 171.3,1613.7 172.3,1610.7 173.3,1610.3 174.3,1607.6 175.3,1608.4 176.3,1604.9 177.3,1603.3 178.3,1603.6 179.3,1601 180.3,1600.2 181.3,1598 182.3,1597.8 183.3,1596.1 184.3,1592.8 185.3,1593.9 186.3,1591.6 187.3,1590.3 188.3,1589.6 189.3,1586 190.3,1582.5 191.3,1584.2 192.3,1582.5 193.3,1574.3 194.3,1573.9 195.3,1568.3 196.3,1561.7 197.3,1556.3 198.3,1552.2 199.3,1546 200.3,1540.1 201.3,1533.8 202.3,1523.4 203.3,1521.8 204.3,1507.7 205.3,1499.9 206.3,1498.4 207.3,1489.7 208.3,1484.5 209.3,1472.5 210.3,1462.9 211.3,1463.4 212.3,1452 213.3,1444.9 214.3,1434.6 215.3,1432.3 216.3,1413.1 217.3,1418.3 218.3,1400 219.3,1405.6 220.3,1387.8 221.3,1392.3 222.3,1395.7 223.3,1378.2 224.3,1371.5 225.3,1385.5 226.3,1373.7 227.3,1370.4 228.3,1384.1 229.3,1368.3 230.3,1375.7 231.3,1375.4 232.3,1376.9 233.3,1370.6 234.3,1386.6 235.3,1392 236.3,1392.3 237.3,1395.9 238.3,1396.5 239.3,1412.3 240.3,1414.4 241.3,1427.3 242.3,1436 243.3,1439.1 244.3,1437.7 245.3,1450.1 246.3,1466.8 247.3,1470.8 248.3,1483.5 249.3,1478.7 250.3,1494.3 251.3,1501.3 252.3,1502.8 253.3,1511.9 254.3,1522.5 255.3,1526.3 256.3,1528.2 257.3,1535.9 258.3,1543.6 259.3,1542.6 260.3,1551.6 261.3,1558.4 262.3,1558.7 263.3,1567.8 264.3,1568.9 265.3,1576.1 266.3,1579.6 267.3,1581.3 268.3,1582 269.3,1581.8 270.3,1583.7 271.3,1583.9 272.3,1586.5 273.3,1583.7 274.3,1585 275.3,1588.9 276.3,1588.7 277.3,1591.8 278.3,1596.5 279.3,1595.8 280.3,1598.1 281.3,1600.3 282.3,1600.5 283.3,1600.5 284.3,1601.5 285.3,1604.8 286.3,1608 287.3,1609.1 288.3,1611.2 289.3,1611.4 290.3,1610.6 291.3,1610.8 292.3,1613.1 293.3,1614.4 294.3,1614.9 295.3,1617.6 296.3,1616.8 297.3,1619.1 298.3,1620.1 299.3,1618.7 300.3,1620.7 301.3,1622.8 302.3,1623.1 303.3,1623.2 304.3,1623 305.3,1623.9 306.3,1625 307.3,1626.2 308.3,1626.2 309.3,1626.4 310.3,1626.9 311.3,1627.4 312.3,1626.8 313.3,1627.2 314.3,1627.7 315.3,1628 316.3,1628" fill="none" stroke="#8cc63f" stroke-width="2.4" stroke-linejoin="round"/>
<path d="M154.3,1627.9 155.3,1627.8 156.3,1627.5 157.3,1627.4 158.3,1627.3 159.3,1627 160.3,1626.7 161.3,1626.3 162.3,1625.9 163.3,1626.1 164.3,1626.1 165.3,1626 166.3,1625.2 167.3,1625 168.3,1625.6 169.3,1625 170.3,1625 171.3,1624 172.3,1623.7 173.3,1623.2 174.3,1624.1 175.3,1622.6 176.3,1622 177.3,1622.3 178.3,1623.2 179.3,1622.2 180.3,1622 181.3,1621.6 182.3,1621.2 183.3,1620.8 184.3,1619.5 185.3,1621.3 186.3,1619.7 187.3,1620.3 188.3,1617.9 189.3,1619.1 190.3,1617.3 191.3,1616.7 192.3,1617.4 193.3,1617.4 194.3,1616.9 195.3,1615.4 196.3,1611.4 197.3,1609.5 198.3,1604.5 199.3,1601.3 200.3,1599.6 201.3,1596.4 202.3,1595.2 203.3,1588.7 204.3,1590.8 205.3,1585.7 206.3,1587 207.3,1584.7 208.3,1579 209.3,1578.9 210.3,1577.4 211.3,1570.2 212.3,1564.4 213.3,1559.1 214.3,1555.8 215.3,1551.5 216.3,1544.1 217.3,1542.6 218.3,1539.8 219.3,1534.1 220.3,1525.3 221.3,1520.2 222.3,1518.2 223.3,1514.6 224.3,1508.5 225.3,1501.1 226.3,1494.4 227.3,1495.7 228.3,1486.3 229.3,1486.9 230.3,1471.8 231.3,1467.2 232.3,1458.8 233.3,1460.1 234.3,1451.3 235.3,1444.6 236.3,1444 237.3,1459.4 238.3,1459.1 239.3,1457.6 240.3,1457.9 241.3,1460.1 242.3,1447.7 243.3,1446.7 244.3,1452.1 245.3,1456.1 246.3,1462.6 247.3,1472.5 248.3,1477.4 249.3,1483.7 250.3,1491.8 251.3,1488.8 252.3,1502 253.3,1503.5 254.3,1503.6 255.3,1508.6 256.3,1515.5 257.3,1516.7 258.3,1513.2 259.3,1517.5 260.3,1522.6 261.3,1528.5 262.3,1527.8 263.3,1527.7 264.3,1532.5 265.3,1534.2 266.3,1536.2 267.3,1539.7 268.3,1534.9 269.3,1543 270.3,1542.7 271.3,1541.6 272.3,1543.1 273.3,1546.4 274.3,1554.5 275.3,1558.7 276.3,1562.3 277.3,1568.7 278.3,1564.4 279.3,1570.3 280.3,1573 281.3,1578.5 282.3,1578.4 283.3,1579.1 284.3,1582.7 285.3,1584.5 286.3,1587.9 287.3,1587.1 288.3,1587.5 289.3,1588.8 290.3,1589.8 291.3,1593.2 292.3,1595 293.3,1594.9 294.3,1596.3 295.3,1599.7 296.3,1599.1 297.3,1600.8 298.3,1599.9 299.3,1601.6 300.3,1600.7 301.3,1602.7 302.3,1605.8 303.3,1607.8 304.3,1607 305.3,1606.8 306.3,1609.2 307.3,1611.2 308.3,1610.6 309.3,1612.6 310.3,1612.4 311.3,1612.1 312.3,1613.2 313.3,1614.7 314.3,1617.7 315.3,1617.1 316.3,1617.3 317.3,1618.6 318.3,1619.5 319.3,1619.9 320.3,1621 321.3,1621.7 322.3,1623 323.3,1624 324.3,1624.3 325.3,1623.9 326.3,1624.7 327.3,1624.5 328.3,1624.7 329.3,1625.6 330.3,1626.1 331.3,1626.2 332.3,1626.9 333.3,1627.2 334.3,1627.4 335.3,1627.5 336.3,1627.5" fill="none" stroke="#2d2d33" stroke-width="2.1" stroke-linejoin="round"/>
<line x1="637.9" y1="1583.7" x2="637.9" y2="1597.2" stroke="#000" stroke-width="3.9"/>
<line x1="615.4" y1="1583.7" x2="660.4" y2="1583.7" stroke="#000" stroke-width="3.9"/>
<rect x="609.9" y="1598.1" width="55.9" height="30.9" fill="#bcbec0" stroke="#8cc63f" stroke-width="3.8"/>
<line x1="745.8" y1="1387.3" x2="745.8" y2="1413.6" stroke="#000" stroke-width="3.9"/>
<line x1="723.3" y1="1387.3" x2="768.3" y2="1387.3" stroke="#000" stroke-width="3.9"/>
<rect x="718.1" y="1414.5" width="55.4" height="214.5" fill="#bcbec0" stroke="#636466" stroke-width="3.8"/>
<line x1="853.3" y1="1381.4" x2="853.3" y2="1430" stroke="#000" stroke-width="3.9"/>
<line x1="830.8" y1="1381.4" x2="875.8" y2="1381.4" stroke="#000" stroke-width="3.9"/>
<rect x="825.9" y="1430.9" width="54.8" height="198.1" fill="#bcbec0" stroke="#636466" stroke-width="3.8"/>
<line x1="583.5" y1="1288.6" x2="583.5" y2="1631" stroke="#000" stroke-width="4"/>
<line x1="571" y1="1629" x2="909.6" y2="1629" stroke="#000" stroke-width="4"/>
<line x1="570.8" y1="1290.6" x2="583.5" y2="1290.6" stroke="#000" stroke-width="4"/>
<text transform="translate(555.5 1302.4) scale(0.965 1)" font-size="40" text-anchor="end">4</text>
<line x1="570.8" y1="1375.2" x2="583.5" y2="1375.2" stroke="#000" stroke-width="4"/>
<text transform="translate(555.5 1387) scale(0.965 1)" font-size="40" text-anchor="end">3</text>
<line x1="570.8" y1="1459.8" x2="583.5" y2="1459.8" stroke="#000" stroke-width="4"/>
<text transform="translate(555.5 1471.6) scale(0.965 1)" font-size="40" text-anchor="end">2</text>
<line x1="570.8" y1="1544.4" x2="583.5" y2="1544.4" stroke="#000" stroke-width="4"/>
<text transform="translate(555.5 1556.2) scale(0.965 1)" font-size="40" text-anchor="end">1</text>
<line x1="570.8" y1="1629" x2="583.5" y2="1629" stroke="#000" stroke-width="4"/>
<text transform="translate(555.5 1640.8) scale(0.965 1)" font-size="40" text-anchor="end">0</text>
<text x="746.7" y="1381" font-size="40" text-anchor="middle" letter-spacing="3.4" stroke="#000" stroke-width="0.7">***</text>
<text x="854.7" y="1376" font-size="40" text-anchor="middle" letter-spacing="3.4" stroke="#000" stroke-width="0.7">***</text>
<text transform="translate(493 1442.5) rotate(-90) scale(0.984 1)" font-size="40" text-anchor="middle">Fluo3 intensity (A.U)</text>
<text transform="translate(656.9 1661.5) rotate(-45)" font-size="40" text-anchor="end">Control</text>
<text transform="translate(764.8 1661.5) rotate(-45)" font-size="40" text-anchor="end">Reversine</text>
<text transform="translate(872.3 1661.5) rotate(-45)" font-size="40" text-anchor="end">Mps-BAY2a</text>
<line x1="1060.9" y1="1325.4" x2="1060.9" y2="1628" stroke="#1a1a1a" stroke-width="1.8"/>
<line x1="1060.9" y1="1628" x2="1360" y2="1628" stroke="#1a1a1a" stroke-width="2.4"/>
<line x1="1055.9" y1="1326.3" x2="1060.9" y2="1326.3" stroke="#1a1a1a" stroke-width="1.4"/>
<text x="1047" y="1335.1" font-size="31" text-anchor="end">100</text>
<line x1="1058.4" y1="1401.7" x2="1060.9" y2="1401.7" stroke="#1a1a1a" stroke-width="1.4"/>
<text x="1047" y="1410.5" font-size="31" text-anchor="end">75</text>
<line x1="1058.4" y1="1477.2" x2="1060.9" y2="1477.2" stroke="#1a1a1a" stroke-width="1.4"/>
<text x="1047" y="1486" font-size="31" text-anchor="end">50</text>
<line x1="1058.4" y1="1552.6" x2="1060.9" y2="1552.6" stroke="#1a1a1a" stroke-width="1.4"/>
<text x="1047" y="1561.4" font-size="31" text-anchor="end">25</text>
<line x1="1058.4" y1="1628" x2="1060.9" y2="1628" stroke="#1a1a1a" stroke-width="1.4"/>
<text x="1047" y="1636.8" font-size="31" text-anchor="end">0</text>
<path d="M1059.3,1341.4h1.6M1059.3,1356.5h1.6M1059.3,1371.5h1.6M1059.3,1386.6h1.6M1059.3,1416.8h1.6M1059.3,1431.9h1.6M1059.3,1447h1.6M1059.3,1462.1h1.6M1059.3,1492.3h1.6M1059.3,1507.4h1.6M1059.3,1522.4h1.6M1059.3,1537.5h1.6M1059.3,1567.7h1.6M1059.3,1582.8h1.6M1059.3,1597.8h1.6M1059.3,1612.9h1.6" stroke="#1a1a1a" stroke-width="1.4" fill="none"/>
<path d="M1077.5,1628v2.6M1087.3,1628v2.6M1094.2,1628v2.6M1099.6,1628v2.6M1103.9,1628v2.6M1107.6,1628v2.6M1110.8,1628v2.6M1113.7,1628v2.6M1116.2,1628v4.5M1132.8,1628v2.6M1142.6,1628v2.6M1149.5,1628v2.6M1154.9,1628v2.6M1159.2,1628v2.6M1162.9,1628v2.6M1166.1,1628v2.6M1169,1628v2.6M1171.5,1628v4.5M1188.1,1628v2.6M1197.9,1628v2.6M1204.8,1628v2.6M1210.2,1628v2.6M1214.5,1628v2.6M1218.2,1628v2.6M1221.4,1628v2.6M1224.3,1628v2.6M1226.8,1628v4.5M1243.4,1628v2.6M1253.2,1628v2.6M1260.1,1628v2.6M1265.5,1628v2.6M1269.8,1628v2.6M1273.5,1628v2.6M1276.7,1628v2.6M1279.6,1628v2.6M1282.1,1628v4.5M1298.7,1628v2.6M1308.5,1628v2.6M1315.4,1628v2.6M1320.8,1628v2.6M1325.1,1628v2.6M1328.8,1628v2.6M1332,1628v2.6M1334.9,1628v2.6M1337.4,1628v4.5M1354,1628v2.6" stroke="#000" stroke-width="1.6" fill="none"/>
<rect x="1080.6" y="1292.8" width="34.2" height="34.2" fill="none" stroke="#8cc63f" stroke-width="3.3"/>
<rect x="1080.6" y="1339" width="34.2" height="34.2" fill="none" stroke="#58595b" stroke-width="3.3"/>
<text x="1133" y="1323.4" font-size="40">Control</text>
<text x="1133" y="1369.7" font-size="40">Reversine</text>
<text transform="translate(986.3 1482) rotate(-90)" font-size="40" text-anchor="middle">Counts</text>
<text x="1078.2" y="1698.6" font-size="40">FITC-Casp3 <tspan font-style="italic">c</tspan></text>
<path d="M1107.1,1628 1108.1,1627.9 1109.1,1627.9 1110.1,1627.9 1111.1,1627.8 1112.1,1627.9 1113.1,1627.8 1114.1,1627.7 1115.1,1627.6 1116.1,1627.5 1117.1,1627.4 1118.1,1627.5 1119.1,1627.4 1120.1,1627.3 1121.1,1627.3 1122.1,1627.1 1123.1,1627.1 1124.1,1626.9 1125.1,1626.8 1126.1,1626.9 1127.1,1626.6 1128.1,1626.7 1129.1,1626.6 1130.1,1626.5 1131.1,1626.2 1132.1,1626.2 1133.1,1626.2 1134.1,1626.1 1135.1,1626.3 1136.1,1626.1 1137.1,1626 1138.1,1626 1139.1,1626 1140.1,1625.8 1141.1,1625.9 1142.1,1625.8 1143.1,1625.4 1144.1,1625.3 1145.1,1624.4 1146.1,1624 1147.1,1623.2 1148.1,1622.2 1149.1,1621 1150.1,1619 1151.1,1616.6 1152.1,1614.2 1153.1,1610.9 1154.1,1607 1155.1,1602 1156.1,1596.6 1157.1,1589.8 1158.1,1582.9 1159.1,1573.7 1160.1,1564.1 1161.1,1554.7 1162.1,1541.7 1163.1,1529.7 1164.1,1516.7 1165.1,1501.8 1166.1,1488.2 1167.1,1471.7 1168.1,1458.3 1169.1,1440.6 1170.1,1426.4 1171.1,1414.4 1172.1,1403.5 1173.1,1392.6 1174.1,1380.1 1175.1,1373.6 1176.1,1367.5 1177.1,1363 1178.1,1365.4 1179.1,1365.3 1180.1,1371.5 1181.1,1375.8 1182.1,1383.2 1183.1,1392.8 1184.1,1405.1 1185.1,1418.6 1186.1,1431.5 1187.1,1449.5 1188.1,1461.8 1189.1,1475.5 1190.1,1491.8 1191.1,1507.2 1192.1,1520.6 1193.1,1533.2 1194.1,1545.4 1195.1,1556.6 1196.1,1566.8 1197.1,1576.5 1198.1,1585.2 1199.1,1592 1200.1,1599.3 1201.1,1604.1 1202.1,1608.4 1203.1,1612.4 1204.1,1616 1205.1,1617.8 1206.1,1620.4 1207.1,1622.6 1208.1,1623.7 1209.1,1624.4 1210.1,1625.4 1211.1,1626 1212.1,1626.9 1213.1,1626.9 1214.1,1627.2 1215.1,1627.4 1216.1,1627.5 1217.1,1627.5 1218.1,1627.8 1219.1,1627.9 1220.1,1627.9 1221.1,1628 1222.1,1628 1223.1,1628 1224.1,1627.9 1225.1,1628 1226.1,1628 1227.1,1628" fill="none" stroke="#8cc63f" stroke-width="2.2" stroke-linejoin="round"/>
<path d="M1141.4,1628 1142.4,1628 1143.4,1627.9 1144.4,1628 1145.4,1628 1146.4,1627.8 1147.4,1627.9 1148.4,1627.7 1149.4,1627.6 1150.4,1627.3 1151.4,1627 1152.4,1626.6 1153.4,1625.6 1154.4,1624.4 1155.4,1623.2 1156.4,1622.3 1157.4,1621 1158.4,1620.5 1159.4,1619.9 1160.4,1619.8 1161.4,1619.2 1162.4,1618.9 1163.4,1618.5 1164.4,1618 1165.4,1616.2 1166.4,1615 1167.4,1611.6 1168.4,1609.4 1169.4,1606.5 1170.4,1602 1171.4,1598.5 1172.4,1593.3 1173.4,1589.1 1174.4,1583.4 1175.4,1577.9 1176.4,1570.2 1177.4,1562.4 1178.4,1555.7 1179.4,1548.3 1180.4,1539.9 1181.4,1531.3 1182.4,1523.4 1183.4,1512.8 1184.4,1503.8 1185.4,1494 1186.4,1485.3 1187.4,1478.6 1188.4,1469.5 1189.4,1458 1190.4,1455.8 1191.4,1445.2 1192.4,1441.8 1193.4,1439 1194.4,1434.3 1195.4,1432.4 1196.4,1431.6 1197.4,1430.5 1198.4,1429.3 1199.4,1433.4 1200.4,1435.2 1201.4,1437 1202.4,1445 1203.4,1452.1 1204.4,1458.3 1205.4,1465.7 1206.4,1475.9 1207.4,1482.6 1208.4,1492.1 1209.4,1500.5 1210.4,1511 1211.4,1517.9 1212.4,1528.5 1213.4,1537.8 1214.4,1544.3 1215.4,1553.7 1216.4,1559.4 1217.4,1568.1 1218.4,1575.2 1219.4,1580.4 1220.4,1585.6 1221.4,1592.1 1222.4,1596.7 1223.4,1601.3 1224.4,1605.2 1225.4,1608.8 1226.4,1612.1 1227.4,1614.2 1228.4,1615.8 1229.4,1618.5 1230.4,1620.1 1231.4,1621.5 1232.4,1623 1233.4,1623.7 1234.4,1624.4 1235.4,1625.2 1236.4,1625.5 1237.4,1626.3 1238.4,1626.6 1239.4,1627.1 1240.4,1627.2 1241.4,1627.4 1242.4,1627.5 1243.4,1627.5" fill="none" stroke="#2d2d33" stroke-width="2" stroke-linejoin="round"/>
<line x1="1587.4" y1="1615.8" x2="1587.4" y2="1621" stroke="#000" stroke-width="3.9"/>
<line x1="1564.9" y1="1615.8" x2="1609.9" y2="1615.8" stroke="#000" stroke-width="3.9"/>
<rect x="1559.4" y="1621.9" width="56" height="7.3" fill="#a7a9ac" stroke="#8cc63f" stroke-width="3.8"/>
<line x1="1695.4" y1="1383" x2="1695.4" y2="1406" stroke="#000" stroke-width="3.9"/>
<line x1="1672.9" y1="1383" x2="1717.9" y2="1383" stroke="#000" stroke-width="3.9"/>
<rect x="1667.7" y="1406.9" width="55.4" height="222.3" fill="#a7a9ac" stroke="#414042" stroke-width="3.8"/>
<line x1="1803" y1="1382.3" x2="1803" y2="1397.5" stroke="#000" stroke-width="3.9"/>
<line x1="1780.5" y1="1382.3" x2="1825.5" y2="1382.3" stroke="#000" stroke-width="3.9"/>
<rect x="1775.4" y="1398.4" width="55.1" height="230.8" fill="#a7a9ac" stroke="#414042" stroke-width="3.8"/>
<line x1="1533.9" y1="1288.5" x2="1533.9" y2="1631.2" stroke="#000" stroke-width="4"/>
<line x1="1521.5" y1="1629.2" x2="1859" y2="1629.2" stroke="#000" stroke-width="4"/>
<line x1="1522.9" y1="1290.5" x2="1533.9" y2="1290.5" stroke="#000" stroke-width="4"/>
<text transform="translate(1513 1302.8) scale(0.965 1)" font-size="40" text-anchor="end">30</text>
<line x1="1522.9" y1="1403.4" x2="1533.9" y2="1403.4" stroke="#000" stroke-width="4"/>
<text transform="translate(1513 1415.7) scale(0.965 1)" font-size="40" text-anchor="end">20</text>
<line x1="1522.9" y1="1516.3" x2="1533.9" y2="1516.3" stroke="#000" stroke-width="4"/>
<text transform="translate(1513 1528.6) scale(0.965 1)" font-size="40" text-anchor="end">10</text>
<line x1="1522.9" y1="1629.2" x2="1533.9" y2="1629.2" stroke="#000" stroke-width="4"/>
<text transform="translate(1513 1641.5) scale(0.965 1)" font-size="40" text-anchor="end">0</text>
<text x="1697.2" y="1376" font-size="40" text-anchor="middle" letter-spacing="3.4" stroke="#000" stroke-width="0.7">***</text>
<text x="1804.7" y="1376" font-size="40" text-anchor="middle" letter-spacing="3.4" stroke="#000" stroke-width="0.7">***</text>
<text transform="translate(1442.2 1458.7) rotate(-90) scale(1.0 1)" font-size="40" text-anchor="middle">Casp3 cleaved (%)</text>
<text transform="translate(1606.4 1661.7) rotate(-45)" font-size="40" text-anchor="end">Control</text>
<text transform="translate(1714.4 1661.7) rotate(-45)" font-size="40" text-anchor="end">Reversine</text>
<text transform="translate(1822 1661.7) rotate(-45)" font-size="40" text-anchor="end">Mps-BAY2a</text>
<text transform="translate(149.5 2063.5) rotate(-90) scale(0.995 1)" font-size="40" text-anchor="middle">Cells (%)</text>
<line x1="273.8" y1="1893.2" x2="273.8" y2="2236.3" stroke="#000" stroke-width="4"/>
<line x1="264" y1="2234.3" x2="836.7" y2="2234.3" stroke="#000" stroke-width="4"/>
<line x1="264" y1="1895.2" x2="273.8" y2="1895.2" stroke="#000" stroke-width="4"/>
<text transform="translate(247.8 1908.2) scale(0.965 1)" font-size="40" text-anchor="end">100</text>
<line x1="264" y1="1963" x2="273.8" y2="1963" stroke="#000" stroke-width="4"/>
<text transform="translate(247.8 1976) scale(0.965 1)" font-size="40" text-anchor="end">80</text>
<line x1="264" y1="2030.8" x2="273.8" y2="2030.8" stroke="#000" stroke-width="4"/>
<text transform="translate(247.8 2043.8) scale(0.965 1)" font-size="40" text-anchor="end">60</text>
<line x1="264" y1="2098.7" x2="273.8" y2="2098.7" stroke="#000" stroke-width="4"/>
<text transform="translate(247.8 2111.7) scale(0.965 1)" font-size="40" text-anchor="end">40</text>
<line x1="264" y1="2166.5" x2="273.8" y2="2166.5" stroke="#000" stroke-width="4"/>
<text transform="translate(247.8 2179.5) scale(0.965 1)" font-size="40" text-anchor="end">20</text>
<line x1="264" y1="2234.3" x2="273.8" y2="2234.3" stroke="#000" stroke-width="4"/>
<text transform="translate(247.8 2247.3) scale(0.965 1)" font-size="40" text-anchor="end">0</text>
<line x1="342" y1="2184.6" x2="342" y2="2186.7" stroke="#000" stroke-width="3.6"/>
<line x1="320" y1="2184.6" x2="364" y2="2184.6" stroke="#000" stroke-width="3.6"/>
<rect x="314.1" y="2187.5" width="55.8" height="46.8" fill="#fff" stroke="#000" stroke-width="3.6"/>
<rect x="312.3" y="2218.3" width="59.4" height="16" fill="#000"/>
<line x1="320" y1="2221" x2="364" y2="2221" stroke="#fff" stroke-width="4.1"/>
<line x1="412.5" y1="2196.2" x2="412.5" y2="2198.3" stroke="#000" stroke-width="3.6"/>
<line x1="390.5" y1="2196.2" x2="434.5" y2="2196.2" stroke="#000" stroke-width="3.6"/>
<rect x="384.5" y="2199.1" width="56" height="35.2" fill="#fff" stroke="#000" stroke-width="3.6"/>
<rect x="382.7" y="2225" width="59.6" height="9.3" fill="#000"/>
<line x1="390.5" y1="2228.5" x2="434.5" y2="2228.5" stroke="#fff" stroke-width="4.1"/>
<line x1="515.4" y1="2031" x2="515.4" y2="2040" stroke="#000" stroke-width="3.6"/>
<line x1="493.4" y1="2031" x2="537.4" y2="2031" stroke="#000" stroke-width="3.6"/>
<rect x="487.5" y="2040.8" width="55.7" height="193.5" fill="#fff" stroke="#000" stroke-width="3.6"/>
<rect x="485.7" y="2176.7" width="59.3" height="57.6" fill="#000"/>
<line x1="515.4" y1="2180.1" x2="515.4" y2="2183.3" stroke="#fff" stroke-width="3.4"/>
<line x1="493.4" y1="2183.3" x2="537.4" y2="2183.3" stroke="#fff" stroke-width="4.1"/>
<line x1="588.6" y1="2095.7" x2="588.6" y2="2107" stroke="#000" stroke-width="3.6"/>
<line x1="566.6" y1="2095.7" x2="610.6" y2="2095.7" stroke="#000" stroke-width="3.6"/>
<rect x="560.8" y="2107.8" width="55.7" height="126.5" fill="#fff" stroke="#000" stroke-width="3.6"/>
<rect x="559" y="2196.7" width="59.3" height="37.6" fill="#000"/>
<line x1="588.6" y1="2200.1" x2="588.6" y2="2210" stroke="#fff" stroke-width="3.4"/>
<line x1="566.6" y1="2210" x2="610.6" y2="2210" stroke="#fff" stroke-width="4.1"/>
<line x1="693" y1="2029" x2="693" y2="2042" stroke="#000" stroke-width="3.6"/>
<line x1="671" y1="2029" x2="715" y2="2029" stroke="#000" stroke-width="3.6"/>
<rect x="665.1" y="2042.8" width="55.8" height="191.5" fill="#fff" stroke="#000" stroke-width="3.6"/>
<rect x="663.3" y="2165" width="59.4" height="69.3" fill="#000"/>
<line x1="693" y1="2168.4" x2="693" y2="2179.3" stroke="#fff" stroke-width="3.4"/>
<line x1="671" y1="2179.3" x2="715" y2="2179.3" stroke="#fff" stroke-width="4.1"/>
<line x1="766.7" y1="2108.8" x2="766.7" y2="2112.5" stroke="#000" stroke-width="3.6"/>
<line x1="744.7" y1="2108.8" x2="788.7" y2="2108.8" stroke="#000" stroke-width="3.6"/>
<rect x="738.5" y="2113.3" width="56.4" height="121" fill="#fff" stroke="#000" stroke-width="3.6"/>
<rect x="736.7" y="2201.7" width="60" height="32.6" fill="#000"/>
<line x1="766.7" y1="2205.1" x2="766.7" y2="2215.7" stroke="#fff" stroke-width="3.4"/>
<line x1="744.7" y1="2215.7" x2="788.7" y2="2215.7" stroke="#fff" stroke-width="4.1"/>
<text x="590.7" y="2091" font-size="40" text-anchor="middle" letter-spacing="3.4" stroke="#000" stroke-width="0.7">***</text>
<text x="767.7" y="2104.5" font-size="40" text-anchor="middle" letter-spacing="3.4" stroke="#000" stroke-width="0.7">***</text>
<rect x="314.4" y="1904.7" width="33" height="33" fill="#fff" stroke="#000" stroke-width="3.6"/>
<rect x="312.6" y="1953.3" width="36.7" height="36.5" fill="#000"/>
<text x="359.5" y="1937" font-size="40">PI<tspan dy="-15.2" font-size="19.5">-</tspan><tspan dy="15.2" font-size="1">&#8203;</tspan> DiOC<tspan dy="16" font-size="28">6</tspan><tspan dy="-16" font-size="24">(3)</tspan><tspan dy="-12.3" font-size="23">Low</tspan></text>
<text x="359.5" y="1987.9" font-size="40">PI<tspan dy="-15.2" font-size="19.5">+</tspan><tspan dy="15.2" font-size="1">&#8203;</tspan></text>
<text transform="translate(272.5 2287.8) scale(0.994 1)" font-size="40" text-anchor="end">Z-VAD-fmk</text>
<line x1="334.3" y1="2273.3" x2="349.3" y2="2273.3" stroke="#000" stroke-width="4.5"/>
<line x1="399" y1="2273.3" x2="426" y2="2273.3" stroke="#000" stroke-width="4"/>
<line x1="412.5" y1="2259.8" x2="412.5" y2="2286.8" stroke="#000" stroke-width="4"/>
<line x1="507.5" y1="2273.3" x2="522.5" y2="2273.3" stroke="#000" stroke-width="4.5"/>
<line x1="575.1" y1="2273.3" x2="602.1" y2="2273.3" stroke="#000" stroke-width="4"/>
<line x1="588.6" y1="2259.8" x2="588.6" y2="2286.8" stroke="#000" stroke-width="4"/>
<line x1="685" y1="2273.3" x2="700" y2="2273.3" stroke="#000" stroke-width="4.5"/>
<line x1="753.1" y1="2273.3" x2="780.1" y2="2273.3" stroke="#000" stroke-width="4"/>
<line x1="766.6" y1="2259.8" x2="766.6" y2="2286.8" stroke="#000" stroke-width="4"/>
<line x1="321" y1="2304.3" x2="433.3" y2="2304.3" stroke="#000" stroke-width="4.1"/>
<line x1="496" y1="2304.3" x2="608.3" y2="2304.3" stroke="#000" stroke-width="4.1"/>
<line x1="673.3" y1="2304.3" x2="786" y2="2304.3" stroke="#000" stroke-width="4.1"/>
<text transform="translate(436 2337) rotate(-30)" font-size="40" text-anchor="end">Control</text>
<text transform="translate(610 2337) rotate(-30)" font-size="40" text-anchor="end">Reversine</text>
<text transform="translate(788 2337) rotate(-30)" font-size="40" text-anchor="end">Mps-BAY2a</text>
<line x1="1060.9" y1="1932.8" x2="1060.9" y2="2235.1" stroke="#1a1a1a" stroke-width="1.8"/>
<line x1="1060.9" y1="2235.1" x2="1360" y2="2235.1" stroke="#1a1a1a" stroke-width="2.4"/>
<line x1="1055.9" y1="1933.7" x2="1060.9" y2="1933.7" stroke="#1a1a1a" stroke-width="1.4"/>
<text x="1047" y="1942.5" font-size="31" text-anchor="end">100</text>
<line x1="1058.4" y1="2009.1" x2="1060.9" y2="2009.1" stroke="#1a1a1a" stroke-width="1.4"/>
<text x="1047" y="2017.9" font-size="31" text-anchor="end">75</text>
<line x1="1058.4" y1="2084.4" x2="1060.9" y2="2084.4" stroke="#1a1a1a" stroke-width="1.4"/>
<text x="1047" y="2093.2" font-size="31" text-anchor="end">50</text>
<line x1="1058.4" y1="2159.8" x2="1060.9" y2="2159.8" stroke="#1a1a1a" stroke-width="1.4"/>
<text x="1047" y="2168.6" font-size="31" text-anchor="end">25</text>
<line x1="1058.4" y1="2235.1" x2="1060.9" y2="2235.1" stroke="#1a1a1a" stroke-width="1.4"/>
<text x="1047" y="2243.9" font-size="31" text-anchor="end">0</text>
<path d="M1059.3,1948.8h1.6M1059.3,1963.9h1.6M1059.3,1978.9h1.6M1059.3,1994h1.6M1059.3,2024.2h1.6M1059.3,2039.2h1.6M1059.3,2054.3h1.6M1059.3,2069.3h1.6M1059.3,2099.5h1.6M1059.3,2114.6h1.6M1059.3,2129.6h1.6M1059.3,2144.7h1.6M1059.3,2174.9h1.6M1059.3,2189.9h1.6M1059.3,2205h1.6M1059.3,2220h1.6" stroke="#1a1a1a" stroke-width="1.4" fill="none"/>
<path d="M1077.5,2235.1v2.6M1087.3,2235.1v2.6M1094.2,2235.1v2.6M1099.6,2235.1v2.6M1103.9,2235.1v2.6M1107.6,2235.1v2.6M1110.8,2235.1v2.6M1113.7,2235.1v2.6M1116.2,2235.1v4.5M1132.8,2235.1v2.6M1142.6,2235.1v2.6M1149.5,2235.1v2.6M1154.9,2235.1v2.6M1159.2,2235.1v2.6M1162.9,2235.1v2.6M1166.1,2235.1v2.6M1169,2235.1v2.6M1171.5,2235.1v4.5M1188.1,2235.1v2.6M1197.9,2235.1v2.6M1204.8,2235.1v2.6M1210.2,2235.1v2.6M1214.5,2235.1v2.6M1218.2,2235.1v2.6M1221.4,2235.1v2.6M1224.3,2235.1v2.6M1226.8,2235.1v4.5M1243.4,2235.1v2.6M1253.2,2235.1v2.6M1260.1,2235.1v2.6M1265.5,2235.1v2.6M1269.8,2235.1v2.6M1273.5,2235.1v2.6M1276.7,2235.1v2.6M1279.6,2235.1v2.6M1282.1,2235.1v4.5M1298.7,2235.1v2.6M1308.5,2235.1v2.6M1315.4,2235.1v2.6M1320.8,2235.1v2.6M1325.1,2235.1v2.6M1328.8,2235.1v2.6M1332,2235.1v2.6M1334.9,2235.1v2.6M1337.4,2235.1v4.5M1354,2235.1v2.6" stroke="#000" stroke-width="1.6" fill="none"/>
<rect x="1080.6" y="1900.2" width="34.2" height="34.2" fill="none" stroke="#8cc63f" stroke-width="3.3"/>
<rect x="1080.6" y="1946.4" width="34.2" height="34.2" fill="none" stroke="#58595b" stroke-width="3.3"/>
<text x="1133" y="1930.9" font-size="40">Control</text>
<text x="1133" y="1977.1" font-size="40">Reversine</text>
<text transform="translate(986.3 2089.5) rotate(-90)" font-size="40" text-anchor="middle">Counts</text>
<text transform="translate(1079.6 2305.7) scale(0.984 1)" font-size="40">cleaved PARP</text>
<path d="M1130,2235.1 1131,2235.1 1132,2235.1 1133,2235.1 1134,2235.1 1135,2235.1 1136,2235.1 1137,2235.1 1138,2235.1 1139,2235 1140,2234.9 1141,2235 1142,2234.9 1143,2234.8 1144,2234.4 1145,2234.4 1146,2234.1 1147,2233.4 1148,2232.9 1149,2232.3 1150,2231.1 1151,2230 1152,2228 1153,2225.9 1154,2223.6 1155,2220.2 1156,2216.4 1157,2211.7 1158,2205.6 1159,2200.2 1160,2191.8 1161,2182.9 1162,2172.9 1163,2162.1 1164,2149 1165,2136.9 1166,2121.4 1167,2107 1168,2089.2 1169,2072.4 1170,2055.6 1171,2040 1172,2021.9 1173,2008.8 1174,1993.1 1175,1981.7 1176,1968.9 1177,1961.7 1178,1952.3 1179,1948.9 1180,1949.6 1181,1949.2 1182,1955.4 1183,1959.6 1184,1970.1 1185,1979.6 1186,1991.3 1187,2009.6 1188,2023.1 1189,2040.8 1190,2056.7 1191,2071.7 1192,2090.5 1193,2107.2 1194,2122.8 1195,2137.5 1196,2150 1197,2162 1198,2173.2 1199,2182.5 1200,2192.3 1201,2199.9 1202,2206.2 1203,2211.3 1204,2216.5 1205,2220 1206,2223.8 1207,2225.9 1208,2228 1209,2229.7 1210,2230.9 1211,2232 1212,2232.8 1213,2233.2 1214,2234.1 1215,2234.3 1216,2234.5 1217,2234.6 1218,2234.8 1219,2234.9 1220,2235 1221,2235 1222,2235.1 1223,2235 1224,2235.1 1225,2235.1 1226,2235.1 1227,2235.1 1228,2235.1 1229,2235.1 1230,2235.1 1231,2235.1 1232,2235.1 1233,2235.1 1234,2235.1 1235,2235.1 1236,2235.1 1237,2235.1 1238,2235.1 1239,2235.1 1240,2235.1 1241,2235.1 1242,2235.1 1243,2235.1 1244,2235.1 1245,2235.1 1246,2235.1 1247,2235.1 1248,2235 1249,2235 1250,2234.8 1251,2234.9 1252,2234.8 1253,2234.9 1254,2234.5 1255,2234.8 1256,2234.5 1257,2234.3 1258,2234.4 1259,2234.3 1260,2234.2 1261,2234.3 1262,2234 1263,2234 1264,2234 1265,2233.9 1266,2234.1 1267,2234.2 1268,2234.1 1269,2234.3 1270,2234.4 1271,2234.5 1272,2234.4 1273,2234.6 1274,2234.7 1275,2234.9 1276,2234.8 1277,2235 1278,2234.9 1279,2235 1280,2235 1281,2235.1 1282,2235.1 1283,2235.1 1284,2235.1" fill="none" stroke="#8cc63f" stroke-width="2.2" stroke-linejoin="round"/>
<path d="M1087.1,2234.3 1088.1,2233.9 1089.1,2234 1090.1,2234.3 1091.1,2234.4 1092.1,2234.2 1093.1,2234.3 1094.1,2234.3 1095.1,2234.2 1096.1,2233.9 1097.1,2234.1 1098.1,2234.2 1099.1,2233.7 1100.1,2234.4 1101.1,2234.3 1102.1,2233.9 1103.1,2234.4 1104.1,2233.6 1105.1,2233.4 1106.1,2233.5 1107.1,2233.4 1108.1,2234 1109.1,2233.4 1110.1,2233.3 1111.1,2233.4 1112.1,2233.7 1113.1,2233.2 1114.1,2232.9 1115.1,2233 1116.1,2233.2 1117.1,2232.6 1118.1,2232.9 1119.1,2232.3 1120.1,2231.7 1121.1,2231.6 1122.1,2231.9 1123.1,2230.5 1124.1,2230.7 1125.1,2229.9 1126.1,2229.2 1127.1,2228.6 1128.1,2228.5 1129.1,2227.9 1130.1,2227.3 1131.1,2227 1132.1,2225.6 1133.1,2225.2 1134.1,2224.4 1135.1,2224.3 1136.1,2223.8 1137.1,2223.1 1138.1,2223 1139.1,2221.2 1140.1,2220.9 1141.1,2220.9 1142.1,2220.6 1143.1,2218.1 1144.1,2217.7 1145.1,2216.4 1146.1,2212.5 1147.1,2211.8 1148.1,2208.6 1149.1,2207.2 1150.1,2205.8 1151.1,2201.6 1152.1,2200.9 1153.1,2197.2 1154.1,2193.8 1155.1,2191.4 1156.1,2185.8 1157.1,2180.2 1158.1,2177.9 1159.1,2171.8 1160.1,2167.5 1161.1,2160.7 1162.1,2155.3 1163.1,2149.6 1164.1,2144 1165.1,2140.3 1166.1,2135.9 1167.1,2133.3 1168.1,2135.8 1169.1,2124.4 1170.1,2119.1 1171.1,2120.5 1172.1,2113.6 1173.1,2111.8 1174.1,2110.9 1175.1,2110.1 1176.1,2108.7 1177.1,2108 1178.1,2106.9 1179.1,2110 1180.1,2110.3 1181.1,2108.4 1182.1,2110.6 1183.1,2110.3 1184.1,2117.2 1185.1,2118.1 1186.1,2125.1 1187.1,2122.2 1188.1,2129.4 1189.1,2127.1 1190.1,2128.5 1191.1,2133.2 1192.1,2138.9 1193.1,2143.3 1194.1,2142.3 1195.1,2147.6 1196.1,2146.2 1197.1,2147.6 1198.1,2149.8 1199.1,2156.4 1200.1,2159.3 1201.1,2166.4 1202.1,2170.5 1203.1,2178.9 1204.1,2184 1205.1,2190.5 1206.1,2191.7 1207.1,2196.3 1208.1,2200.5 1209.1,2205.3 1210.1,2210.7 1211.1,2212.7 1212.1,2217.3 1213.1,2218.7 1214.1,2220.1 1215.1,2221.8 1216.1,2222.2 1217.1,2222.7 1218.1,2225 1219.1,2225.2 1220.1,2224.3 1221.1,2224.8 1222.1,2226.2 1223.1,2224.8 1224.1,2225.5 1225.1,2225.7 1226.1,2225.3 1227.1,2225.3 1228.1,2225.3 1229.1,2225.6 1230.1,2224.6 1231.1,2225.6 1232.1,2225.8 1233.1,2224.9 1234.1,2226.1 1235.1,2225.3 1236.1,2224.4 1237.1,2224.9 1238.1,2226.2 1239.1,2226.6 1240.1,2226.1 1241.1,2225.6 1242.1,2226.4 1243.1,2227.1 1244.1,2226.5 1245.1,2225.6 1246.1,2226.5 1247.1,2225.7 1248.1,2225.4 1249.1,2225.2 1250.1,2225.5 1251.1,2225.1 1252.1,2224.7 1253.1,2225.4 1254.1,2225.7 1255.1,2226.6 1256.1,2225.3 1257.1,2226.1 1258.1,2225.7 1259.1,2226.4 1260.1,2225.9 1261.1,2224.3 1262.1,2226.7 1263.1,2225.7 1264.1,2225.3 1265.1,2225 1266.1,2225.2 1267.1,2225 1268.1,2225.6 1269.1,2225.8 1270.1,2225.6 1271.1,2225.9 1272.1,2225.2 1273.1,2226.1 1274.1,2225.8 1275.1,2226.2 1276.1,2226.4 1277.1,2225.9 1278.1,2227 1279.1,2226.8 1280.1,2226.5 1281.1,2228.2 1282.1,2228.7 1283.1,2227.6 1284.1,2228 1285.1,2229.4 1286.1,2230.4 1287.1,2231.2 1288.1,2231.6 1289.1,2231.9 1290.1,2232.8 1291.1,2233.1 1292.1,2233.1 1293.1,2233.5 1294.1,2233.9 1295.1,2233.6 1296.1,2233.8 1297.1,2233.8 1298.1,2234.5 1299.1,2234.4 1300.1,2234.4 1301.1,2234.2 1302.1,2234.3 1303.1,2234.6 1304.1,2234.2 1305.1,2234.5 1306.1,2234.3 1307.1,2234.3 1308.1,2234.4 1309.1,2234.5 1310.1,2234.7 1311.1,2234.2 1312.1,2234.7" fill="none" stroke="#2d2d33" stroke-width="2.1" stroke-linejoin="round"/>
<line x1="1587.4" y1="2218.3" x2="1587.4" y2="2224" stroke="#000" stroke-width="3.9"/>
<line x1="1564.9" y1="2218.3" x2="1609.9" y2="2218.3" stroke="#000" stroke-width="3.9"/>
<rect x="1559.4" y="2224.9" width="56" height="11.1" fill="#bcbec0" stroke="#8cc63f" stroke-width="3.8"/>
<line x1="1695.4" y1="2064.2" x2="1695.4" y2="2079" stroke="#000" stroke-width="3.9"/>
<line x1="1672.9" y1="2064.2" x2="1717.9" y2="2064.2" stroke="#000" stroke-width="3.9"/>
<rect x="1667.7" y="2079.9" width="55.4" height="156.1" fill="#bcbec0" stroke="#636466" stroke-width="3.8"/>
<line x1="1803" y1="2075.2" x2="1803" y2="2094" stroke="#000" stroke-width="3.9"/>
<line x1="1780.5" y1="2075.2" x2="1825.5" y2="2075.2" stroke="#000" stroke-width="3.9"/>
<rect x="1775.4" y="2094.9" width="55.1" height="141.1" fill="#bcbec0" stroke="#636466" stroke-width="3.8"/>
<line x1="1533.9" y1="1895.3" x2="1533.9" y2="2238" stroke="#000" stroke-width="4"/>
<line x1="1521.5" y1="2236" x2="1859" y2="2236" stroke="#000" stroke-width="4"/>
<line x1="1522.9" y1="1897.3" x2="1533.9" y2="1897.3" stroke="#000" stroke-width="4"/>
<text transform="translate(1513 1910.1) scale(0.965 1)" font-size="40" text-anchor="end">30</text>
<line x1="1522.9" y1="2010.2" x2="1533.9" y2="2010.2" stroke="#000" stroke-width="4"/>
<text transform="translate(1513 2023) scale(0.965 1)" font-size="40" text-anchor="end">20</text>
<line x1="1522.9" y1="2123.1" x2="1533.9" y2="2123.1" stroke="#000" stroke-width="4"/>
<text transform="translate(1513 2135.9) scale(0.965 1)" font-size="40" text-anchor="end">10</text>
<line x1="1522.9" y1="2236" x2="1533.9" y2="2236" stroke="#000" stroke-width="4"/>
<text transform="translate(1513 2248.8) scale(0.965 1)" font-size="40" text-anchor="end">0</text>
<text x="1697.2" y="2059.5" font-size="40" text-anchor="middle" letter-spacing="3.4" stroke="#000" stroke-width="0.7">***</text>
<text x="1804.7" y="2067" font-size="40" text-anchor="middle" letter-spacing="3.4" stroke="#000" stroke-width="0.7">***</text>
<text transform="translate(1446 2068.2) rotate(-90) scale(0.975 1)" font-size="40" text-anchor="middle">cleaved PARP (%)</text>
<text transform="translate(1606.4 2270) rotate(-45)" font-size="40" text-anchor="end">Control</text>
<text transform="translate(1714.4 2270) rotate(-45)" font-size="40" text-anchor="end">Reversine</text>
<text transform="translate(1822 2270) rotate(-45)" font-size="40" text-anchor="end">Mps-BAY2a</text>
</svg>
</body></html>
